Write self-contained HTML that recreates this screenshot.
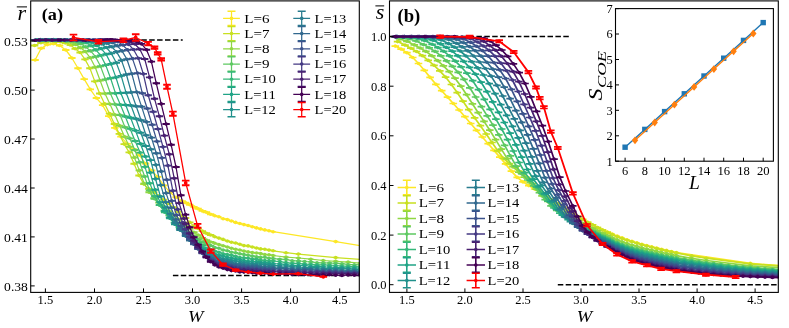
<!DOCTYPE html>
<html><head><meta charset="utf-8"><title>fig</title>
<style>html,body{margin:0;padding:0;background:#fff}svg{display:block;will-change:transform}</style></head>
<body>
<svg width="789" height="328" viewBox="0 0 789 328" font-family="Liberation Serif, serif" fill="#000">
<rect width="789" height="328" fill="#fff"/>
<defs><clipPath id="ca"><rect x="30.7" y="0.9" width="328.6" height="291.5"/></clipPath><clipPath id="cb"><rect x="389.5" y="0.9" width="388.79999999999995" height="291.5"/></clipPath></defs>
<g clip-path="url(#ca)">
<path d="M30.7,40.0H182.7M172.9,275.6H359.3" stroke="#000" stroke-width="1.5" stroke-dasharray="5.5,2.4" fill="none"/>
<polyline points="35.1,60.0 41.2,48.3 47.4,44.6 53.5,43.7 59.6,45.5 65.8,50.0 71.9,58.0 78.0,68.2 84.2,79.1 90.3,89.4 96.4,98.0 102.6,105.1 108.7,116.1 114.8,127.9 120.9,136.6 127.1,143.9 133.2,149.2 139.3,155.1 145.5,163.5 151.6,170.5 157.7,176.9 163.9,185.4 170.0,192.4 176.1,197.3 182.2,201.1 185.6,202.8 189.8,204.7 193.9,206.9 198.1,208.7 202.3,210.9 206.4,212.3 210.6,214.3 214.8,215.7 218.9,216.7 223.1,218.8 227.3,219.6 231.4,221.0 235.6,222.4 239.8,223.5 243.9,224.6 248.1,225.5 252.3,226.8 256.5,227.9 260.6,228.9 264.8,229.9 269.0,230.7 273.1,231.7 335.7,241.6 397.6,251.9" fill="none" stroke="#fde725" stroke-width="1.25" stroke-linejoin="round"/>
<path d="M31.4,60.0h7.4M37.5,48.3h7.4M43.7,44.6h7.4M49.8,43.7h7.4M55.9,45.5h7.4M62.1,50.0h7.4M68.2,58.0h7.4M74.3,68.2h7.4M80.5,79.1h7.4M86.6,89.4h7.4M92.7,98.0h7.4M98.9,105.1h7.4M105.0,116.1h7.4M111.1,127.9h7.4M117.2,136.6h7.4M123.4,143.9h7.4M129.5,149.2h7.4M135.6,155.1h7.4M141.8,163.5h7.4M147.9,170.5h7.4M154.0,176.9h7.4M160.2,185.4h7.4M166.3,192.4h7.4M172.4,197.3h7.4M178.5,201.1h7.4M181.9,202.8h7.4M186.1,204.7h7.4M190.2,206.9h7.4M194.4,208.7h7.4M198.6,210.9h7.4M202.7,212.3h7.4M206.9,214.3h7.4" stroke="#fde725" stroke-width="1.9" fill="none"/>
<path d="M212.2,215.7h5.2M216.3,216.7h5.2M220.5,218.8h5.2M224.7,219.6h5.2M228.8,221.0h5.2M233.0,222.4h5.2M237.2,223.5h5.2M241.3,224.6h5.2M245.5,225.5h5.2M249.7,226.8h5.2M253.9,227.9h5.2M258.0,228.9h5.2M262.2,229.9h5.2M266.4,230.7h5.2M270.5,231.7h5.2M333.1,241.6h5.2M395.0,251.9h5.2" stroke="#fde725" stroke-width="1.5" fill="none"/>
<path d="M33.3,60.0a1.8,1.8 0 1,0 3.6,0a1.8,1.8 0 1,0 -3.6,0zM39.4,48.3a1.8,1.8 0 1,0 3.6,0a1.8,1.8 0 1,0 -3.6,0zM45.6,44.6a1.8,1.8 0 1,0 3.6,0a1.8,1.8 0 1,0 -3.6,0zM51.7,43.7a1.8,1.8 0 1,0 3.6,0a1.8,1.8 0 1,0 -3.6,0zM57.8,45.5a1.8,1.8 0 1,0 3.6,0a1.8,1.8 0 1,0 -3.6,0zM64.0,50.0a1.8,1.8 0 1,0 3.6,0a1.8,1.8 0 1,0 -3.6,0zM70.1,58.0a1.8,1.8 0 1,0 3.6,0a1.8,1.8 0 1,0 -3.6,0zM76.2,68.2a1.8,1.8 0 1,0 3.6,0a1.8,1.8 0 1,0 -3.6,0zM82.4,79.1a1.8,1.8 0 1,0 3.6,0a1.8,1.8 0 1,0 -3.6,0zM88.5,89.4a1.8,1.8 0 1,0 3.6,0a1.8,1.8 0 1,0 -3.6,0zM94.6,98.0a1.8,1.8 0 1,0 3.6,0a1.8,1.8 0 1,0 -3.6,0zM100.8,105.1a1.8,1.8 0 1,0 3.6,0a1.8,1.8 0 1,0 -3.6,0zM106.9,116.1a1.8,1.8 0 1,0 3.6,0a1.8,1.8 0 1,0 -3.6,0zM113.0,127.9a1.8,1.8 0 1,0 3.6,0a1.8,1.8 0 1,0 -3.6,0zM119.1,136.6a1.8,1.8 0 1,0 3.6,0a1.8,1.8 0 1,0 -3.6,0zM125.3,143.9a1.8,1.8 0 1,0 3.6,0a1.8,1.8 0 1,0 -3.6,0zM131.4,149.2a1.8,1.8 0 1,0 3.6,0a1.8,1.8 0 1,0 -3.6,0zM137.5,155.1a1.8,1.8 0 1,0 3.6,0a1.8,1.8 0 1,0 -3.6,0zM143.7,163.5a1.8,1.8 0 1,0 3.6,0a1.8,1.8 0 1,0 -3.6,0zM149.8,170.5a1.8,1.8 0 1,0 3.6,0a1.8,1.8 0 1,0 -3.6,0zM155.9,176.9a1.8,1.8 0 1,0 3.6,0a1.8,1.8 0 1,0 -3.6,0zM162.1,185.4a1.8,1.8 0 1,0 3.6,0a1.8,1.8 0 1,0 -3.6,0zM168.2,192.4a1.8,1.8 0 1,0 3.6,0a1.8,1.8 0 1,0 -3.6,0zM174.3,197.3a1.8,1.8 0 1,0 3.6,0a1.8,1.8 0 1,0 -3.6,0zM180.4,201.1a1.8,1.8 0 1,0 3.6,0a1.8,1.8 0 1,0 -3.6,0zM183.8,202.8a1.8,1.8 0 1,0 3.6,0a1.8,1.8 0 1,0 -3.6,0zM188.0,204.7a1.8,1.8 0 1,0 3.6,0a1.8,1.8 0 1,0 -3.6,0zM192.1,206.9a1.8,1.8 0 1,0 3.6,0a1.8,1.8 0 1,0 -3.6,0zM196.3,208.7a1.8,1.8 0 1,0 3.6,0a1.8,1.8 0 1,0 -3.6,0zM200.5,210.9a1.8,1.8 0 1,0 3.6,0a1.8,1.8 0 1,0 -3.6,0zM204.6,212.3a1.8,1.8 0 1,0 3.6,0a1.8,1.8 0 1,0 -3.6,0zM208.8,214.3a1.8,1.8 0 1,0 3.6,0a1.8,1.8 0 1,0 -3.6,0zM213.0,215.7a1.8,1.8 0 1,0 3.6,0a1.8,1.8 0 1,0 -3.6,0zM217.1,216.7a1.8,1.8 0 1,0 3.6,0a1.8,1.8 0 1,0 -3.6,0zM221.3,218.8a1.8,1.8 0 1,0 3.6,0a1.8,1.8 0 1,0 -3.6,0zM225.5,219.6a1.8,1.8 0 1,0 3.6,0a1.8,1.8 0 1,0 -3.6,0zM229.6,221.0a1.8,1.8 0 1,0 3.6,0a1.8,1.8 0 1,0 -3.6,0zM233.8,222.4a1.8,1.8 0 1,0 3.6,0a1.8,1.8 0 1,0 -3.6,0zM238.0,223.5a1.8,1.8 0 1,0 3.6,0a1.8,1.8 0 1,0 -3.6,0zM242.1,224.6a1.8,1.8 0 1,0 3.6,0a1.8,1.8 0 1,0 -3.6,0zM246.3,225.5a1.8,1.8 0 1,0 3.6,0a1.8,1.8 0 1,0 -3.6,0zM250.5,226.8a1.8,1.8 0 1,0 3.6,0a1.8,1.8 0 1,0 -3.6,0zM254.7,227.9a1.8,1.8 0 1,0 3.6,0a1.8,1.8 0 1,0 -3.6,0zM258.8,228.9a1.8,1.8 0 1,0 3.6,0a1.8,1.8 0 1,0 -3.6,0zM263.0,229.9a1.8,1.8 0 1,0 3.6,0a1.8,1.8 0 1,0 -3.6,0zM267.2,230.7a1.8,1.8 0 1,0 3.6,0a1.8,1.8 0 1,0 -3.6,0zM271.3,231.7a1.8,1.8 0 1,0 3.6,0a1.8,1.8 0 1,0 -3.6,0zM333.9,241.6a1.8,1.8 0 1,0 3.6,0a1.8,1.8 0 1,0 -3.6,0zM395.8,251.9a1.8,1.8 0 1,0 3.6,0a1.8,1.8 0 1,0 -3.6,0z" fill="#fde725"/>
<polyline points="34.6,45.5 40.9,42.7 45.8,42.0 50.7,40.9 55.6,41.8 60.5,41.8 65.4,43.0 70.3,45.0 75.2,48.8 80.1,52.5 85.0,59.4 89.9,68.3 94.8,81.4 99.7,93.5 104.6,103.8 109.5,113.6 114.4,124.0 119.3,133.9 124.2,144.1 129.2,152.4 134.1,163.7 139.0,175.5 143.9,184.1 148.8,188.9 153.7,192.2 158.6,195.9 163.5,199.6 168.4,203.4 173.3,207.3 178.2,211.7 183.1,216.3 185.6,218.0 189.8,222.4 193.9,226.1 198.1,228.5 202.3,231.1 206.4,233.2 210.6,235.0 214.8,236.7 218.9,238.1 223.1,239.4 227.3,241.0 231.4,242.3 235.6,243.0 239.8,244.3 243.9,245.6 248.1,245.9 252.3,247.0 256.5,248.0 260.6,248.9 264.8,249.3 269.0,250.1 273.1,250.8 286.0,252.7 298.4,254.1 335.7,257.6 397.6,262.3" fill="none" stroke="#c8e020" stroke-width="1.25" stroke-linejoin="round"/>
<path d="M30.9,45.5h7.4M37.2,42.7h7.4M42.1,42.0h7.4M47.0,40.9h7.4M51.9,41.8h7.4M56.8,41.8h7.4M61.7,43.0h7.4M66.6,45.0h7.4M71.5,48.8h7.4M76.4,52.5h7.4M81.3,59.4h7.4M86.2,68.3h7.4M91.1,81.4h7.4M96.0,93.5h7.4M100.9,103.8h7.4M105.8,113.6h7.4M110.7,124.0h7.4M115.6,133.9h7.4M120.5,144.1h7.4M125.5,152.4h7.4M130.4,163.7h7.4M135.3,175.5h7.4M140.2,184.1h7.4M145.1,188.9h7.4M150.0,192.2h7.4M154.9,195.9h7.4M159.8,199.6h7.4M164.7,203.4h7.4M169.6,207.3h7.4M174.5,211.7h7.4M179.4,216.3h7.4M181.9,218.0h7.4M186.1,222.4h7.4M190.2,226.1h7.4M194.4,228.5h7.4M198.6,231.1h7.4M202.7,233.2h7.4M206.9,235.0h7.4" stroke="#c8e020" stroke-width="1.9" fill="none"/>
<path d="M212.2,236.7h5.2M216.3,238.1h5.2M220.5,239.4h5.2M224.7,241.0h5.2M228.8,242.3h5.2M233.0,243.0h5.2M237.2,244.3h5.2M241.3,245.6h5.2M245.5,245.9h5.2M249.7,247.0h5.2M253.9,248.0h5.2M258.0,248.9h5.2M262.2,249.3h5.2M266.4,250.1h5.2M270.5,250.8h5.2M283.4,252.7h5.2M295.8,254.1h5.2M333.1,257.6h5.2M395.0,262.3h5.2" stroke="#c8e020" stroke-width="1.5" fill="none"/>
<path d="M32.8,45.5a1.8,1.8 0 1,0 3.6,0a1.8,1.8 0 1,0 -3.6,0zM39.1,42.7a1.8,1.8 0 1,0 3.6,0a1.8,1.8 0 1,0 -3.6,0zM44.0,42.0a1.8,1.8 0 1,0 3.6,0a1.8,1.8 0 1,0 -3.6,0zM48.9,40.9a1.8,1.8 0 1,0 3.6,0a1.8,1.8 0 1,0 -3.6,0zM53.8,41.8a1.8,1.8 0 1,0 3.6,0a1.8,1.8 0 1,0 -3.6,0zM58.7,41.8a1.8,1.8 0 1,0 3.6,0a1.8,1.8 0 1,0 -3.6,0zM63.6,43.0a1.8,1.8 0 1,0 3.6,0a1.8,1.8 0 1,0 -3.6,0zM68.5,45.0a1.8,1.8 0 1,0 3.6,0a1.8,1.8 0 1,0 -3.6,0zM73.4,48.8a1.8,1.8 0 1,0 3.6,0a1.8,1.8 0 1,0 -3.6,0zM78.3,52.5a1.8,1.8 0 1,0 3.6,0a1.8,1.8 0 1,0 -3.6,0zM83.2,59.4a1.8,1.8 0 1,0 3.6,0a1.8,1.8 0 1,0 -3.6,0zM88.1,68.3a1.8,1.8 0 1,0 3.6,0a1.8,1.8 0 1,0 -3.6,0zM93.0,81.4a1.8,1.8 0 1,0 3.6,0a1.8,1.8 0 1,0 -3.6,0zM97.9,93.5a1.8,1.8 0 1,0 3.6,0a1.8,1.8 0 1,0 -3.6,0zM102.8,103.8a1.8,1.8 0 1,0 3.6,0a1.8,1.8 0 1,0 -3.6,0zM107.7,113.6a1.8,1.8 0 1,0 3.6,0a1.8,1.8 0 1,0 -3.6,0zM112.6,124.0a1.8,1.8 0 1,0 3.6,0a1.8,1.8 0 1,0 -3.6,0zM117.5,133.9a1.8,1.8 0 1,0 3.6,0a1.8,1.8 0 1,0 -3.6,0zM122.4,144.1a1.8,1.8 0 1,0 3.6,0a1.8,1.8 0 1,0 -3.6,0zM127.4,152.4a1.8,1.8 0 1,0 3.6,0a1.8,1.8 0 1,0 -3.6,0zM132.3,163.7a1.8,1.8 0 1,0 3.6,0a1.8,1.8 0 1,0 -3.6,0zM137.2,175.5a1.8,1.8 0 1,0 3.6,0a1.8,1.8 0 1,0 -3.6,0zM142.1,184.1a1.8,1.8 0 1,0 3.6,0a1.8,1.8 0 1,0 -3.6,0zM147.0,188.9a1.8,1.8 0 1,0 3.6,0a1.8,1.8 0 1,0 -3.6,0zM151.9,192.2a1.8,1.8 0 1,0 3.6,0a1.8,1.8 0 1,0 -3.6,0zM156.8,195.9a1.8,1.8 0 1,0 3.6,0a1.8,1.8 0 1,0 -3.6,0zM161.7,199.6a1.8,1.8 0 1,0 3.6,0a1.8,1.8 0 1,0 -3.6,0zM166.6,203.4a1.8,1.8 0 1,0 3.6,0a1.8,1.8 0 1,0 -3.6,0zM171.5,207.3a1.8,1.8 0 1,0 3.6,0a1.8,1.8 0 1,0 -3.6,0zM176.4,211.7a1.8,1.8 0 1,0 3.6,0a1.8,1.8 0 1,0 -3.6,0zM181.3,216.3a1.8,1.8 0 1,0 3.6,0a1.8,1.8 0 1,0 -3.6,0zM183.8,218.0a1.8,1.8 0 1,0 3.6,0a1.8,1.8 0 1,0 -3.6,0zM188.0,222.4a1.8,1.8 0 1,0 3.6,0a1.8,1.8 0 1,0 -3.6,0zM192.1,226.1a1.8,1.8 0 1,0 3.6,0a1.8,1.8 0 1,0 -3.6,0zM196.3,228.5a1.8,1.8 0 1,0 3.6,0a1.8,1.8 0 1,0 -3.6,0zM200.5,231.1a1.8,1.8 0 1,0 3.6,0a1.8,1.8 0 1,0 -3.6,0zM204.6,233.2a1.8,1.8 0 1,0 3.6,0a1.8,1.8 0 1,0 -3.6,0zM208.8,235.0a1.8,1.8 0 1,0 3.6,0a1.8,1.8 0 1,0 -3.6,0zM213.0,236.7a1.8,1.8 0 1,0 3.6,0a1.8,1.8 0 1,0 -3.6,0zM217.1,238.1a1.8,1.8 0 1,0 3.6,0a1.8,1.8 0 1,0 -3.6,0zM221.3,239.4a1.8,1.8 0 1,0 3.6,0a1.8,1.8 0 1,0 -3.6,0zM225.5,241.0a1.8,1.8 0 1,0 3.6,0a1.8,1.8 0 1,0 -3.6,0zM229.6,242.3a1.8,1.8 0 1,0 3.6,0a1.8,1.8 0 1,0 -3.6,0zM233.8,243.0a1.8,1.8 0 1,0 3.6,0a1.8,1.8 0 1,0 -3.6,0zM238.0,244.3a1.8,1.8 0 1,0 3.6,0a1.8,1.8 0 1,0 -3.6,0zM242.1,245.6a1.8,1.8 0 1,0 3.6,0a1.8,1.8 0 1,0 -3.6,0zM246.3,245.9a1.8,1.8 0 1,0 3.6,0a1.8,1.8 0 1,0 -3.6,0zM250.5,247.0a1.8,1.8 0 1,0 3.6,0a1.8,1.8 0 1,0 -3.6,0zM254.7,248.0a1.8,1.8 0 1,0 3.6,0a1.8,1.8 0 1,0 -3.6,0zM258.8,248.9a1.8,1.8 0 1,0 3.6,0a1.8,1.8 0 1,0 -3.6,0zM263.0,249.3a1.8,1.8 0 1,0 3.6,0a1.8,1.8 0 1,0 -3.6,0zM267.2,250.1a1.8,1.8 0 1,0 3.6,0a1.8,1.8 0 1,0 -3.6,0zM271.3,250.8a1.8,1.8 0 1,0 3.6,0a1.8,1.8 0 1,0 -3.6,0zM284.2,252.7a1.8,1.8 0 1,0 3.6,0a1.8,1.8 0 1,0 -3.6,0zM296.6,254.1a1.8,1.8 0 1,0 3.6,0a1.8,1.8 0 1,0 -3.6,0zM333.9,257.6a1.8,1.8 0 1,0 3.6,0a1.8,1.8 0 1,0 -3.6,0zM395.8,262.3a1.8,1.8 0 1,0 3.6,0a1.8,1.8 0 1,0 -3.6,0z" fill="#c8e020"/>
<polyline points="39.9,41.1 46.1,40.4 51.0,40.5 55.9,40.5 60.9,40.7 65.8,41.4 70.7,42.3 75.6,44.5 80.5,47.8 85.4,51.6 90.3,57.8 95.2,67.2 100.1,80.5 105.0,93.6 109.9,104.1 114.8,114.7 119.7,125.8 124.6,136.8 129.5,146.7 134.4,157.5 139.3,170.4 144.2,183.5 149.1,192.2 154.0,198.3 158.9,202.6 163.8,206.7 168.8,211.1 173.7,215.0 178.6,219.2 183.5,223.3 185.6,225.5 189.8,228.7 193.9,232.3 198.1,235.1 202.3,237.9 206.4,240.1 210.6,242.0 214.8,243.3 218.9,244.6 223.1,245.7 227.3,247.0 231.4,248.3 235.6,249.2 239.8,250.0 243.9,251.1 248.1,251.9 252.3,252.6 256.5,253.0 260.6,253.6 264.8,254.5 269.0,254.8 273.1,255.5 286.0,257.1 298.4,258.0 310.8,259.2 323.2,260.5 335.7,261.3 348.1,262.1 360.5,263.1 372.9,263.7 385.3,264.2 397.8,265.3" fill="none" stroke="#90d743" stroke-width="1.25" stroke-linejoin="round"/>
<path d="M36.2,41.1h7.4M42.4,40.4h7.4M47.3,40.5h7.4M52.2,40.5h7.4M57.2,40.7h7.4M62.1,41.4h7.4M67.0,42.3h7.4M71.9,44.5h7.4M76.8,47.8h7.4M81.7,51.6h7.4M86.6,57.8h7.4M91.5,67.2h7.4M96.4,80.5h7.4M101.3,93.6h7.4M106.2,104.1h7.4M111.1,114.7h7.4M116.0,125.8h7.4M120.9,136.8h7.4M125.8,146.7h7.4M130.7,157.5h7.4M135.6,170.4h7.4M140.5,183.5h7.4M145.4,192.2h7.4M150.3,198.3h7.4M155.2,202.6h7.4M160.1,206.7h7.4M165.1,211.1h7.4M170.0,215.0h7.4M174.9,219.2h7.4M179.8,223.3h7.4M181.9,225.5h7.4M186.1,228.7h7.4M190.2,232.3h7.4M194.4,235.1h7.4M198.6,237.9h7.4M202.7,240.1h7.4M206.9,242.0h7.4" stroke="#90d743" stroke-width="1.9" fill="none"/>
<path d="M212.2,243.3h5.2M216.3,244.6h5.2M220.5,245.7h5.2M224.7,247.0h5.2M228.8,248.3h5.2M233.0,249.2h5.2M237.2,250.0h5.2M241.3,251.1h5.2M245.5,251.9h5.2M249.7,252.6h5.2M253.9,253.0h5.2M258.0,253.6h5.2M262.2,254.5h5.2M266.4,254.8h5.2M270.5,255.5h5.2M283.4,257.1h5.2M295.8,258.0h5.2M308.2,259.2h5.2M320.6,260.5h5.2M333.1,261.3h5.2M345.5,262.1h5.2M357.9,263.1h5.2M370.3,263.7h5.2M382.7,264.2h5.2M395.2,265.3h5.2" stroke="#90d743" stroke-width="1.5" fill="none"/>
<path d="M38.1,41.1a1.8,1.8 0 1,0 3.6,0a1.8,1.8 0 1,0 -3.6,0zM44.3,40.4a1.8,1.8 0 1,0 3.6,0a1.8,1.8 0 1,0 -3.6,0zM49.2,40.5a1.8,1.8 0 1,0 3.6,0a1.8,1.8 0 1,0 -3.6,0zM54.1,40.5a1.8,1.8 0 1,0 3.6,0a1.8,1.8 0 1,0 -3.6,0zM59.1,40.7a1.8,1.8 0 1,0 3.6,0a1.8,1.8 0 1,0 -3.6,0zM64.0,41.4a1.8,1.8 0 1,0 3.6,0a1.8,1.8 0 1,0 -3.6,0zM68.9,42.3a1.8,1.8 0 1,0 3.6,0a1.8,1.8 0 1,0 -3.6,0zM73.8,44.5a1.8,1.8 0 1,0 3.6,0a1.8,1.8 0 1,0 -3.6,0zM78.7,47.8a1.8,1.8 0 1,0 3.6,0a1.8,1.8 0 1,0 -3.6,0zM83.6,51.6a1.8,1.8 0 1,0 3.6,0a1.8,1.8 0 1,0 -3.6,0zM88.5,57.8a1.8,1.8 0 1,0 3.6,0a1.8,1.8 0 1,0 -3.6,0zM93.4,67.2a1.8,1.8 0 1,0 3.6,0a1.8,1.8 0 1,0 -3.6,0zM98.3,80.5a1.8,1.8 0 1,0 3.6,0a1.8,1.8 0 1,0 -3.6,0zM103.2,93.6a1.8,1.8 0 1,0 3.6,0a1.8,1.8 0 1,0 -3.6,0zM108.1,104.1a1.8,1.8 0 1,0 3.6,0a1.8,1.8 0 1,0 -3.6,0zM113.0,114.7a1.8,1.8 0 1,0 3.6,0a1.8,1.8 0 1,0 -3.6,0zM117.9,125.8a1.8,1.8 0 1,0 3.6,0a1.8,1.8 0 1,0 -3.6,0zM122.8,136.8a1.8,1.8 0 1,0 3.6,0a1.8,1.8 0 1,0 -3.6,0zM127.7,146.7a1.8,1.8 0 1,0 3.6,0a1.8,1.8 0 1,0 -3.6,0zM132.6,157.5a1.8,1.8 0 1,0 3.6,0a1.8,1.8 0 1,0 -3.6,0zM137.5,170.4a1.8,1.8 0 1,0 3.6,0a1.8,1.8 0 1,0 -3.6,0zM142.4,183.5a1.8,1.8 0 1,0 3.6,0a1.8,1.8 0 1,0 -3.6,0zM147.3,192.2a1.8,1.8 0 1,0 3.6,0a1.8,1.8 0 1,0 -3.6,0zM152.2,198.3a1.8,1.8 0 1,0 3.6,0a1.8,1.8 0 1,0 -3.6,0zM157.1,202.6a1.8,1.8 0 1,0 3.6,0a1.8,1.8 0 1,0 -3.6,0zM162.0,206.7a1.8,1.8 0 1,0 3.6,0a1.8,1.8 0 1,0 -3.6,0zM167.0,211.1a1.8,1.8 0 1,0 3.6,0a1.8,1.8 0 1,0 -3.6,0zM171.9,215.0a1.8,1.8 0 1,0 3.6,0a1.8,1.8 0 1,0 -3.6,0zM176.8,219.2a1.8,1.8 0 1,0 3.6,0a1.8,1.8 0 1,0 -3.6,0zM181.7,223.3a1.8,1.8 0 1,0 3.6,0a1.8,1.8 0 1,0 -3.6,0zM183.8,225.5a1.8,1.8 0 1,0 3.6,0a1.8,1.8 0 1,0 -3.6,0zM188.0,228.7a1.8,1.8 0 1,0 3.6,0a1.8,1.8 0 1,0 -3.6,0zM192.1,232.3a1.8,1.8 0 1,0 3.6,0a1.8,1.8 0 1,0 -3.6,0zM196.3,235.1a1.8,1.8 0 1,0 3.6,0a1.8,1.8 0 1,0 -3.6,0zM200.5,237.9a1.8,1.8 0 1,0 3.6,0a1.8,1.8 0 1,0 -3.6,0zM204.6,240.1a1.8,1.8 0 1,0 3.6,0a1.8,1.8 0 1,0 -3.6,0zM208.8,242.0a1.8,1.8 0 1,0 3.6,0a1.8,1.8 0 1,0 -3.6,0zM213.0,243.3a1.8,1.8 0 1,0 3.6,0a1.8,1.8 0 1,0 -3.6,0zM217.1,244.6a1.8,1.8 0 1,0 3.6,0a1.8,1.8 0 1,0 -3.6,0zM221.3,245.7a1.8,1.8 0 1,0 3.6,0a1.8,1.8 0 1,0 -3.6,0zM225.5,247.0a1.8,1.8 0 1,0 3.6,0a1.8,1.8 0 1,0 -3.6,0zM229.6,248.3a1.8,1.8 0 1,0 3.6,0a1.8,1.8 0 1,0 -3.6,0zM233.8,249.2a1.8,1.8 0 1,0 3.6,0a1.8,1.8 0 1,0 -3.6,0zM238.0,250.0a1.8,1.8 0 1,0 3.6,0a1.8,1.8 0 1,0 -3.6,0zM242.1,251.1a1.8,1.8 0 1,0 3.6,0a1.8,1.8 0 1,0 -3.6,0zM246.3,251.9a1.8,1.8 0 1,0 3.6,0a1.8,1.8 0 1,0 -3.6,0zM250.5,252.6a1.8,1.8 0 1,0 3.6,0a1.8,1.8 0 1,0 -3.6,0zM254.7,253.0a1.8,1.8 0 1,0 3.6,0a1.8,1.8 0 1,0 -3.6,0zM258.8,253.6a1.8,1.8 0 1,0 3.6,0a1.8,1.8 0 1,0 -3.6,0zM263.0,254.5a1.8,1.8 0 1,0 3.6,0a1.8,1.8 0 1,0 -3.6,0zM267.2,254.8a1.8,1.8 0 1,0 3.6,0a1.8,1.8 0 1,0 -3.6,0zM271.3,255.5a1.8,1.8 0 1,0 3.6,0a1.8,1.8 0 1,0 -3.6,0zM284.2,257.1a1.8,1.8 0 1,0 3.6,0a1.8,1.8 0 1,0 -3.6,0zM296.6,258.0a1.8,1.8 0 1,0 3.6,0a1.8,1.8 0 1,0 -3.6,0zM309.0,259.2a1.8,1.8 0 1,0 3.6,0a1.8,1.8 0 1,0 -3.6,0zM321.4,260.5a1.8,1.8 0 1,0 3.6,0a1.8,1.8 0 1,0 -3.6,0zM333.9,261.3a1.8,1.8 0 1,0 3.6,0a1.8,1.8 0 1,0 -3.6,0zM346.3,262.1a1.8,1.8 0 1,0 3.6,0a1.8,1.8 0 1,0 -3.6,0zM358.7,263.1a1.8,1.8 0 1,0 3.6,0a1.8,1.8 0 1,0 -3.6,0zM371.1,263.7a1.8,1.8 0 1,0 3.6,0a1.8,1.8 0 1,0 -3.6,0zM383.5,264.2a1.8,1.8 0 1,0 3.6,0a1.8,1.8 0 1,0 -3.6,0zM396.0,265.3a1.8,1.8 0 1,0 3.6,0a1.8,1.8 0 1,0 -3.6,0z" fill="#90d743"/>
<polyline points="38.9,39.9 45.2,39.8 51.4,40.0 56.3,40.5 61.2,40.4 66.1,40.9 71.0,41.0 75.9,41.7 80.8,43.7 85.7,46.9 90.6,50.9 95.5,56.7 100.5,66.3 105.4,79.4 110.3,93.3 115.2,104.4 120.1,115.1 125.0,127.3 129.9,138.4 134.8,150.0 139.7,162.2 144.6,176.5 149.5,190.4 154.4,198.7 159.3,205.1 164.2,210.8 169.1,215.2 174.0,219.5 178.9,223.4 183.8,227.5 185.6,229.2 189.8,232.8 193.9,236.4 198.1,239.4 202.3,242.0 206.4,244.3 210.6,245.6 214.8,247.5 218.9,248.3 223.1,250.1 227.3,250.8 231.4,252.2 235.6,252.7 239.8,253.8 243.9,254.6 248.1,255.2 252.3,256.1 256.5,256.7 260.6,257.4 264.8,257.3 269.0,258.2 273.1,258.6 279.8,259.2 286.0,259.4 292.2,260.7 298.4,260.9 304.6,261.5 310.8,261.8 317.0,262.7 323.2,262.9 329.5,263.0 335.7,263.3 341.9,263.7 348.1,264.5 354.3,264.7 360.5,265.0 366.7,265.6 372.9,265.9 379.1,265.8 385.3,266.2 391.5,266.5 397.8,266.5 404.0,267.2" fill="none" stroke="#5ec962" stroke-width="1.25" stroke-linejoin="round"/>
<path d="M35.2,39.9h7.4M41.5,39.8h7.4M47.7,40.0h7.4M52.6,40.5h7.4M57.5,40.4h7.4M62.4,40.9h7.4M67.3,41.0h7.4M72.2,41.7h7.4M77.1,43.7h7.4M82.0,46.9h7.4M86.9,50.9h7.4M91.8,56.7h7.4M96.8,66.3h7.4M101.7,79.4h7.4M106.6,93.3h7.4M111.5,104.4h7.4M116.4,115.1h7.4M121.3,127.3h7.4M126.2,138.4h7.4M131.1,150.0h7.4M136.0,162.2h7.4M140.9,176.5h7.4M145.8,190.4h7.4M150.7,198.7h7.4M155.6,205.1h7.4M160.5,210.8h7.4M165.4,215.2h7.4M170.3,219.5h7.4M175.2,223.4h7.4M180.1,227.5h7.4M181.9,229.2h7.4M186.1,232.8h7.4M190.2,236.4h7.4M194.4,239.4h7.4M198.6,242.0h7.4M202.7,244.3h7.4M206.9,245.6h7.4" stroke="#5ec962" stroke-width="1.9" fill="none"/>
<path d="M212.2,247.5h5.2M216.3,248.3h5.2M220.5,250.1h5.2M224.7,250.8h5.2M228.8,252.2h5.2M233.0,252.7h5.2M237.2,253.8h5.2M241.3,254.6h5.2M245.5,255.2h5.2M249.7,256.1h5.2M253.9,256.7h5.2M258.0,257.4h5.2M262.2,257.3h5.2M266.4,258.2h5.2M270.5,258.6h5.2M277.2,259.2h5.2M283.4,259.4h5.2M289.6,260.7h5.2M295.8,260.9h5.2M302.0,261.5h5.2M308.2,261.8h5.2M314.4,262.7h5.2M320.6,262.9h5.2M326.9,263.0h5.2M333.1,263.3h5.2M339.3,263.7h5.2M345.5,264.5h5.2M351.7,264.7h5.2M357.9,265.0h5.2M364.1,265.6h5.2M370.3,265.9h5.2M376.5,265.8h5.2M382.7,266.2h5.2M388.9,266.5h5.2M395.2,266.5h5.2M401.4,267.2h5.2" stroke="#5ec962" stroke-width="1.5" fill="none"/>
<path d="M37.1,39.9a1.8,1.8 0 1,0 3.6,0a1.8,1.8 0 1,0 -3.6,0zM43.4,39.8a1.8,1.8 0 1,0 3.6,0a1.8,1.8 0 1,0 -3.6,0zM49.6,40.0a1.8,1.8 0 1,0 3.6,0a1.8,1.8 0 1,0 -3.6,0zM54.5,40.5a1.8,1.8 0 1,0 3.6,0a1.8,1.8 0 1,0 -3.6,0zM59.4,40.4a1.8,1.8 0 1,0 3.6,0a1.8,1.8 0 1,0 -3.6,0zM64.3,40.9a1.8,1.8 0 1,0 3.6,0a1.8,1.8 0 1,0 -3.6,0zM69.2,41.0a1.8,1.8 0 1,0 3.6,0a1.8,1.8 0 1,0 -3.6,0zM74.1,41.7a1.8,1.8 0 1,0 3.6,0a1.8,1.8 0 1,0 -3.6,0zM79.0,43.7a1.8,1.8 0 1,0 3.6,0a1.8,1.8 0 1,0 -3.6,0zM83.9,46.9a1.8,1.8 0 1,0 3.6,0a1.8,1.8 0 1,0 -3.6,0zM88.8,50.9a1.8,1.8 0 1,0 3.6,0a1.8,1.8 0 1,0 -3.6,0zM93.7,56.7a1.8,1.8 0 1,0 3.6,0a1.8,1.8 0 1,0 -3.6,0zM98.7,66.3a1.8,1.8 0 1,0 3.6,0a1.8,1.8 0 1,0 -3.6,0zM103.6,79.4a1.8,1.8 0 1,0 3.6,0a1.8,1.8 0 1,0 -3.6,0zM108.5,93.3a1.8,1.8 0 1,0 3.6,0a1.8,1.8 0 1,0 -3.6,0zM113.4,104.4a1.8,1.8 0 1,0 3.6,0a1.8,1.8 0 1,0 -3.6,0zM118.3,115.1a1.8,1.8 0 1,0 3.6,0a1.8,1.8 0 1,0 -3.6,0zM123.2,127.3a1.8,1.8 0 1,0 3.6,0a1.8,1.8 0 1,0 -3.6,0zM128.1,138.4a1.8,1.8 0 1,0 3.6,0a1.8,1.8 0 1,0 -3.6,0zM133.0,150.0a1.8,1.8 0 1,0 3.6,0a1.8,1.8 0 1,0 -3.6,0zM137.9,162.2a1.8,1.8 0 1,0 3.6,0a1.8,1.8 0 1,0 -3.6,0zM142.8,176.5a1.8,1.8 0 1,0 3.6,0a1.8,1.8 0 1,0 -3.6,0zM147.7,190.4a1.8,1.8 0 1,0 3.6,0a1.8,1.8 0 1,0 -3.6,0zM152.6,198.7a1.8,1.8 0 1,0 3.6,0a1.8,1.8 0 1,0 -3.6,0zM157.5,205.1a1.8,1.8 0 1,0 3.6,0a1.8,1.8 0 1,0 -3.6,0zM162.4,210.8a1.8,1.8 0 1,0 3.6,0a1.8,1.8 0 1,0 -3.6,0zM167.3,215.2a1.8,1.8 0 1,0 3.6,0a1.8,1.8 0 1,0 -3.6,0zM172.2,219.5a1.8,1.8 0 1,0 3.6,0a1.8,1.8 0 1,0 -3.6,0zM177.1,223.4a1.8,1.8 0 1,0 3.6,0a1.8,1.8 0 1,0 -3.6,0zM182.0,227.5a1.8,1.8 0 1,0 3.6,0a1.8,1.8 0 1,0 -3.6,0zM183.8,229.2a1.8,1.8 0 1,0 3.6,0a1.8,1.8 0 1,0 -3.6,0zM188.0,232.8a1.8,1.8 0 1,0 3.6,0a1.8,1.8 0 1,0 -3.6,0zM192.1,236.4a1.8,1.8 0 1,0 3.6,0a1.8,1.8 0 1,0 -3.6,0zM196.3,239.4a1.8,1.8 0 1,0 3.6,0a1.8,1.8 0 1,0 -3.6,0zM200.5,242.0a1.8,1.8 0 1,0 3.6,0a1.8,1.8 0 1,0 -3.6,0zM204.6,244.3a1.8,1.8 0 1,0 3.6,0a1.8,1.8 0 1,0 -3.6,0zM208.8,245.6a1.8,1.8 0 1,0 3.6,0a1.8,1.8 0 1,0 -3.6,0zM213.0,247.5a1.8,1.8 0 1,0 3.6,0a1.8,1.8 0 1,0 -3.6,0zM217.1,248.3a1.8,1.8 0 1,0 3.6,0a1.8,1.8 0 1,0 -3.6,0zM221.3,250.1a1.8,1.8 0 1,0 3.6,0a1.8,1.8 0 1,0 -3.6,0zM225.5,250.8a1.8,1.8 0 1,0 3.6,0a1.8,1.8 0 1,0 -3.6,0zM229.6,252.2a1.8,1.8 0 1,0 3.6,0a1.8,1.8 0 1,0 -3.6,0zM233.8,252.7a1.8,1.8 0 1,0 3.6,0a1.8,1.8 0 1,0 -3.6,0zM238.0,253.8a1.8,1.8 0 1,0 3.6,0a1.8,1.8 0 1,0 -3.6,0zM242.1,254.6a1.8,1.8 0 1,0 3.6,0a1.8,1.8 0 1,0 -3.6,0zM246.3,255.2a1.8,1.8 0 1,0 3.6,0a1.8,1.8 0 1,0 -3.6,0zM250.5,256.1a1.8,1.8 0 1,0 3.6,0a1.8,1.8 0 1,0 -3.6,0zM254.7,256.7a1.8,1.8 0 1,0 3.6,0a1.8,1.8 0 1,0 -3.6,0zM258.8,257.4a1.8,1.8 0 1,0 3.6,0a1.8,1.8 0 1,0 -3.6,0zM263.0,257.3a1.8,1.8 0 1,0 3.6,0a1.8,1.8 0 1,0 -3.6,0zM267.2,258.2a1.8,1.8 0 1,0 3.6,0a1.8,1.8 0 1,0 -3.6,0zM271.3,258.6a1.8,1.8 0 1,0 3.6,0a1.8,1.8 0 1,0 -3.6,0zM278.0,259.2a1.8,1.8 0 1,0 3.6,0a1.8,1.8 0 1,0 -3.6,0zM284.2,259.4a1.8,1.8 0 1,0 3.6,0a1.8,1.8 0 1,0 -3.6,0zM290.4,260.7a1.8,1.8 0 1,0 3.6,0a1.8,1.8 0 1,0 -3.6,0zM296.6,260.9a1.8,1.8 0 1,0 3.6,0a1.8,1.8 0 1,0 -3.6,0zM302.8,261.5a1.8,1.8 0 1,0 3.6,0a1.8,1.8 0 1,0 -3.6,0zM309.0,261.8a1.8,1.8 0 1,0 3.6,0a1.8,1.8 0 1,0 -3.6,0zM315.2,262.7a1.8,1.8 0 1,0 3.6,0a1.8,1.8 0 1,0 -3.6,0zM321.4,262.9a1.8,1.8 0 1,0 3.6,0a1.8,1.8 0 1,0 -3.6,0zM327.7,263.0a1.8,1.8 0 1,0 3.6,0a1.8,1.8 0 1,0 -3.6,0zM333.9,263.3a1.8,1.8 0 1,0 3.6,0a1.8,1.8 0 1,0 -3.6,0zM340.1,263.7a1.8,1.8 0 1,0 3.6,0a1.8,1.8 0 1,0 -3.6,0zM346.3,264.5a1.8,1.8 0 1,0 3.6,0a1.8,1.8 0 1,0 -3.6,0zM352.5,264.7a1.8,1.8 0 1,0 3.6,0a1.8,1.8 0 1,0 -3.6,0zM358.7,265.0a1.8,1.8 0 1,0 3.6,0a1.8,1.8 0 1,0 -3.6,0zM364.9,265.6a1.8,1.8 0 1,0 3.6,0a1.8,1.8 0 1,0 -3.6,0zM371.1,265.9a1.8,1.8 0 1,0 3.6,0a1.8,1.8 0 1,0 -3.6,0zM377.3,265.8a1.8,1.8 0 1,0 3.6,0a1.8,1.8 0 1,0 -3.6,0zM383.5,266.2a1.8,1.8 0 1,0 3.6,0a1.8,1.8 0 1,0 -3.6,0zM389.7,266.5a1.8,1.8 0 1,0 3.6,0a1.8,1.8 0 1,0 -3.6,0zM396.0,266.5a1.8,1.8 0 1,0 3.6,0a1.8,1.8 0 1,0 -3.6,0zM402.2,267.2a1.8,1.8 0 1,0 3.6,0a1.8,1.8 0 1,0 -3.6,0z" fill="#5ec962"/>
<polyline points="37.9,39.9 44.2,40.0 50.4,40.0 56.7,39.9 61.6,40.1 66.5,40.3 71.4,40.5 76.3,40.5 81.2,41.6 86.1,42.7 91.0,45.8 95.9,49.9 100.8,55.5 105.7,65.1 110.6,78.2 115.5,93.4 120.4,104.8 125.3,116.5 130.2,128.9 135.1,141.0 140.1,152.6 145.0,166.9 149.9,183.2 154.8,196.3 159.7,205.0 164.6,212.2 169.5,217.6 174.4,222.6 179.3,227.0 184.2,231.1 185.6,232.7 189.8,236.3 193.9,239.5 198.1,243.1 202.3,245.6 206.4,248.2 210.6,249.5 214.8,251.1 218.9,252.2 223.1,253.7 227.3,254.6 231.4,255.3 235.6,256.3 239.8,257.6 243.9,257.7 248.1,258.3 252.3,259.1 256.5,259.3 260.6,260.2 264.8,260.5 269.0,260.7 273.1,261.0 279.8,261.6 286.0,262.6 292.2,263.3 298.4,263.3 304.6,264.1 310.8,264.3 317.0,264.9 323.2,264.8 329.5,265.2 335.7,265.5 341.9,266.0 348.1,266.3 354.3,266.6 360.5,266.8 366.7,267.1 372.9,267.3 379.1,267.7 385.3,267.5 391.5,268.1 397.8,268.1 404.0,268.3" fill="none" stroke="#35b779" stroke-width="1.25" stroke-linejoin="round"/>
<path d="M34.2,39.9h7.4M40.5,40.0h7.4M46.7,40.0h7.4M53.0,39.9h7.4M57.9,40.1h7.4M62.8,40.3h7.4M67.7,40.5h7.4M72.6,40.5h7.4M77.5,41.6h7.4M82.4,42.7h7.4M87.3,45.8h7.4M92.2,49.9h7.4M97.1,55.5h7.4M102.0,65.1h7.4M106.9,78.2h7.4M111.8,93.4h7.4M116.7,104.8h7.4M121.6,116.5h7.4M126.5,128.9h7.4M131.4,141.0h7.4M136.4,152.6h7.4M141.3,166.9h7.4M146.2,183.2h7.4M151.1,196.3h7.4M156.0,205.0h7.4M160.9,212.2h7.4M165.8,217.6h7.4M170.7,222.6h7.4M175.6,227.0h7.4M180.5,231.1h7.4M181.9,232.7h7.4M186.1,236.3h7.4M190.2,239.5h7.4M194.4,243.1h7.4M198.6,245.6h7.4M202.7,248.2h7.4M206.9,249.5h7.4" stroke="#35b779" stroke-width="1.9" fill="none"/>
<path d="M212.2,251.1h5.2M216.3,252.2h5.2M220.5,253.7h5.2M224.7,254.6h5.2M228.8,255.3h5.2M233.0,256.3h5.2M237.2,257.6h5.2M241.3,257.7h5.2M245.5,258.3h5.2M249.7,259.1h5.2M253.9,259.3h5.2M258.0,260.2h5.2M262.2,260.5h5.2M266.4,260.7h5.2M270.5,261.0h5.2M277.2,261.6h5.2M283.4,262.6h5.2M289.6,263.3h5.2M295.8,263.3h5.2M302.0,264.1h5.2M308.2,264.3h5.2M314.4,264.9h5.2M320.6,264.8h5.2M326.9,265.2h5.2M333.1,265.5h5.2M339.3,266.0h5.2M345.5,266.3h5.2M351.7,266.6h5.2M357.9,266.8h5.2M364.1,267.1h5.2M370.3,267.3h5.2M376.5,267.7h5.2M382.7,267.5h5.2M388.9,268.1h5.2M395.2,268.1h5.2M401.4,268.3h5.2" stroke="#35b779" stroke-width="1.5" fill="none"/>
<path d="M36.1,39.9a1.8,1.8 0 1,0 3.6,0a1.8,1.8 0 1,0 -3.6,0zM42.4,40.0a1.8,1.8 0 1,0 3.6,0a1.8,1.8 0 1,0 -3.6,0zM48.6,40.0a1.8,1.8 0 1,0 3.6,0a1.8,1.8 0 1,0 -3.6,0zM54.9,39.9a1.8,1.8 0 1,0 3.6,0a1.8,1.8 0 1,0 -3.6,0zM59.8,40.1a1.8,1.8 0 1,0 3.6,0a1.8,1.8 0 1,0 -3.6,0zM64.7,40.3a1.8,1.8 0 1,0 3.6,0a1.8,1.8 0 1,0 -3.6,0zM69.6,40.5a1.8,1.8 0 1,0 3.6,0a1.8,1.8 0 1,0 -3.6,0zM74.5,40.5a1.8,1.8 0 1,0 3.6,0a1.8,1.8 0 1,0 -3.6,0zM79.4,41.6a1.8,1.8 0 1,0 3.6,0a1.8,1.8 0 1,0 -3.6,0zM84.3,42.7a1.8,1.8 0 1,0 3.6,0a1.8,1.8 0 1,0 -3.6,0zM89.2,45.8a1.8,1.8 0 1,0 3.6,0a1.8,1.8 0 1,0 -3.6,0zM94.1,49.9a1.8,1.8 0 1,0 3.6,0a1.8,1.8 0 1,0 -3.6,0zM99.0,55.5a1.8,1.8 0 1,0 3.6,0a1.8,1.8 0 1,0 -3.6,0zM103.9,65.1a1.8,1.8 0 1,0 3.6,0a1.8,1.8 0 1,0 -3.6,0zM108.8,78.2a1.8,1.8 0 1,0 3.6,0a1.8,1.8 0 1,0 -3.6,0zM113.7,93.4a1.8,1.8 0 1,0 3.6,0a1.8,1.8 0 1,0 -3.6,0zM118.6,104.8a1.8,1.8 0 1,0 3.6,0a1.8,1.8 0 1,0 -3.6,0zM123.5,116.5a1.8,1.8 0 1,0 3.6,0a1.8,1.8 0 1,0 -3.6,0zM128.4,128.9a1.8,1.8 0 1,0 3.6,0a1.8,1.8 0 1,0 -3.6,0zM133.3,141.0a1.8,1.8 0 1,0 3.6,0a1.8,1.8 0 1,0 -3.6,0zM138.3,152.6a1.8,1.8 0 1,0 3.6,0a1.8,1.8 0 1,0 -3.6,0zM143.2,166.9a1.8,1.8 0 1,0 3.6,0a1.8,1.8 0 1,0 -3.6,0zM148.1,183.2a1.8,1.8 0 1,0 3.6,0a1.8,1.8 0 1,0 -3.6,0zM153.0,196.3a1.8,1.8 0 1,0 3.6,0a1.8,1.8 0 1,0 -3.6,0zM157.9,205.0a1.8,1.8 0 1,0 3.6,0a1.8,1.8 0 1,0 -3.6,0zM162.8,212.2a1.8,1.8 0 1,0 3.6,0a1.8,1.8 0 1,0 -3.6,0zM167.7,217.6a1.8,1.8 0 1,0 3.6,0a1.8,1.8 0 1,0 -3.6,0zM172.6,222.6a1.8,1.8 0 1,0 3.6,0a1.8,1.8 0 1,0 -3.6,0zM177.5,227.0a1.8,1.8 0 1,0 3.6,0a1.8,1.8 0 1,0 -3.6,0zM182.4,231.1a1.8,1.8 0 1,0 3.6,0a1.8,1.8 0 1,0 -3.6,0zM183.8,232.7a1.8,1.8 0 1,0 3.6,0a1.8,1.8 0 1,0 -3.6,0zM188.0,236.3a1.8,1.8 0 1,0 3.6,0a1.8,1.8 0 1,0 -3.6,0zM192.1,239.5a1.8,1.8 0 1,0 3.6,0a1.8,1.8 0 1,0 -3.6,0zM196.3,243.1a1.8,1.8 0 1,0 3.6,0a1.8,1.8 0 1,0 -3.6,0zM200.5,245.6a1.8,1.8 0 1,0 3.6,0a1.8,1.8 0 1,0 -3.6,0zM204.6,248.2a1.8,1.8 0 1,0 3.6,0a1.8,1.8 0 1,0 -3.6,0zM208.8,249.5a1.8,1.8 0 1,0 3.6,0a1.8,1.8 0 1,0 -3.6,0zM213.0,251.1a1.8,1.8 0 1,0 3.6,0a1.8,1.8 0 1,0 -3.6,0zM217.1,252.2a1.8,1.8 0 1,0 3.6,0a1.8,1.8 0 1,0 -3.6,0zM221.3,253.7a1.8,1.8 0 1,0 3.6,0a1.8,1.8 0 1,0 -3.6,0zM225.5,254.6a1.8,1.8 0 1,0 3.6,0a1.8,1.8 0 1,0 -3.6,0zM229.6,255.3a1.8,1.8 0 1,0 3.6,0a1.8,1.8 0 1,0 -3.6,0zM233.8,256.3a1.8,1.8 0 1,0 3.6,0a1.8,1.8 0 1,0 -3.6,0zM238.0,257.6a1.8,1.8 0 1,0 3.6,0a1.8,1.8 0 1,0 -3.6,0zM242.1,257.7a1.8,1.8 0 1,0 3.6,0a1.8,1.8 0 1,0 -3.6,0zM246.3,258.3a1.8,1.8 0 1,0 3.6,0a1.8,1.8 0 1,0 -3.6,0zM250.5,259.1a1.8,1.8 0 1,0 3.6,0a1.8,1.8 0 1,0 -3.6,0zM254.7,259.3a1.8,1.8 0 1,0 3.6,0a1.8,1.8 0 1,0 -3.6,0zM258.8,260.2a1.8,1.8 0 1,0 3.6,0a1.8,1.8 0 1,0 -3.6,0zM263.0,260.5a1.8,1.8 0 1,0 3.6,0a1.8,1.8 0 1,0 -3.6,0zM267.2,260.7a1.8,1.8 0 1,0 3.6,0a1.8,1.8 0 1,0 -3.6,0zM271.3,261.0a1.8,1.8 0 1,0 3.6,0a1.8,1.8 0 1,0 -3.6,0zM278.0,261.6a1.8,1.8 0 1,0 3.6,0a1.8,1.8 0 1,0 -3.6,0zM284.2,262.6a1.8,1.8 0 1,0 3.6,0a1.8,1.8 0 1,0 -3.6,0zM290.4,263.3a1.8,1.8 0 1,0 3.6,0a1.8,1.8 0 1,0 -3.6,0zM296.6,263.3a1.8,1.8 0 1,0 3.6,0a1.8,1.8 0 1,0 -3.6,0zM302.8,264.1a1.8,1.8 0 1,0 3.6,0a1.8,1.8 0 1,0 -3.6,0zM309.0,264.3a1.8,1.8 0 1,0 3.6,0a1.8,1.8 0 1,0 -3.6,0zM315.2,264.9a1.8,1.8 0 1,0 3.6,0a1.8,1.8 0 1,0 -3.6,0zM321.4,264.8a1.8,1.8 0 1,0 3.6,0a1.8,1.8 0 1,0 -3.6,0zM327.7,265.2a1.8,1.8 0 1,0 3.6,0a1.8,1.8 0 1,0 -3.6,0zM333.9,265.5a1.8,1.8 0 1,0 3.6,0a1.8,1.8 0 1,0 -3.6,0zM340.1,266.0a1.8,1.8 0 1,0 3.6,0a1.8,1.8 0 1,0 -3.6,0zM346.3,266.3a1.8,1.8 0 1,0 3.6,0a1.8,1.8 0 1,0 -3.6,0zM352.5,266.6a1.8,1.8 0 1,0 3.6,0a1.8,1.8 0 1,0 -3.6,0zM358.7,266.8a1.8,1.8 0 1,0 3.6,0a1.8,1.8 0 1,0 -3.6,0zM364.9,267.1a1.8,1.8 0 1,0 3.6,0a1.8,1.8 0 1,0 -3.6,0zM371.1,267.3a1.8,1.8 0 1,0 3.6,0a1.8,1.8 0 1,0 -3.6,0zM377.3,267.7a1.8,1.8 0 1,0 3.6,0a1.8,1.8 0 1,0 -3.6,0zM383.5,267.5a1.8,1.8 0 1,0 3.6,0a1.8,1.8 0 1,0 -3.6,0zM389.7,268.1a1.8,1.8 0 1,0 3.6,0a1.8,1.8 0 1,0 -3.6,0zM396.0,268.1a1.8,1.8 0 1,0 3.6,0a1.8,1.8 0 1,0 -3.6,0zM402.2,268.3a1.8,1.8 0 1,0 3.6,0a1.8,1.8 0 1,0 -3.6,0z" fill="#35b779"/>
<polyline points="36.9,40.1 43.2,40.3 49.4,39.7 55.7,40.0 61.9,40.0 66.8,40.1 71.8,40.2 76.7,40.7 81.6,40.8 86.5,41.4 91.4,42.3 96.3,45.5 101.2,48.6 106.1,54.3 111.0,63.9 115.9,77.4 120.8,93.0 125.7,105.0 130.6,117.7 135.5,130.6 140.4,143.7 145.3,156.5 150.2,172.6 155.1,189.8 160.0,202.2 164.9,211.0 169.8,218.2 174.7,224.2 179.6,228.9 185.6,234.5 189.8,238.3 193.9,242.0 198.1,245.4 202.3,248.5 206.4,250.8 210.6,252.7 214.8,254.1 218.9,255.1 223.1,256.1 227.3,257.3 231.4,258.0 235.6,258.9 239.8,259.6 243.9,260.6 248.1,261.3 252.3,261.4 256.5,261.8 260.6,262.2 264.8,262.6 269.0,262.9 273.1,263.5 279.8,263.9 286.0,264.6 292.2,265.4 298.4,265.4 304.6,265.4 310.8,266.4 317.0,266.2 323.2,266.8 329.5,267.1 335.7,267.3 341.9,267.5 348.1,268.0 354.3,268.1 360.5,268.2 366.7,268.4 372.9,268.9 379.1,268.7 385.3,268.8 391.5,268.9 397.8,269.9 404.0,269.7" fill="none" stroke="#20a486" stroke-width="1.25" stroke-linejoin="round"/>
<path d="M33.2,40.1h7.4M39.5,40.3h7.4M45.7,39.7h7.4M52.0,40.0h7.4M58.2,40.0h7.4M63.1,40.1h7.4M68.1,40.2h7.4M73.0,40.7h7.4M77.9,40.8h7.4M82.8,41.4h7.4M87.7,42.3h7.4M92.6,45.5h7.4M97.5,48.6h7.4M102.4,54.3h7.4M107.3,63.9h7.4M112.2,77.4h7.4M117.1,93.0h7.4M122.0,105.0h7.4M126.9,117.7h7.4M131.8,130.6h7.4M136.7,143.7h7.4M141.6,156.5h7.4M146.5,172.6h7.4M151.4,189.8h7.4M156.3,202.2h7.4M161.2,211.0h7.4M166.1,218.2h7.4M171.0,224.2h7.4M175.9,228.9h7.4M181.9,234.5h7.4M186.1,238.3h7.4M190.2,242.0h7.4M194.4,245.4h7.4M198.6,248.5h7.4M202.7,250.8h7.4M206.9,252.7h7.4" stroke="#20a486" stroke-width="1.9" fill="none"/>
<path d="M212.2,254.1h5.2M216.3,255.1h5.2M220.5,256.1h5.2M224.7,257.3h5.2M228.8,258.0h5.2M233.0,258.9h5.2M237.2,259.6h5.2M241.3,260.6h5.2M245.5,261.3h5.2M249.7,261.4h5.2M253.9,261.8h5.2M258.0,262.2h5.2M262.2,262.6h5.2M266.4,262.9h5.2M270.5,263.5h5.2M277.2,263.9h5.2M283.4,264.6h5.2M289.6,265.4h5.2M295.8,265.4h5.2M302.0,265.4h5.2M308.2,266.4h5.2M314.4,266.2h5.2M320.6,266.8h5.2M326.9,267.1h5.2M333.1,267.3h5.2M339.3,267.5h5.2M345.5,268.0h5.2M351.7,268.1h5.2M357.9,268.2h5.2M364.1,268.4h5.2M370.3,268.9h5.2M376.5,268.7h5.2M382.7,268.8h5.2M388.9,268.9h5.2M395.2,269.9h5.2M401.4,269.7h5.2" stroke="#20a486" stroke-width="1.5" fill="none"/>
<path d="M35.1,40.1a1.8,1.8 0 1,0 3.6,0a1.8,1.8 0 1,0 -3.6,0zM41.4,40.3a1.8,1.8 0 1,0 3.6,0a1.8,1.8 0 1,0 -3.6,0zM47.6,39.7a1.8,1.8 0 1,0 3.6,0a1.8,1.8 0 1,0 -3.6,0zM53.9,40.0a1.8,1.8 0 1,0 3.6,0a1.8,1.8 0 1,0 -3.6,0zM60.1,40.0a1.8,1.8 0 1,0 3.6,0a1.8,1.8 0 1,0 -3.6,0zM65.0,40.1a1.8,1.8 0 1,0 3.6,0a1.8,1.8 0 1,0 -3.6,0zM70.0,40.2a1.8,1.8 0 1,0 3.6,0a1.8,1.8 0 1,0 -3.6,0zM74.9,40.7a1.8,1.8 0 1,0 3.6,0a1.8,1.8 0 1,0 -3.6,0zM79.8,40.8a1.8,1.8 0 1,0 3.6,0a1.8,1.8 0 1,0 -3.6,0zM84.7,41.4a1.8,1.8 0 1,0 3.6,0a1.8,1.8 0 1,0 -3.6,0zM89.6,42.3a1.8,1.8 0 1,0 3.6,0a1.8,1.8 0 1,0 -3.6,0zM94.5,45.5a1.8,1.8 0 1,0 3.6,0a1.8,1.8 0 1,0 -3.6,0zM99.4,48.6a1.8,1.8 0 1,0 3.6,0a1.8,1.8 0 1,0 -3.6,0zM104.3,54.3a1.8,1.8 0 1,0 3.6,0a1.8,1.8 0 1,0 -3.6,0zM109.2,63.9a1.8,1.8 0 1,0 3.6,0a1.8,1.8 0 1,0 -3.6,0zM114.1,77.4a1.8,1.8 0 1,0 3.6,0a1.8,1.8 0 1,0 -3.6,0zM119.0,93.0a1.8,1.8 0 1,0 3.6,0a1.8,1.8 0 1,0 -3.6,0zM123.9,105.0a1.8,1.8 0 1,0 3.6,0a1.8,1.8 0 1,0 -3.6,0zM128.8,117.7a1.8,1.8 0 1,0 3.6,0a1.8,1.8 0 1,0 -3.6,0zM133.7,130.6a1.8,1.8 0 1,0 3.6,0a1.8,1.8 0 1,0 -3.6,0zM138.6,143.7a1.8,1.8 0 1,0 3.6,0a1.8,1.8 0 1,0 -3.6,0zM143.5,156.5a1.8,1.8 0 1,0 3.6,0a1.8,1.8 0 1,0 -3.6,0zM148.4,172.6a1.8,1.8 0 1,0 3.6,0a1.8,1.8 0 1,0 -3.6,0zM153.3,189.8a1.8,1.8 0 1,0 3.6,0a1.8,1.8 0 1,0 -3.6,0zM158.2,202.2a1.8,1.8 0 1,0 3.6,0a1.8,1.8 0 1,0 -3.6,0zM163.1,211.0a1.8,1.8 0 1,0 3.6,0a1.8,1.8 0 1,0 -3.6,0zM168.0,218.2a1.8,1.8 0 1,0 3.6,0a1.8,1.8 0 1,0 -3.6,0zM172.9,224.2a1.8,1.8 0 1,0 3.6,0a1.8,1.8 0 1,0 -3.6,0zM177.8,228.9a1.8,1.8 0 1,0 3.6,0a1.8,1.8 0 1,0 -3.6,0zM183.8,234.5a1.8,1.8 0 1,0 3.6,0a1.8,1.8 0 1,0 -3.6,0zM188.0,238.3a1.8,1.8 0 1,0 3.6,0a1.8,1.8 0 1,0 -3.6,0zM192.1,242.0a1.8,1.8 0 1,0 3.6,0a1.8,1.8 0 1,0 -3.6,0zM196.3,245.4a1.8,1.8 0 1,0 3.6,0a1.8,1.8 0 1,0 -3.6,0zM200.5,248.5a1.8,1.8 0 1,0 3.6,0a1.8,1.8 0 1,0 -3.6,0zM204.6,250.8a1.8,1.8 0 1,0 3.6,0a1.8,1.8 0 1,0 -3.6,0zM208.8,252.7a1.8,1.8 0 1,0 3.6,0a1.8,1.8 0 1,0 -3.6,0zM213.0,254.1a1.8,1.8 0 1,0 3.6,0a1.8,1.8 0 1,0 -3.6,0zM217.1,255.1a1.8,1.8 0 1,0 3.6,0a1.8,1.8 0 1,0 -3.6,0zM221.3,256.1a1.8,1.8 0 1,0 3.6,0a1.8,1.8 0 1,0 -3.6,0zM225.5,257.3a1.8,1.8 0 1,0 3.6,0a1.8,1.8 0 1,0 -3.6,0zM229.6,258.0a1.8,1.8 0 1,0 3.6,0a1.8,1.8 0 1,0 -3.6,0zM233.8,258.9a1.8,1.8 0 1,0 3.6,0a1.8,1.8 0 1,0 -3.6,0zM238.0,259.6a1.8,1.8 0 1,0 3.6,0a1.8,1.8 0 1,0 -3.6,0zM242.1,260.6a1.8,1.8 0 1,0 3.6,0a1.8,1.8 0 1,0 -3.6,0zM246.3,261.3a1.8,1.8 0 1,0 3.6,0a1.8,1.8 0 1,0 -3.6,0zM250.5,261.4a1.8,1.8 0 1,0 3.6,0a1.8,1.8 0 1,0 -3.6,0zM254.7,261.8a1.8,1.8 0 1,0 3.6,0a1.8,1.8 0 1,0 -3.6,0zM258.8,262.2a1.8,1.8 0 1,0 3.6,0a1.8,1.8 0 1,0 -3.6,0zM263.0,262.6a1.8,1.8 0 1,0 3.6,0a1.8,1.8 0 1,0 -3.6,0zM267.2,262.9a1.8,1.8 0 1,0 3.6,0a1.8,1.8 0 1,0 -3.6,0zM271.3,263.5a1.8,1.8 0 1,0 3.6,0a1.8,1.8 0 1,0 -3.6,0zM278.0,263.9a1.8,1.8 0 1,0 3.6,0a1.8,1.8 0 1,0 -3.6,0zM284.2,264.6a1.8,1.8 0 1,0 3.6,0a1.8,1.8 0 1,0 -3.6,0zM290.4,265.4a1.8,1.8 0 1,0 3.6,0a1.8,1.8 0 1,0 -3.6,0zM296.6,265.4a1.8,1.8 0 1,0 3.6,0a1.8,1.8 0 1,0 -3.6,0zM302.8,265.4a1.8,1.8 0 1,0 3.6,0a1.8,1.8 0 1,0 -3.6,0zM309.0,266.4a1.8,1.8 0 1,0 3.6,0a1.8,1.8 0 1,0 -3.6,0zM315.2,266.2a1.8,1.8 0 1,0 3.6,0a1.8,1.8 0 1,0 -3.6,0zM321.4,266.8a1.8,1.8 0 1,0 3.6,0a1.8,1.8 0 1,0 -3.6,0zM327.7,267.1a1.8,1.8 0 1,0 3.6,0a1.8,1.8 0 1,0 -3.6,0zM333.9,267.3a1.8,1.8 0 1,0 3.6,0a1.8,1.8 0 1,0 -3.6,0zM340.1,267.5a1.8,1.8 0 1,0 3.6,0a1.8,1.8 0 1,0 -3.6,0zM346.3,268.0a1.8,1.8 0 1,0 3.6,0a1.8,1.8 0 1,0 -3.6,0zM352.5,268.1a1.8,1.8 0 1,0 3.6,0a1.8,1.8 0 1,0 -3.6,0zM358.7,268.2a1.8,1.8 0 1,0 3.6,0a1.8,1.8 0 1,0 -3.6,0zM364.9,268.4a1.8,1.8 0 1,0 3.6,0a1.8,1.8 0 1,0 -3.6,0zM371.1,268.9a1.8,1.8 0 1,0 3.6,0a1.8,1.8 0 1,0 -3.6,0zM377.3,268.7a1.8,1.8 0 1,0 3.6,0a1.8,1.8 0 1,0 -3.6,0zM383.5,268.8a1.8,1.8 0 1,0 3.6,0a1.8,1.8 0 1,0 -3.6,0zM389.7,268.9a1.8,1.8 0 1,0 3.6,0a1.8,1.8 0 1,0 -3.6,0zM396.0,269.9a1.8,1.8 0 1,0 3.6,0a1.8,1.8 0 1,0 -3.6,0zM402.2,269.7a1.8,1.8 0 1,0 3.6,0a1.8,1.8 0 1,0 -3.6,0z" fill="#20a486"/>
<polyline points="36.0,40.3 42.2,39.9 48.5,39.8 54.7,40.2 61.0,40.3 67.2,39.9 72.1,39.9 77.0,40.3 81.9,40.4 86.8,41.1 91.7,41.2 96.6,41.8 101.5,44.0 106.4,47.5 111.3,53.4 116.3,62.7 121.2,75.9 126.1,92.8 131.0,105.5 135.9,118.7 140.8,132.7 145.7,146.0 150.6,160.1 155.5,178.9 160.4,196.5 165.3,207.4 170.2,217.1 175.1,224.1 180.0,230.1 185.6,235.6 189.8,239.2 193.9,243.2 198.1,247.0 202.3,249.9 206.4,253.0 210.6,254.9 214.8,255.9 218.9,257.3 223.1,258.7 227.3,259.4 231.4,260.4 235.6,261.0 239.8,261.7 243.9,262.6 248.1,263.1 252.3,263.5 256.5,263.9 260.6,263.9 264.8,264.3 269.0,264.7 273.1,265.2 279.8,265.8 286.0,266.0 292.2,266.6 298.4,266.8 304.6,267.5 310.8,267.6 317.0,267.5 323.2,268.3 329.5,268.6 335.7,268.6 341.9,268.5 348.1,268.8 354.3,269.4 360.5,269.6 366.7,269.8 372.9,270.1 379.1,270.1 385.3,270.4 391.5,270.8 397.8,270.7 404.0,270.8" fill="none" stroke="#21918c" stroke-width="1.25" stroke-linejoin="round"/>
<path d="M32.3,40.3h7.4M38.5,39.9h7.4M44.8,39.8h7.4M51.0,40.2h7.4M57.3,40.3h7.4M63.5,39.9h7.4M68.4,39.9h7.4M73.3,40.3h7.4M78.2,40.4h7.4M83.1,41.1h7.4M88.0,41.2h7.4M92.9,41.8h7.4M97.8,44.0h7.4M102.7,47.5h7.4M107.6,53.4h7.4M112.6,62.7h7.4M117.5,75.9h7.4M122.4,92.8h7.4M127.3,105.5h7.4M132.2,118.7h7.4M137.1,132.7h7.4M142.0,146.0h7.4M146.9,160.1h7.4M151.8,178.9h7.4M156.7,196.5h7.4M161.6,207.4h7.4M166.5,217.1h7.4M171.4,224.1h7.4M176.3,230.1h7.4M181.9,235.6h7.4M186.1,239.2h7.4M190.2,243.2h7.4M194.4,247.0h7.4M198.6,249.9h7.4M202.7,253.0h7.4M206.9,254.9h7.4" stroke="#21918c" stroke-width="1.9" fill="none"/>
<path d="M212.2,255.9h5.2M216.3,257.3h5.2M220.5,258.7h5.2M224.7,259.4h5.2M228.8,260.4h5.2M233.0,261.0h5.2M237.2,261.7h5.2M241.3,262.6h5.2M245.5,263.1h5.2M249.7,263.5h5.2M253.9,263.9h5.2M258.0,263.9h5.2M262.2,264.3h5.2M266.4,264.7h5.2M270.5,265.2h5.2M277.2,265.8h5.2M283.4,266.0h5.2M289.6,266.6h5.2M295.8,266.8h5.2M302.0,267.5h5.2M308.2,267.6h5.2M314.4,267.5h5.2M320.6,268.3h5.2M326.9,268.6h5.2M333.1,268.6h5.2M339.3,268.5h5.2M345.5,268.8h5.2M351.7,269.4h5.2M357.9,269.6h5.2M364.1,269.8h5.2M370.3,270.1h5.2M376.5,270.1h5.2M382.7,270.4h5.2M388.9,270.8h5.2M395.2,270.7h5.2M401.4,270.8h5.2" stroke="#21918c" stroke-width="1.5" fill="none"/>
<path d="M34.2,40.3a1.8,1.8 0 1,0 3.6,0a1.8,1.8 0 1,0 -3.6,0zM40.4,39.9a1.8,1.8 0 1,0 3.6,0a1.8,1.8 0 1,0 -3.6,0zM46.7,39.8a1.8,1.8 0 1,0 3.6,0a1.8,1.8 0 1,0 -3.6,0zM52.9,40.2a1.8,1.8 0 1,0 3.6,0a1.8,1.8 0 1,0 -3.6,0zM59.2,40.3a1.8,1.8 0 1,0 3.6,0a1.8,1.8 0 1,0 -3.6,0zM65.4,39.9a1.8,1.8 0 1,0 3.6,0a1.8,1.8 0 1,0 -3.6,0zM70.3,39.9a1.8,1.8 0 1,0 3.6,0a1.8,1.8 0 1,0 -3.6,0zM75.2,40.3a1.8,1.8 0 1,0 3.6,0a1.8,1.8 0 1,0 -3.6,0zM80.1,40.4a1.8,1.8 0 1,0 3.6,0a1.8,1.8 0 1,0 -3.6,0zM85.0,41.1a1.8,1.8 0 1,0 3.6,0a1.8,1.8 0 1,0 -3.6,0zM89.9,41.2a1.8,1.8 0 1,0 3.6,0a1.8,1.8 0 1,0 -3.6,0zM94.8,41.8a1.8,1.8 0 1,0 3.6,0a1.8,1.8 0 1,0 -3.6,0zM99.7,44.0a1.8,1.8 0 1,0 3.6,0a1.8,1.8 0 1,0 -3.6,0zM104.6,47.5a1.8,1.8 0 1,0 3.6,0a1.8,1.8 0 1,0 -3.6,0zM109.5,53.4a1.8,1.8 0 1,0 3.6,0a1.8,1.8 0 1,0 -3.6,0zM114.5,62.7a1.8,1.8 0 1,0 3.6,0a1.8,1.8 0 1,0 -3.6,0zM119.4,75.9a1.8,1.8 0 1,0 3.6,0a1.8,1.8 0 1,0 -3.6,0zM124.3,92.8a1.8,1.8 0 1,0 3.6,0a1.8,1.8 0 1,0 -3.6,0zM129.2,105.5a1.8,1.8 0 1,0 3.6,0a1.8,1.8 0 1,0 -3.6,0zM134.1,118.7a1.8,1.8 0 1,0 3.6,0a1.8,1.8 0 1,0 -3.6,0zM139.0,132.7a1.8,1.8 0 1,0 3.6,0a1.8,1.8 0 1,0 -3.6,0zM143.9,146.0a1.8,1.8 0 1,0 3.6,0a1.8,1.8 0 1,0 -3.6,0zM148.8,160.1a1.8,1.8 0 1,0 3.6,0a1.8,1.8 0 1,0 -3.6,0zM153.7,178.9a1.8,1.8 0 1,0 3.6,0a1.8,1.8 0 1,0 -3.6,0zM158.6,196.5a1.8,1.8 0 1,0 3.6,0a1.8,1.8 0 1,0 -3.6,0zM163.5,207.4a1.8,1.8 0 1,0 3.6,0a1.8,1.8 0 1,0 -3.6,0zM168.4,217.1a1.8,1.8 0 1,0 3.6,0a1.8,1.8 0 1,0 -3.6,0zM173.3,224.1a1.8,1.8 0 1,0 3.6,0a1.8,1.8 0 1,0 -3.6,0zM178.2,230.1a1.8,1.8 0 1,0 3.6,0a1.8,1.8 0 1,0 -3.6,0zM183.8,235.6a1.8,1.8 0 1,0 3.6,0a1.8,1.8 0 1,0 -3.6,0zM188.0,239.2a1.8,1.8 0 1,0 3.6,0a1.8,1.8 0 1,0 -3.6,0zM192.1,243.2a1.8,1.8 0 1,0 3.6,0a1.8,1.8 0 1,0 -3.6,0zM196.3,247.0a1.8,1.8 0 1,0 3.6,0a1.8,1.8 0 1,0 -3.6,0zM200.5,249.9a1.8,1.8 0 1,0 3.6,0a1.8,1.8 0 1,0 -3.6,0zM204.6,253.0a1.8,1.8 0 1,0 3.6,0a1.8,1.8 0 1,0 -3.6,0zM208.8,254.9a1.8,1.8 0 1,0 3.6,0a1.8,1.8 0 1,0 -3.6,0zM213.0,255.9a1.8,1.8 0 1,0 3.6,0a1.8,1.8 0 1,0 -3.6,0zM217.1,257.3a1.8,1.8 0 1,0 3.6,0a1.8,1.8 0 1,0 -3.6,0zM221.3,258.7a1.8,1.8 0 1,0 3.6,0a1.8,1.8 0 1,0 -3.6,0zM225.5,259.4a1.8,1.8 0 1,0 3.6,0a1.8,1.8 0 1,0 -3.6,0zM229.6,260.4a1.8,1.8 0 1,0 3.6,0a1.8,1.8 0 1,0 -3.6,0zM233.8,261.0a1.8,1.8 0 1,0 3.6,0a1.8,1.8 0 1,0 -3.6,0zM238.0,261.7a1.8,1.8 0 1,0 3.6,0a1.8,1.8 0 1,0 -3.6,0zM242.1,262.6a1.8,1.8 0 1,0 3.6,0a1.8,1.8 0 1,0 -3.6,0zM246.3,263.1a1.8,1.8 0 1,0 3.6,0a1.8,1.8 0 1,0 -3.6,0zM250.5,263.5a1.8,1.8 0 1,0 3.6,0a1.8,1.8 0 1,0 -3.6,0zM254.7,263.9a1.8,1.8 0 1,0 3.6,0a1.8,1.8 0 1,0 -3.6,0zM258.8,263.9a1.8,1.8 0 1,0 3.6,0a1.8,1.8 0 1,0 -3.6,0zM263.0,264.3a1.8,1.8 0 1,0 3.6,0a1.8,1.8 0 1,0 -3.6,0zM267.2,264.7a1.8,1.8 0 1,0 3.6,0a1.8,1.8 0 1,0 -3.6,0zM271.3,265.2a1.8,1.8 0 1,0 3.6,0a1.8,1.8 0 1,0 -3.6,0zM278.0,265.8a1.8,1.8 0 1,0 3.6,0a1.8,1.8 0 1,0 -3.6,0zM284.2,266.0a1.8,1.8 0 1,0 3.6,0a1.8,1.8 0 1,0 -3.6,0zM290.4,266.6a1.8,1.8 0 1,0 3.6,0a1.8,1.8 0 1,0 -3.6,0zM296.6,266.8a1.8,1.8 0 1,0 3.6,0a1.8,1.8 0 1,0 -3.6,0zM302.8,267.5a1.8,1.8 0 1,0 3.6,0a1.8,1.8 0 1,0 -3.6,0zM309.0,267.6a1.8,1.8 0 1,0 3.6,0a1.8,1.8 0 1,0 -3.6,0zM315.2,267.5a1.8,1.8 0 1,0 3.6,0a1.8,1.8 0 1,0 -3.6,0zM321.4,268.3a1.8,1.8 0 1,0 3.6,0a1.8,1.8 0 1,0 -3.6,0zM327.7,268.6a1.8,1.8 0 1,0 3.6,0a1.8,1.8 0 1,0 -3.6,0zM333.9,268.6a1.8,1.8 0 1,0 3.6,0a1.8,1.8 0 1,0 -3.6,0zM340.1,268.5a1.8,1.8 0 1,0 3.6,0a1.8,1.8 0 1,0 -3.6,0zM346.3,268.8a1.8,1.8 0 1,0 3.6,0a1.8,1.8 0 1,0 -3.6,0zM352.5,269.4a1.8,1.8 0 1,0 3.6,0a1.8,1.8 0 1,0 -3.6,0zM358.7,269.6a1.8,1.8 0 1,0 3.6,0a1.8,1.8 0 1,0 -3.6,0zM364.9,269.8a1.8,1.8 0 1,0 3.6,0a1.8,1.8 0 1,0 -3.6,0zM371.1,270.1a1.8,1.8 0 1,0 3.6,0a1.8,1.8 0 1,0 -3.6,0zM377.3,270.1a1.8,1.8 0 1,0 3.6,0a1.8,1.8 0 1,0 -3.6,0zM383.5,270.4a1.8,1.8 0 1,0 3.6,0a1.8,1.8 0 1,0 -3.6,0zM389.7,270.8a1.8,1.8 0 1,0 3.6,0a1.8,1.8 0 1,0 -3.6,0zM396.0,270.7a1.8,1.8 0 1,0 3.6,0a1.8,1.8 0 1,0 -3.6,0zM402.2,270.8a1.8,1.8 0 1,0 3.6,0a1.8,1.8 0 1,0 -3.6,0z" fill="#21918c"/>
<polyline points="35.0,40.1 41.2,40.2 47.5,39.8 53.7,39.6 60.0,40.0 66.2,40.0 72.5,39.9 77.4,40.0 82.3,40.2 87.2,39.9 92.1,40.7 97.0,41.0 101.9,41.6 106.8,43.3 111.7,46.8 116.6,51.9 121.5,60.4 126.4,74.5 131.3,92.4 136.2,106.2 141.1,120.2 146.0,135.2 150.9,149.2 155.9,164.9 160.8,185.1 165.7,202.1 170.6,213.7 175.5,222.8 180.4,230.0 185.6,236.1 189.8,240.3 193.9,244.1 198.1,248.5 202.3,251.7 206.4,254.7 210.6,256.3 214.8,258.0 218.9,259.2 223.1,260.4 227.3,261.4 231.4,262.3 235.6,263.5 239.8,263.8 243.9,264.3 248.1,265.1 252.3,265.0 256.5,265.4 260.6,266.2 264.8,266.3 269.0,266.6 273.1,267.0 279.8,267.2 286.0,267.9 292.2,268.0 298.4,268.2 304.6,268.4 310.8,268.8 317.0,269.1 323.2,269.2 329.5,270.0 335.7,269.6 341.9,270.1 348.1,270.5 354.3,270.5 360.5,271.0 366.7,271.2 372.9,271.0 379.1,271.3 385.3,271.1 391.5,271.6 397.8,271.8 404.0,271.8" fill="none" stroke="#287c8e" stroke-width="1.25" stroke-linejoin="round"/>
<path d="M31.3,40.1h7.4M37.5,40.2h7.4M43.8,39.8h7.4M50.0,39.6h7.4M56.3,40.0h7.4M62.5,40.0h7.4M68.8,39.9h7.4M73.7,40.0h7.4M78.6,40.2h7.4M83.5,39.9h7.4M88.4,40.7h7.4M93.3,41.0h7.4M98.2,41.6h7.4M103.1,43.3h7.4M108.0,46.8h7.4M112.9,51.9h7.4M117.8,60.4h7.4M122.7,74.5h7.4M127.6,92.4h7.4M132.5,106.2h7.4M137.4,120.2h7.4M142.3,135.2h7.4M147.2,149.2h7.4M152.2,164.9h7.4M157.1,185.1h7.4M162.0,202.1h7.4M166.9,213.7h7.4M171.8,222.8h7.4M176.7,230.0h7.4M181.9,236.1h7.4M186.1,240.3h7.4M190.2,244.1h7.4M194.4,248.5h7.4M198.6,251.7h7.4M202.7,254.7h7.4M206.9,256.3h7.4" stroke="#287c8e" stroke-width="1.9" fill="none"/>
<path d="M212.2,258.0h5.2M216.3,259.2h5.2M220.5,260.4h5.2M224.7,261.4h5.2M228.8,262.3h5.2M233.0,263.5h5.2M237.2,263.8h5.2M241.3,264.3h5.2M245.5,265.1h5.2M249.7,265.0h5.2M253.9,265.4h5.2M258.0,266.2h5.2M262.2,266.3h5.2M266.4,266.6h5.2M270.5,267.0h5.2M277.2,267.2h5.2M283.4,267.9h5.2M289.6,268.0h5.2M295.8,268.2h5.2M302.0,268.4h5.2M308.2,268.8h5.2M314.4,269.1h5.2M320.6,269.2h5.2M326.9,270.0h5.2M333.1,269.6h5.2M339.3,270.1h5.2M345.5,270.5h5.2M351.7,270.5h5.2M357.9,271.0h5.2M364.1,271.2h5.2M370.3,271.0h5.2M376.5,271.3h5.2M382.7,271.1h5.2M388.9,271.6h5.2M395.2,271.8h5.2M401.4,271.8h5.2" stroke="#287c8e" stroke-width="1.5" fill="none"/>
<path d="M33.2,40.1a1.8,1.8 0 1,0 3.6,0a1.8,1.8 0 1,0 -3.6,0zM39.4,40.2a1.8,1.8 0 1,0 3.6,0a1.8,1.8 0 1,0 -3.6,0zM45.7,39.8a1.8,1.8 0 1,0 3.6,0a1.8,1.8 0 1,0 -3.6,0zM51.9,39.6a1.8,1.8 0 1,0 3.6,0a1.8,1.8 0 1,0 -3.6,0zM58.2,40.0a1.8,1.8 0 1,0 3.6,0a1.8,1.8 0 1,0 -3.6,0zM64.4,40.0a1.8,1.8 0 1,0 3.6,0a1.8,1.8 0 1,0 -3.6,0zM70.7,39.9a1.8,1.8 0 1,0 3.6,0a1.8,1.8 0 1,0 -3.6,0zM75.6,40.0a1.8,1.8 0 1,0 3.6,0a1.8,1.8 0 1,0 -3.6,0zM80.5,40.2a1.8,1.8 0 1,0 3.6,0a1.8,1.8 0 1,0 -3.6,0zM85.4,39.9a1.8,1.8 0 1,0 3.6,0a1.8,1.8 0 1,0 -3.6,0zM90.3,40.7a1.8,1.8 0 1,0 3.6,0a1.8,1.8 0 1,0 -3.6,0zM95.2,41.0a1.8,1.8 0 1,0 3.6,0a1.8,1.8 0 1,0 -3.6,0zM100.1,41.6a1.8,1.8 0 1,0 3.6,0a1.8,1.8 0 1,0 -3.6,0zM105.0,43.3a1.8,1.8 0 1,0 3.6,0a1.8,1.8 0 1,0 -3.6,0zM109.9,46.8a1.8,1.8 0 1,0 3.6,0a1.8,1.8 0 1,0 -3.6,0zM114.8,51.9a1.8,1.8 0 1,0 3.6,0a1.8,1.8 0 1,0 -3.6,0zM119.7,60.4a1.8,1.8 0 1,0 3.6,0a1.8,1.8 0 1,0 -3.6,0zM124.6,74.5a1.8,1.8 0 1,0 3.6,0a1.8,1.8 0 1,0 -3.6,0zM129.5,92.4a1.8,1.8 0 1,0 3.6,0a1.8,1.8 0 1,0 -3.6,0zM134.4,106.2a1.8,1.8 0 1,0 3.6,0a1.8,1.8 0 1,0 -3.6,0zM139.3,120.2a1.8,1.8 0 1,0 3.6,0a1.8,1.8 0 1,0 -3.6,0zM144.2,135.2a1.8,1.8 0 1,0 3.6,0a1.8,1.8 0 1,0 -3.6,0zM149.1,149.2a1.8,1.8 0 1,0 3.6,0a1.8,1.8 0 1,0 -3.6,0zM154.1,164.9a1.8,1.8 0 1,0 3.6,0a1.8,1.8 0 1,0 -3.6,0zM159.0,185.1a1.8,1.8 0 1,0 3.6,0a1.8,1.8 0 1,0 -3.6,0zM163.9,202.1a1.8,1.8 0 1,0 3.6,0a1.8,1.8 0 1,0 -3.6,0zM168.8,213.7a1.8,1.8 0 1,0 3.6,0a1.8,1.8 0 1,0 -3.6,0zM173.7,222.8a1.8,1.8 0 1,0 3.6,0a1.8,1.8 0 1,0 -3.6,0zM178.6,230.0a1.8,1.8 0 1,0 3.6,0a1.8,1.8 0 1,0 -3.6,0zM183.8,236.1a1.8,1.8 0 1,0 3.6,0a1.8,1.8 0 1,0 -3.6,0zM188.0,240.3a1.8,1.8 0 1,0 3.6,0a1.8,1.8 0 1,0 -3.6,0zM192.1,244.1a1.8,1.8 0 1,0 3.6,0a1.8,1.8 0 1,0 -3.6,0zM196.3,248.5a1.8,1.8 0 1,0 3.6,0a1.8,1.8 0 1,0 -3.6,0zM200.5,251.7a1.8,1.8 0 1,0 3.6,0a1.8,1.8 0 1,0 -3.6,0zM204.6,254.7a1.8,1.8 0 1,0 3.6,0a1.8,1.8 0 1,0 -3.6,0zM208.8,256.3a1.8,1.8 0 1,0 3.6,0a1.8,1.8 0 1,0 -3.6,0zM213.0,258.0a1.8,1.8 0 1,0 3.6,0a1.8,1.8 0 1,0 -3.6,0zM217.1,259.2a1.8,1.8 0 1,0 3.6,0a1.8,1.8 0 1,0 -3.6,0zM221.3,260.4a1.8,1.8 0 1,0 3.6,0a1.8,1.8 0 1,0 -3.6,0zM225.5,261.4a1.8,1.8 0 1,0 3.6,0a1.8,1.8 0 1,0 -3.6,0zM229.6,262.3a1.8,1.8 0 1,0 3.6,0a1.8,1.8 0 1,0 -3.6,0zM233.8,263.5a1.8,1.8 0 1,0 3.6,0a1.8,1.8 0 1,0 -3.6,0zM238.0,263.8a1.8,1.8 0 1,0 3.6,0a1.8,1.8 0 1,0 -3.6,0zM242.1,264.3a1.8,1.8 0 1,0 3.6,0a1.8,1.8 0 1,0 -3.6,0zM246.3,265.1a1.8,1.8 0 1,0 3.6,0a1.8,1.8 0 1,0 -3.6,0zM250.5,265.0a1.8,1.8 0 1,0 3.6,0a1.8,1.8 0 1,0 -3.6,0zM254.7,265.4a1.8,1.8 0 1,0 3.6,0a1.8,1.8 0 1,0 -3.6,0zM258.8,266.2a1.8,1.8 0 1,0 3.6,0a1.8,1.8 0 1,0 -3.6,0zM263.0,266.3a1.8,1.8 0 1,0 3.6,0a1.8,1.8 0 1,0 -3.6,0zM267.2,266.6a1.8,1.8 0 1,0 3.6,0a1.8,1.8 0 1,0 -3.6,0zM271.3,267.0a1.8,1.8 0 1,0 3.6,0a1.8,1.8 0 1,0 -3.6,0zM278.0,267.2a1.8,1.8 0 1,0 3.6,0a1.8,1.8 0 1,0 -3.6,0zM284.2,267.9a1.8,1.8 0 1,0 3.6,0a1.8,1.8 0 1,0 -3.6,0zM290.4,268.0a1.8,1.8 0 1,0 3.6,0a1.8,1.8 0 1,0 -3.6,0zM296.6,268.2a1.8,1.8 0 1,0 3.6,0a1.8,1.8 0 1,0 -3.6,0zM302.8,268.4a1.8,1.8 0 1,0 3.6,0a1.8,1.8 0 1,0 -3.6,0zM309.0,268.8a1.8,1.8 0 1,0 3.6,0a1.8,1.8 0 1,0 -3.6,0zM315.2,269.1a1.8,1.8 0 1,0 3.6,0a1.8,1.8 0 1,0 -3.6,0zM321.4,269.2a1.8,1.8 0 1,0 3.6,0a1.8,1.8 0 1,0 -3.6,0zM327.7,270.0a1.8,1.8 0 1,0 3.6,0a1.8,1.8 0 1,0 -3.6,0zM333.9,269.6a1.8,1.8 0 1,0 3.6,0a1.8,1.8 0 1,0 -3.6,0zM340.1,270.1a1.8,1.8 0 1,0 3.6,0a1.8,1.8 0 1,0 -3.6,0zM346.3,270.5a1.8,1.8 0 1,0 3.6,0a1.8,1.8 0 1,0 -3.6,0zM352.5,270.5a1.8,1.8 0 1,0 3.6,0a1.8,1.8 0 1,0 -3.6,0zM358.7,271.0a1.8,1.8 0 1,0 3.6,0a1.8,1.8 0 1,0 -3.6,0zM364.9,271.2a1.8,1.8 0 1,0 3.6,0a1.8,1.8 0 1,0 -3.6,0zM371.1,271.0a1.8,1.8 0 1,0 3.6,0a1.8,1.8 0 1,0 -3.6,0zM377.3,271.3a1.8,1.8 0 1,0 3.6,0a1.8,1.8 0 1,0 -3.6,0zM383.5,271.1a1.8,1.8 0 1,0 3.6,0a1.8,1.8 0 1,0 -3.6,0zM389.7,271.6a1.8,1.8 0 1,0 3.6,0a1.8,1.8 0 1,0 -3.6,0zM396.0,271.8a1.8,1.8 0 1,0 3.6,0a1.8,1.8 0 1,0 -3.6,0zM402.2,271.8a1.8,1.8 0 1,0 3.6,0a1.8,1.8 0 1,0 -3.6,0z" fill="#287c8e"/>
<polyline points="40.3,39.6 46.6,40.0 52.8,40.1 59.1,40.2 65.3,40.2 71.6,40.0 77.8,39.9 82.7,39.7 87.6,39.8 92.5,40.1 97.4,40.5 102.4,40.8 107.3,41.6 112.2,42.6 117.1,45.7 122.0,50.9 126.9,59.3 131.8,73.7 136.7,92.1 141.6,106.6 146.5,121.9 151.4,137.6 156.3,153.2 161.2,171.4 166.1,193.1 171.0,207.7 175.9,219.6 180.8,228.7 185.6,235.1 189.8,240.2 193.9,244.3 198.1,248.9 202.3,252.5 206.4,255.9 210.6,258.0 214.8,260.2 218.9,260.9 223.1,262.3 227.3,263.2 231.4,264.3 235.6,264.8 239.8,265.4 243.9,265.9 248.1,266.3 252.3,266.6 256.5,266.9 260.6,267.5 264.8,267.9 269.0,268.2 273.1,268.1 279.8,268.7 286.0,268.7 292.2,269.2 298.4,269.7 304.6,269.6 310.8,269.6 317.0,270.3 323.2,270.6 329.5,270.8 335.7,270.7 341.9,271.2 348.1,271.3 354.3,271.3 360.5,271.6 366.7,271.7 372.9,272.0 379.1,272.1 385.3,272.1 391.5,272.2 397.8,272.2 404.0,272.5" fill="none" stroke="#31688e" stroke-width="1.25" stroke-linejoin="round"/>
<path d="M36.6,39.6h7.4M42.9,40.0h7.4M49.1,40.1h7.4M55.4,40.2h7.4M61.6,40.2h7.4M67.9,40.0h7.4M74.1,39.9h7.4M79.0,39.7h7.4M83.9,39.8h7.4M88.8,40.1h7.4M93.7,40.5h7.4M98.7,40.8h7.4M103.6,41.6h7.4M108.5,42.6h7.4M113.4,45.7h7.4M118.3,50.9h7.4M123.2,59.3h7.4M128.1,73.7h7.4M133.0,92.1h7.4M137.9,106.6h7.4M142.8,121.9h7.4M147.7,137.6h7.4M152.6,153.2h7.4M157.5,171.4h7.4M162.4,193.1h7.4M167.3,207.7h7.4M172.2,219.6h7.4M177.1,228.7h7.4M181.9,235.1h7.4M186.1,240.2h7.4M190.2,244.3h7.4M194.4,248.9h7.4M198.6,252.5h7.4M202.7,255.9h7.4M206.9,258.0h7.4" stroke="#31688e" stroke-width="1.9" fill="none"/>
<path d="M212.2,260.2h5.2M216.3,260.9h5.2M220.5,262.3h5.2M224.7,263.2h5.2M228.8,264.3h5.2M233.0,264.8h5.2M237.2,265.4h5.2M241.3,265.9h5.2M245.5,266.3h5.2M249.7,266.6h5.2M253.9,266.9h5.2M258.0,267.5h5.2M262.2,267.9h5.2M266.4,268.2h5.2M270.5,268.1h5.2M277.2,268.7h5.2M283.4,268.7h5.2M289.6,269.2h5.2M295.8,269.7h5.2M302.0,269.6h5.2M308.2,269.6h5.2M314.4,270.3h5.2M320.6,270.6h5.2M326.9,270.8h5.2M333.1,270.7h5.2M339.3,271.2h5.2M345.5,271.3h5.2M351.7,271.3h5.2M357.9,271.6h5.2M364.1,271.7h5.2M370.3,272.0h5.2M376.5,272.1h5.2M382.7,272.1h5.2M388.9,272.2h5.2M395.2,272.2h5.2M401.4,272.5h5.2" stroke="#31688e" stroke-width="1.5" fill="none"/>
<path d="M38.5,39.6a1.8,1.8 0 1,0 3.6,0a1.8,1.8 0 1,0 -3.6,0zM44.8,40.0a1.8,1.8 0 1,0 3.6,0a1.8,1.8 0 1,0 -3.6,0zM51.0,40.1a1.8,1.8 0 1,0 3.6,0a1.8,1.8 0 1,0 -3.6,0zM57.3,40.2a1.8,1.8 0 1,0 3.6,0a1.8,1.8 0 1,0 -3.6,0zM63.5,40.2a1.8,1.8 0 1,0 3.6,0a1.8,1.8 0 1,0 -3.6,0zM69.8,40.0a1.8,1.8 0 1,0 3.6,0a1.8,1.8 0 1,0 -3.6,0zM76.0,39.9a1.8,1.8 0 1,0 3.6,0a1.8,1.8 0 1,0 -3.6,0zM80.9,39.7a1.8,1.8 0 1,0 3.6,0a1.8,1.8 0 1,0 -3.6,0zM85.8,39.8a1.8,1.8 0 1,0 3.6,0a1.8,1.8 0 1,0 -3.6,0zM90.7,40.1a1.8,1.8 0 1,0 3.6,0a1.8,1.8 0 1,0 -3.6,0zM95.6,40.5a1.8,1.8 0 1,0 3.6,0a1.8,1.8 0 1,0 -3.6,0zM100.6,40.8a1.8,1.8 0 1,0 3.6,0a1.8,1.8 0 1,0 -3.6,0zM105.5,41.6a1.8,1.8 0 1,0 3.6,0a1.8,1.8 0 1,0 -3.6,0zM110.4,42.6a1.8,1.8 0 1,0 3.6,0a1.8,1.8 0 1,0 -3.6,0zM115.3,45.7a1.8,1.8 0 1,0 3.6,0a1.8,1.8 0 1,0 -3.6,0zM120.2,50.9a1.8,1.8 0 1,0 3.6,0a1.8,1.8 0 1,0 -3.6,0zM125.1,59.3a1.8,1.8 0 1,0 3.6,0a1.8,1.8 0 1,0 -3.6,0zM130.0,73.7a1.8,1.8 0 1,0 3.6,0a1.8,1.8 0 1,0 -3.6,0zM134.9,92.1a1.8,1.8 0 1,0 3.6,0a1.8,1.8 0 1,0 -3.6,0zM139.8,106.6a1.8,1.8 0 1,0 3.6,0a1.8,1.8 0 1,0 -3.6,0zM144.7,121.9a1.8,1.8 0 1,0 3.6,0a1.8,1.8 0 1,0 -3.6,0zM149.6,137.6a1.8,1.8 0 1,0 3.6,0a1.8,1.8 0 1,0 -3.6,0zM154.5,153.2a1.8,1.8 0 1,0 3.6,0a1.8,1.8 0 1,0 -3.6,0zM159.4,171.4a1.8,1.8 0 1,0 3.6,0a1.8,1.8 0 1,0 -3.6,0zM164.3,193.1a1.8,1.8 0 1,0 3.6,0a1.8,1.8 0 1,0 -3.6,0zM169.2,207.7a1.8,1.8 0 1,0 3.6,0a1.8,1.8 0 1,0 -3.6,0zM174.1,219.6a1.8,1.8 0 1,0 3.6,0a1.8,1.8 0 1,0 -3.6,0zM179.0,228.7a1.8,1.8 0 1,0 3.6,0a1.8,1.8 0 1,0 -3.6,0zM183.8,235.1a1.8,1.8 0 1,0 3.6,0a1.8,1.8 0 1,0 -3.6,0zM188.0,240.2a1.8,1.8 0 1,0 3.6,0a1.8,1.8 0 1,0 -3.6,0zM192.1,244.3a1.8,1.8 0 1,0 3.6,0a1.8,1.8 0 1,0 -3.6,0zM196.3,248.9a1.8,1.8 0 1,0 3.6,0a1.8,1.8 0 1,0 -3.6,0zM200.5,252.5a1.8,1.8 0 1,0 3.6,0a1.8,1.8 0 1,0 -3.6,0zM204.6,255.9a1.8,1.8 0 1,0 3.6,0a1.8,1.8 0 1,0 -3.6,0zM208.8,258.0a1.8,1.8 0 1,0 3.6,0a1.8,1.8 0 1,0 -3.6,0zM213.0,260.2a1.8,1.8 0 1,0 3.6,0a1.8,1.8 0 1,0 -3.6,0zM217.1,260.9a1.8,1.8 0 1,0 3.6,0a1.8,1.8 0 1,0 -3.6,0zM221.3,262.3a1.8,1.8 0 1,0 3.6,0a1.8,1.8 0 1,0 -3.6,0zM225.5,263.2a1.8,1.8 0 1,0 3.6,0a1.8,1.8 0 1,0 -3.6,0zM229.6,264.3a1.8,1.8 0 1,0 3.6,0a1.8,1.8 0 1,0 -3.6,0zM233.8,264.8a1.8,1.8 0 1,0 3.6,0a1.8,1.8 0 1,0 -3.6,0zM238.0,265.4a1.8,1.8 0 1,0 3.6,0a1.8,1.8 0 1,0 -3.6,0zM242.1,265.9a1.8,1.8 0 1,0 3.6,0a1.8,1.8 0 1,0 -3.6,0zM246.3,266.3a1.8,1.8 0 1,0 3.6,0a1.8,1.8 0 1,0 -3.6,0zM250.5,266.6a1.8,1.8 0 1,0 3.6,0a1.8,1.8 0 1,0 -3.6,0zM254.7,266.9a1.8,1.8 0 1,0 3.6,0a1.8,1.8 0 1,0 -3.6,0zM258.8,267.5a1.8,1.8 0 1,0 3.6,0a1.8,1.8 0 1,0 -3.6,0zM263.0,267.9a1.8,1.8 0 1,0 3.6,0a1.8,1.8 0 1,0 -3.6,0zM267.2,268.2a1.8,1.8 0 1,0 3.6,0a1.8,1.8 0 1,0 -3.6,0zM271.3,268.1a1.8,1.8 0 1,0 3.6,0a1.8,1.8 0 1,0 -3.6,0zM278.0,268.7a1.8,1.8 0 1,0 3.6,0a1.8,1.8 0 1,0 -3.6,0zM284.2,268.7a1.8,1.8 0 1,0 3.6,0a1.8,1.8 0 1,0 -3.6,0zM290.4,269.2a1.8,1.8 0 1,0 3.6,0a1.8,1.8 0 1,0 -3.6,0zM296.6,269.7a1.8,1.8 0 1,0 3.6,0a1.8,1.8 0 1,0 -3.6,0zM302.8,269.6a1.8,1.8 0 1,0 3.6,0a1.8,1.8 0 1,0 -3.6,0zM309.0,269.6a1.8,1.8 0 1,0 3.6,0a1.8,1.8 0 1,0 -3.6,0zM315.2,270.3a1.8,1.8 0 1,0 3.6,0a1.8,1.8 0 1,0 -3.6,0zM321.4,270.6a1.8,1.8 0 1,0 3.6,0a1.8,1.8 0 1,0 -3.6,0zM327.7,270.8a1.8,1.8 0 1,0 3.6,0a1.8,1.8 0 1,0 -3.6,0zM333.9,270.7a1.8,1.8 0 1,0 3.6,0a1.8,1.8 0 1,0 -3.6,0zM340.1,271.2a1.8,1.8 0 1,0 3.6,0a1.8,1.8 0 1,0 -3.6,0zM346.3,271.3a1.8,1.8 0 1,0 3.6,0a1.8,1.8 0 1,0 -3.6,0zM352.5,271.3a1.8,1.8 0 1,0 3.6,0a1.8,1.8 0 1,0 -3.6,0zM358.7,271.6a1.8,1.8 0 1,0 3.6,0a1.8,1.8 0 1,0 -3.6,0zM364.9,271.7a1.8,1.8 0 1,0 3.6,0a1.8,1.8 0 1,0 -3.6,0zM371.1,272.0a1.8,1.8 0 1,0 3.6,0a1.8,1.8 0 1,0 -3.6,0zM377.3,272.1a1.8,1.8 0 1,0 3.6,0a1.8,1.8 0 1,0 -3.6,0zM383.5,272.1a1.8,1.8 0 1,0 3.6,0a1.8,1.8 0 1,0 -3.6,0zM389.7,272.2a1.8,1.8 0 1,0 3.6,0a1.8,1.8 0 1,0 -3.6,0zM396.0,272.2a1.8,1.8 0 1,0 3.6,0a1.8,1.8 0 1,0 -3.6,0zM402.2,272.5a1.8,1.8 0 1,0 3.6,0a1.8,1.8 0 1,0 -3.6,0z" fill="#31688e"/>
<polyline points="39.7,39.9 46.0,39.9 52.2,39.9 58.5,39.8 64.7,39.8 70.9,39.9 77.2,39.9 83.4,40.1 88.4,39.9 93.3,40.0 98.2,40.1 103.1,40.4 108.0,40.4 112.9,40.5 117.8,41.8 122.7,45.0 127.6,49.9 132.5,58.6 137.4,73.1 142.3,93.2 147.2,108.5 152.1,124.7 157.0,141.4 161.9,157.9 166.8,179.8 171.7,200.9 176.6,215.1 181.5,225.9 185.6,233.3 189.8,239.0 193.9,244.0 198.1,248.7 202.3,253.3 206.4,256.7 210.6,259.4 214.8,261.5 218.9,263.0 223.1,263.8 227.3,264.8 231.4,265.6 235.6,266.4 239.8,267.0 243.9,267.4 248.1,267.6 252.3,268.1 256.5,268.4 260.6,268.9 264.8,268.8 269.0,269.4 273.1,269.4 279.8,270.3 286.0,270.1 292.2,270.4 298.4,270.8 304.6,270.6 310.8,271.0 317.0,271.3 323.2,271.6 329.5,271.3 335.7,271.7 341.9,271.9 348.1,272.3 354.3,272.1 360.5,272.3 366.7,272.6 372.9,272.7 379.1,273.1 385.3,272.7 391.5,273.1 397.8,272.8 404.0,273.1" fill="none" stroke="#3b528b" stroke-width="1.25" stroke-linejoin="round"/>
<path d="M36.0,39.9h7.4M42.3,39.9h7.4M48.5,39.9h7.4M54.8,39.8h7.4M61.0,39.8h7.4M67.2,39.9h7.4M73.5,39.9h7.4M79.7,40.1h7.4M84.7,39.9h7.4M89.6,40.0h7.4M94.5,40.1h7.4M99.4,40.4h7.4M104.3,40.4h7.4M109.2,40.5h7.4M114.1,41.8h7.4M119.0,45.0h7.4M123.9,49.9h7.4M128.8,58.6h7.4M133.7,73.1h7.4M138.6,93.2h7.4M143.5,108.5h7.4M148.4,124.7h7.4M153.3,141.4h7.4M158.2,157.9h7.4M163.1,179.8h7.4M168.0,200.9h7.4M172.9,215.1h7.4M177.8,225.9h7.4M181.9,233.3h7.4M186.1,239.0h7.4M190.2,244.0h7.4M194.4,248.7h7.4M198.6,253.3h7.4M202.7,256.7h7.4M206.9,259.4h7.4" stroke="#3b528b" stroke-width="1.9" fill="none"/>
<path d="M212.2,261.5h5.2M216.3,263.0h5.2M220.5,263.8h5.2M224.7,264.8h5.2M228.8,265.6h5.2M233.0,266.4h5.2M237.2,267.0h5.2M241.3,267.4h5.2M245.5,267.6h5.2M249.7,268.1h5.2M253.9,268.4h5.2M258.0,268.9h5.2M262.2,268.8h5.2M266.4,269.4h5.2M270.5,269.4h5.2M277.2,270.3h5.2M283.4,270.1h5.2M289.6,270.4h5.2M295.8,270.8h5.2M302.0,270.6h5.2M308.2,271.0h5.2M314.4,271.3h5.2M320.6,271.6h5.2M326.9,271.3h5.2M333.1,271.7h5.2M339.3,271.9h5.2M345.5,272.3h5.2M351.7,272.1h5.2M357.9,272.3h5.2M364.1,272.6h5.2M370.3,272.7h5.2M376.5,273.1h5.2M382.7,272.7h5.2M388.9,273.1h5.2M395.2,272.8h5.2M401.4,273.1h5.2" stroke="#3b528b" stroke-width="1.5" fill="none"/>
<path d="M37.9,39.9a1.8,1.8 0 1,0 3.6,0a1.8,1.8 0 1,0 -3.6,0zM44.2,39.9a1.8,1.8 0 1,0 3.6,0a1.8,1.8 0 1,0 -3.6,0zM50.4,39.9a1.8,1.8 0 1,0 3.6,0a1.8,1.8 0 1,0 -3.6,0zM56.7,39.8a1.8,1.8 0 1,0 3.6,0a1.8,1.8 0 1,0 -3.6,0zM62.9,39.8a1.8,1.8 0 1,0 3.6,0a1.8,1.8 0 1,0 -3.6,0zM69.1,39.9a1.8,1.8 0 1,0 3.6,0a1.8,1.8 0 1,0 -3.6,0zM75.4,39.9a1.8,1.8 0 1,0 3.6,0a1.8,1.8 0 1,0 -3.6,0zM81.6,40.1a1.8,1.8 0 1,0 3.6,0a1.8,1.8 0 1,0 -3.6,0zM86.6,39.9a1.8,1.8 0 1,0 3.6,0a1.8,1.8 0 1,0 -3.6,0zM91.5,40.0a1.8,1.8 0 1,0 3.6,0a1.8,1.8 0 1,0 -3.6,0zM96.4,40.1a1.8,1.8 0 1,0 3.6,0a1.8,1.8 0 1,0 -3.6,0zM101.3,40.4a1.8,1.8 0 1,0 3.6,0a1.8,1.8 0 1,0 -3.6,0zM106.2,40.4a1.8,1.8 0 1,0 3.6,0a1.8,1.8 0 1,0 -3.6,0zM111.1,40.5a1.8,1.8 0 1,0 3.6,0a1.8,1.8 0 1,0 -3.6,0zM116.0,41.8a1.8,1.8 0 1,0 3.6,0a1.8,1.8 0 1,0 -3.6,0zM120.9,45.0a1.8,1.8 0 1,0 3.6,0a1.8,1.8 0 1,0 -3.6,0zM125.8,49.9a1.8,1.8 0 1,0 3.6,0a1.8,1.8 0 1,0 -3.6,0zM130.7,58.6a1.8,1.8 0 1,0 3.6,0a1.8,1.8 0 1,0 -3.6,0zM135.6,73.1a1.8,1.8 0 1,0 3.6,0a1.8,1.8 0 1,0 -3.6,0zM140.5,93.2a1.8,1.8 0 1,0 3.6,0a1.8,1.8 0 1,0 -3.6,0zM145.4,108.5a1.8,1.8 0 1,0 3.6,0a1.8,1.8 0 1,0 -3.6,0zM150.3,124.7a1.8,1.8 0 1,0 3.6,0a1.8,1.8 0 1,0 -3.6,0zM155.2,141.4a1.8,1.8 0 1,0 3.6,0a1.8,1.8 0 1,0 -3.6,0zM160.1,157.9a1.8,1.8 0 1,0 3.6,0a1.8,1.8 0 1,0 -3.6,0zM165.0,179.8a1.8,1.8 0 1,0 3.6,0a1.8,1.8 0 1,0 -3.6,0zM169.9,200.9a1.8,1.8 0 1,0 3.6,0a1.8,1.8 0 1,0 -3.6,0zM174.8,215.1a1.8,1.8 0 1,0 3.6,0a1.8,1.8 0 1,0 -3.6,0zM179.7,225.9a1.8,1.8 0 1,0 3.6,0a1.8,1.8 0 1,0 -3.6,0zM183.8,233.3a1.8,1.8 0 1,0 3.6,0a1.8,1.8 0 1,0 -3.6,0zM188.0,239.0a1.8,1.8 0 1,0 3.6,0a1.8,1.8 0 1,0 -3.6,0zM192.1,244.0a1.8,1.8 0 1,0 3.6,0a1.8,1.8 0 1,0 -3.6,0zM196.3,248.7a1.8,1.8 0 1,0 3.6,0a1.8,1.8 0 1,0 -3.6,0zM200.5,253.3a1.8,1.8 0 1,0 3.6,0a1.8,1.8 0 1,0 -3.6,0zM204.6,256.7a1.8,1.8 0 1,0 3.6,0a1.8,1.8 0 1,0 -3.6,0zM208.8,259.4a1.8,1.8 0 1,0 3.6,0a1.8,1.8 0 1,0 -3.6,0zM213.0,261.5a1.8,1.8 0 1,0 3.6,0a1.8,1.8 0 1,0 -3.6,0zM217.1,263.0a1.8,1.8 0 1,0 3.6,0a1.8,1.8 0 1,0 -3.6,0zM221.3,263.8a1.8,1.8 0 1,0 3.6,0a1.8,1.8 0 1,0 -3.6,0zM225.5,264.8a1.8,1.8 0 1,0 3.6,0a1.8,1.8 0 1,0 -3.6,0zM229.6,265.6a1.8,1.8 0 1,0 3.6,0a1.8,1.8 0 1,0 -3.6,0zM233.8,266.4a1.8,1.8 0 1,0 3.6,0a1.8,1.8 0 1,0 -3.6,0zM238.0,267.0a1.8,1.8 0 1,0 3.6,0a1.8,1.8 0 1,0 -3.6,0zM242.1,267.4a1.8,1.8 0 1,0 3.6,0a1.8,1.8 0 1,0 -3.6,0zM246.3,267.6a1.8,1.8 0 1,0 3.6,0a1.8,1.8 0 1,0 -3.6,0zM250.5,268.1a1.8,1.8 0 1,0 3.6,0a1.8,1.8 0 1,0 -3.6,0zM254.7,268.4a1.8,1.8 0 1,0 3.6,0a1.8,1.8 0 1,0 -3.6,0zM258.8,268.9a1.8,1.8 0 1,0 3.6,0a1.8,1.8 0 1,0 -3.6,0zM263.0,268.8a1.8,1.8 0 1,0 3.6,0a1.8,1.8 0 1,0 -3.6,0zM267.2,269.4a1.8,1.8 0 1,0 3.6,0a1.8,1.8 0 1,0 -3.6,0zM271.3,269.4a1.8,1.8 0 1,0 3.6,0a1.8,1.8 0 1,0 -3.6,0zM278.0,270.3a1.8,1.8 0 1,0 3.6,0a1.8,1.8 0 1,0 -3.6,0zM284.2,270.1a1.8,1.8 0 1,0 3.6,0a1.8,1.8 0 1,0 -3.6,0zM290.4,270.4a1.8,1.8 0 1,0 3.6,0a1.8,1.8 0 1,0 -3.6,0zM296.6,270.8a1.8,1.8 0 1,0 3.6,0a1.8,1.8 0 1,0 -3.6,0zM302.8,270.6a1.8,1.8 0 1,0 3.6,0a1.8,1.8 0 1,0 -3.6,0zM309.0,271.0a1.8,1.8 0 1,0 3.6,0a1.8,1.8 0 1,0 -3.6,0zM315.2,271.3a1.8,1.8 0 1,0 3.6,0a1.8,1.8 0 1,0 -3.6,0zM321.4,271.6a1.8,1.8 0 1,0 3.6,0a1.8,1.8 0 1,0 -3.6,0zM327.7,271.3a1.8,1.8 0 1,0 3.6,0a1.8,1.8 0 1,0 -3.6,0zM333.9,271.7a1.8,1.8 0 1,0 3.6,0a1.8,1.8 0 1,0 -3.6,0zM340.1,271.9a1.8,1.8 0 1,0 3.6,0a1.8,1.8 0 1,0 -3.6,0zM346.3,272.3a1.8,1.8 0 1,0 3.6,0a1.8,1.8 0 1,0 -3.6,0zM352.5,272.1a1.8,1.8 0 1,0 3.6,0a1.8,1.8 0 1,0 -3.6,0zM358.7,272.3a1.8,1.8 0 1,0 3.6,0a1.8,1.8 0 1,0 -3.6,0zM364.9,272.6a1.8,1.8 0 1,0 3.6,0a1.8,1.8 0 1,0 -3.6,0zM371.1,272.7a1.8,1.8 0 1,0 3.6,0a1.8,1.8 0 1,0 -3.6,0zM377.3,273.1a1.8,1.8 0 1,0 3.6,0a1.8,1.8 0 1,0 -3.6,0zM383.5,272.7a1.8,1.8 0 1,0 3.6,0a1.8,1.8 0 1,0 -3.6,0zM389.7,273.1a1.8,1.8 0 1,0 3.6,0a1.8,1.8 0 1,0 -3.6,0zM396.0,272.8a1.8,1.8 0 1,0 3.6,0a1.8,1.8 0 1,0 -3.6,0zM402.2,273.1a1.8,1.8 0 1,0 3.6,0a1.8,1.8 0 1,0 -3.6,0z" fill="#3b528b"/>
<polyline points="39.4,40.1 45.6,39.9 51.9,39.9 58.1,40.2 64.4,40.0 70.6,39.8 76.9,40.0 83.1,40.2 89.4,40.0 94.3,40.1 99.2,40.1 104.1,40.0 109.0,40.1 113.9,40.4 118.8,41.1 123.7,41.6 128.6,44.4 133.5,49.5 138.4,58.3 143.3,73.9 148.2,95.3 153.1,111.7 158.0,129.0 163.0,146.9 167.9,165.6 172.8,190.7 177.7,209.4 182.6,222.6 185.6,229.3 189.8,236.9 193.9,242.8 198.1,248.2 202.3,253.1 206.4,257.2 210.6,260.1 214.8,262.4 218.9,263.9 223.1,265.1 227.3,266.0 231.4,266.9 235.6,267.9 239.8,268.4 243.9,268.8 248.1,268.7 252.3,269.5 256.5,269.6 260.6,270.4 264.8,270.2 269.0,270.8 273.1,271.0 279.8,271.2 286.0,271.3 292.2,271.5 298.4,271.7 304.6,271.9 310.8,272.2 317.0,271.8 323.2,272.4 329.5,272.5 335.7,272.4 341.9,272.7 348.1,272.9 354.3,273.1 360.5,272.9 366.7,273.5 372.9,273.6 379.1,273.4 385.3,273.9 391.5,273.7 397.8,273.4 404.0,273.8" fill="none" stroke="#443983" stroke-width="1.25" stroke-linejoin="round"/>
<path d="M35.7,40.1h7.4M41.9,39.9h7.4M48.2,39.9h7.4M54.4,40.2h7.4M60.7,40.0h7.4M66.9,39.8h7.4M73.2,40.0h7.4M79.4,40.2h7.4M85.7,40.0h7.4M90.6,40.1h7.4M95.5,40.1h7.4M100.4,40.0h7.4M105.3,40.1h7.4M110.2,40.4h7.4M115.1,41.1h7.4M120.0,41.6h7.4M124.9,44.4h7.4M129.8,49.5h7.4M134.7,58.3h7.4M139.6,73.9h7.4M144.5,95.3h7.4M149.4,111.7h7.4M154.3,129.0h7.4M159.3,146.9h7.4M164.2,165.6h7.4M169.1,190.7h7.4M174.0,209.4h7.4M178.9,222.6h7.4M181.9,229.3h7.4M186.1,236.9h7.4M190.2,242.8h7.4M194.4,248.2h7.4M198.6,253.1h7.4M202.7,257.2h7.4M206.9,260.1h7.4" stroke="#443983" stroke-width="1.9" fill="none"/>
<path d="M212.2,262.4h5.2M216.3,263.9h5.2M220.5,265.1h5.2M224.7,266.0h5.2M228.8,266.9h5.2M233.0,267.9h5.2M237.2,268.4h5.2M241.3,268.8h5.2M245.5,268.7h5.2M249.7,269.5h5.2M253.9,269.6h5.2M258.0,270.4h5.2M262.2,270.2h5.2M266.4,270.8h5.2M270.5,271.0h5.2M277.2,271.2h5.2M283.4,271.3h5.2M289.6,271.5h5.2M295.8,271.7h5.2M302.0,271.9h5.2M308.2,272.2h5.2M314.4,271.8h5.2M320.6,272.4h5.2M326.9,272.5h5.2M333.1,272.4h5.2M339.3,272.7h5.2M345.5,272.9h5.2M351.7,273.1h5.2M357.9,272.9h5.2M364.1,273.5h5.2M370.3,273.6h5.2M376.5,273.4h5.2M382.7,273.9h5.2M388.9,273.7h5.2M395.2,273.4h5.2M401.4,273.8h5.2" stroke="#443983" stroke-width="1.5" fill="none"/>
<path d="M37.6,40.1a1.8,1.8 0 1,0 3.6,0a1.8,1.8 0 1,0 -3.6,0zM43.8,39.9a1.8,1.8 0 1,0 3.6,0a1.8,1.8 0 1,0 -3.6,0zM50.1,39.9a1.8,1.8 0 1,0 3.6,0a1.8,1.8 0 1,0 -3.6,0zM56.3,40.2a1.8,1.8 0 1,0 3.6,0a1.8,1.8 0 1,0 -3.6,0zM62.6,40.0a1.8,1.8 0 1,0 3.6,0a1.8,1.8 0 1,0 -3.6,0zM68.8,39.8a1.8,1.8 0 1,0 3.6,0a1.8,1.8 0 1,0 -3.6,0zM75.1,40.0a1.8,1.8 0 1,0 3.6,0a1.8,1.8 0 1,0 -3.6,0zM81.3,40.2a1.8,1.8 0 1,0 3.6,0a1.8,1.8 0 1,0 -3.6,0zM87.6,40.0a1.8,1.8 0 1,0 3.6,0a1.8,1.8 0 1,0 -3.6,0zM92.5,40.1a1.8,1.8 0 1,0 3.6,0a1.8,1.8 0 1,0 -3.6,0zM97.4,40.1a1.8,1.8 0 1,0 3.6,0a1.8,1.8 0 1,0 -3.6,0zM102.3,40.0a1.8,1.8 0 1,0 3.6,0a1.8,1.8 0 1,0 -3.6,0zM107.2,40.1a1.8,1.8 0 1,0 3.6,0a1.8,1.8 0 1,0 -3.6,0zM112.1,40.4a1.8,1.8 0 1,0 3.6,0a1.8,1.8 0 1,0 -3.6,0zM117.0,41.1a1.8,1.8 0 1,0 3.6,0a1.8,1.8 0 1,0 -3.6,0zM121.9,41.6a1.8,1.8 0 1,0 3.6,0a1.8,1.8 0 1,0 -3.6,0zM126.8,44.4a1.8,1.8 0 1,0 3.6,0a1.8,1.8 0 1,0 -3.6,0zM131.7,49.5a1.8,1.8 0 1,0 3.6,0a1.8,1.8 0 1,0 -3.6,0zM136.6,58.3a1.8,1.8 0 1,0 3.6,0a1.8,1.8 0 1,0 -3.6,0zM141.5,73.9a1.8,1.8 0 1,0 3.6,0a1.8,1.8 0 1,0 -3.6,0zM146.4,95.3a1.8,1.8 0 1,0 3.6,0a1.8,1.8 0 1,0 -3.6,0zM151.3,111.7a1.8,1.8 0 1,0 3.6,0a1.8,1.8 0 1,0 -3.6,0zM156.2,129.0a1.8,1.8 0 1,0 3.6,0a1.8,1.8 0 1,0 -3.6,0zM161.2,146.9a1.8,1.8 0 1,0 3.6,0a1.8,1.8 0 1,0 -3.6,0zM166.1,165.6a1.8,1.8 0 1,0 3.6,0a1.8,1.8 0 1,0 -3.6,0zM171.0,190.7a1.8,1.8 0 1,0 3.6,0a1.8,1.8 0 1,0 -3.6,0zM175.9,209.4a1.8,1.8 0 1,0 3.6,0a1.8,1.8 0 1,0 -3.6,0zM180.8,222.6a1.8,1.8 0 1,0 3.6,0a1.8,1.8 0 1,0 -3.6,0zM183.8,229.3a1.8,1.8 0 1,0 3.6,0a1.8,1.8 0 1,0 -3.6,0zM188.0,236.9a1.8,1.8 0 1,0 3.6,0a1.8,1.8 0 1,0 -3.6,0zM192.1,242.8a1.8,1.8 0 1,0 3.6,0a1.8,1.8 0 1,0 -3.6,0zM196.3,248.2a1.8,1.8 0 1,0 3.6,0a1.8,1.8 0 1,0 -3.6,0zM200.5,253.1a1.8,1.8 0 1,0 3.6,0a1.8,1.8 0 1,0 -3.6,0zM204.6,257.2a1.8,1.8 0 1,0 3.6,0a1.8,1.8 0 1,0 -3.6,0zM208.8,260.1a1.8,1.8 0 1,0 3.6,0a1.8,1.8 0 1,0 -3.6,0zM213.0,262.4a1.8,1.8 0 1,0 3.6,0a1.8,1.8 0 1,0 -3.6,0zM217.1,263.9a1.8,1.8 0 1,0 3.6,0a1.8,1.8 0 1,0 -3.6,0zM221.3,265.1a1.8,1.8 0 1,0 3.6,0a1.8,1.8 0 1,0 -3.6,0zM225.5,266.0a1.8,1.8 0 1,0 3.6,0a1.8,1.8 0 1,0 -3.6,0zM229.6,266.9a1.8,1.8 0 1,0 3.6,0a1.8,1.8 0 1,0 -3.6,0zM233.8,267.9a1.8,1.8 0 1,0 3.6,0a1.8,1.8 0 1,0 -3.6,0zM238.0,268.4a1.8,1.8 0 1,0 3.6,0a1.8,1.8 0 1,0 -3.6,0zM242.1,268.8a1.8,1.8 0 1,0 3.6,0a1.8,1.8 0 1,0 -3.6,0zM246.3,268.7a1.8,1.8 0 1,0 3.6,0a1.8,1.8 0 1,0 -3.6,0zM250.5,269.5a1.8,1.8 0 1,0 3.6,0a1.8,1.8 0 1,0 -3.6,0zM254.7,269.6a1.8,1.8 0 1,0 3.6,0a1.8,1.8 0 1,0 -3.6,0zM258.8,270.4a1.8,1.8 0 1,0 3.6,0a1.8,1.8 0 1,0 -3.6,0zM263.0,270.2a1.8,1.8 0 1,0 3.6,0a1.8,1.8 0 1,0 -3.6,0zM267.2,270.8a1.8,1.8 0 1,0 3.6,0a1.8,1.8 0 1,0 -3.6,0zM271.3,271.0a1.8,1.8 0 1,0 3.6,0a1.8,1.8 0 1,0 -3.6,0zM278.0,271.2a1.8,1.8 0 1,0 3.6,0a1.8,1.8 0 1,0 -3.6,0zM284.2,271.3a1.8,1.8 0 1,0 3.6,0a1.8,1.8 0 1,0 -3.6,0zM290.4,271.5a1.8,1.8 0 1,0 3.6,0a1.8,1.8 0 1,0 -3.6,0zM296.6,271.7a1.8,1.8 0 1,0 3.6,0a1.8,1.8 0 1,0 -3.6,0zM302.8,271.9a1.8,1.8 0 1,0 3.6,0a1.8,1.8 0 1,0 -3.6,0zM309.0,272.2a1.8,1.8 0 1,0 3.6,0a1.8,1.8 0 1,0 -3.6,0zM315.2,271.8a1.8,1.8 0 1,0 3.6,0a1.8,1.8 0 1,0 -3.6,0zM321.4,272.4a1.8,1.8 0 1,0 3.6,0a1.8,1.8 0 1,0 -3.6,0zM327.7,272.5a1.8,1.8 0 1,0 3.6,0a1.8,1.8 0 1,0 -3.6,0zM333.9,272.4a1.8,1.8 0 1,0 3.6,0a1.8,1.8 0 1,0 -3.6,0zM340.1,272.7a1.8,1.8 0 1,0 3.6,0a1.8,1.8 0 1,0 -3.6,0zM346.3,272.9a1.8,1.8 0 1,0 3.6,0a1.8,1.8 0 1,0 -3.6,0zM352.5,273.1a1.8,1.8 0 1,0 3.6,0a1.8,1.8 0 1,0 -3.6,0zM358.7,272.9a1.8,1.8 0 1,0 3.6,0a1.8,1.8 0 1,0 -3.6,0zM364.9,273.5a1.8,1.8 0 1,0 3.6,0a1.8,1.8 0 1,0 -3.6,0zM371.1,273.6a1.8,1.8 0 1,0 3.6,0a1.8,1.8 0 1,0 -3.6,0zM377.3,273.4a1.8,1.8 0 1,0 3.6,0a1.8,1.8 0 1,0 -3.6,0zM383.5,273.9a1.8,1.8 0 1,0 3.6,0a1.8,1.8 0 1,0 -3.6,0zM389.7,273.7a1.8,1.8 0 1,0 3.6,0a1.8,1.8 0 1,0 -3.6,0zM396.0,273.4a1.8,1.8 0 1,0 3.6,0a1.8,1.8 0 1,0 -3.6,0zM402.2,273.8a1.8,1.8 0 1,0 3.6,0a1.8,1.8 0 1,0 -3.6,0z" fill="#443983"/>
<polyline points="39.5,39.9 45.7,39.8 51.9,40.2 58.2,39.9 64.4,40.1 70.7,40.2 76.9,40.0 83.2,40.0 89.4,40.0 95.7,40.1 100.6,39.8 105.5,39.7 110.4,39.8 115.3,40.1 120.2,40.5 125.1,40.8 130.0,41.7 134.9,44.0 139.8,49.2 144.7,59.0 149.6,77.4 154.5,98.7 159.4,116.3 164.3,135.6 169.3,154.3 174.2,178.2 179.1,203.1 184.0,218.5 185.6,223.8 189.8,233.5 193.9,240.9 198.1,247.0 202.3,252.4 206.4,256.8 210.6,261.2 214.8,263.5 218.9,265.3 223.1,266.5 227.3,267.8 231.4,268.1 235.6,269.3 239.8,270.0 243.9,269.8 248.1,270.5 252.3,270.8 256.5,271.2 260.6,271.5 264.8,271.9 269.0,271.8 273.1,271.7 279.8,272.1 286.0,272.5 292.2,272.4 298.4,273.0 304.6,272.7 310.8,273.1 317.0,273.4 323.2,273.3 329.5,273.4 335.7,273.7 341.9,273.7 348.1,273.7 354.3,273.7 360.5,274.2 366.7,274.6 372.9,273.7 379.1,274.2 385.3,274.3 391.5,274.2 397.8,274.4 404.0,274.1" fill="none" stroke="#481f70" stroke-width="1.25" stroke-linejoin="round"/>
<path d="M35.8,39.9h7.4M42.0,39.8h7.4M48.2,40.2h7.4M54.5,39.9h7.4M60.7,40.1h7.4M67.0,40.2h7.4M73.2,40.0h7.4M79.5,40.0h7.4M85.7,40.0h7.4M92.0,40.1h7.4M96.9,39.8h7.4M101.8,39.7h7.4M106.7,39.8h7.4M111.6,40.1h7.4M116.5,40.5h7.4M121.4,40.8h7.4M126.3,41.7h7.4M131.2,44.0h7.4M136.1,49.2h7.4M141.0,59.0h7.4M145.9,77.4h7.4M150.8,98.7h7.4M155.7,116.3h7.4M160.6,135.6h7.4M165.6,154.3h7.4M170.5,178.2h7.4M175.4,203.1h7.4M180.3,218.5h7.4M181.9,223.8h7.4M186.1,233.5h7.4M190.2,240.9h7.4M194.4,247.0h7.4M198.6,252.4h7.4M202.7,256.8h7.4M206.9,261.2h7.4" stroke="#481f70" stroke-width="1.9" fill="none"/>
<path d="M212.2,263.5h5.2M216.3,265.3h5.2M220.5,266.5h5.2M224.7,267.8h5.2M228.8,268.1h5.2M233.0,269.3h5.2M237.2,270.0h5.2M241.3,269.8h5.2M245.5,270.5h5.2M249.7,270.8h5.2M253.9,271.2h5.2M258.0,271.5h5.2M262.2,271.9h5.2M266.4,271.8h5.2M270.5,271.7h5.2M277.2,272.1h5.2M283.4,272.5h5.2M289.6,272.4h5.2M295.8,273.0h5.2M302.0,272.7h5.2M308.2,273.1h5.2M314.4,273.4h5.2M320.6,273.3h5.2M326.9,273.4h5.2M333.1,273.7h5.2M339.3,273.7h5.2M345.5,273.7h5.2M351.7,273.7h5.2M357.9,274.2h5.2M364.1,274.6h5.2M370.3,273.7h5.2M376.5,274.2h5.2M382.7,274.3h5.2M388.9,274.2h5.2M395.2,274.4h5.2M401.4,274.1h5.2" stroke="#481f70" stroke-width="1.5" fill="none"/>
<path d="M37.7,39.9a1.8,1.8 0 1,0 3.6,0a1.8,1.8 0 1,0 -3.6,0zM43.9,39.8a1.8,1.8 0 1,0 3.6,0a1.8,1.8 0 1,0 -3.6,0zM50.1,40.2a1.8,1.8 0 1,0 3.6,0a1.8,1.8 0 1,0 -3.6,0zM56.4,39.9a1.8,1.8 0 1,0 3.6,0a1.8,1.8 0 1,0 -3.6,0zM62.6,40.1a1.8,1.8 0 1,0 3.6,0a1.8,1.8 0 1,0 -3.6,0zM68.9,40.2a1.8,1.8 0 1,0 3.6,0a1.8,1.8 0 1,0 -3.6,0zM75.1,40.0a1.8,1.8 0 1,0 3.6,0a1.8,1.8 0 1,0 -3.6,0zM81.4,40.0a1.8,1.8 0 1,0 3.6,0a1.8,1.8 0 1,0 -3.6,0zM87.6,40.0a1.8,1.8 0 1,0 3.6,0a1.8,1.8 0 1,0 -3.6,0zM93.9,40.1a1.8,1.8 0 1,0 3.6,0a1.8,1.8 0 1,0 -3.6,0zM98.8,39.8a1.8,1.8 0 1,0 3.6,0a1.8,1.8 0 1,0 -3.6,0zM103.7,39.7a1.8,1.8 0 1,0 3.6,0a1.8,1.8 0 1,0 -3.6,0zM108.6,39.8a1.8,1.8 0 1,0 3.6,0a1.8,1.8 0 1,0 -3.6,0zM113.5,40.1a1.8,1.8 0 1,0 3.6,0a1.8,1.8 0 1,0 -3.6,0zM118.4,40.5a1.8,1.8 0 1,0 3.6,0a1.8,1.8 0 1,0 -3.6,0zM123.3,40.8a1.8,1.8 0 1,0 3.6,0a1.8,1.8 0 1,0 -3.6,0zM128.2,41.7a1.8,1.8 0 1,0 3.6,0a1.8,1.8 0 1,0 -3.6,0zM133.1,44.0a1.8,1.8 0 1,0 3.6,0a1.8,1.8 0 1,0 -3.6,0zM138.0,49.2a1.8,1.8 0 1,0 3.6,0a1.8,1.8 0 1,0 -3.6,0zM142.9,59.0a1.8,1.8 0 1,0 3.6,0a1.8,1.8 0 1,0 -3.6,0zM147.8,77.4a1.8,1.8 0 1,0 3.6,0a1.8,1.8 0 1,0 -3.6,0zM152.7,98.7a1.8,1.8 0 1,0 3.6,0a1.8,1.8 0 1,0 -3.6,0zM157.6,116.3a1.8,1.8 0 1,0 3.6,0a1.8,1.8 0 1,0 -3.6,0zM162.5,135.6a1.8,1.8 0 1,0 3.6,0a1.8,1.8 0 1,0 -3.6,0zM167.5,154.3a1.8,1.8 0 1,0 3.6,0a1.8,1.8 0 1,0 -3.6,0zM172.4,178.2a1.8,1.8 0 1,0 3.6,0a1.8,1.8 0 1,0 -3.6,0zM177.3,203.1a1.8,1.8 0 1,0 3.6,0a1.8,1.8 0 1,0 -3.6,0zM182.2,218.5a1.8,1.8 0 1,0 3.6,0a1.8,1.8 0 1,0 -3.6,0zM183.8,223.8a1.8,1.8 0 1,0 3.6,0a1.8,1.8 0 1,0 -3.6,0zM188.0,233.5a1.8,1.8 0 1,0 3.6,0a1.8,1.8 0 1,0 -3.6,0zM192.1,240.9a1.8,1.8 0 1,0 3.6,0a1.8,1.8 0 1,0 -3.6,0zM196.3,247.0a1.8,1.8 0 1,0 3.6,0a1.8,1.8 0 1,0 -3.6,0zM200.5,252.4a1.8,1.8 0 1,0 3.6,0a1.8,1.8 0 1,0 -3.6,0zM204.6,256.8a1.8,1.8 0 1,0 3.6,0a1.8,1.8 0 1,0 -3.6,0zM208.8,261.2a1.8,1.8 0 1,0 3.6,0a1.8,1.8 0 1,0 -3.6,0zM213.0,263.5a1.8,1.8 0 1,0 3.6,0a1.8,1.8 0 1,0 -3.6,0zM217.1,265.3a1.8,1.8 0 1,0 3.6,0a1.8,1.8 0 1,0 -3.6,0zM221.3,266.5a1.8,1.8 0 1,0 3.6,0a1.8,1.8 0 1,0 -3.6,0zM225.5,267.8a1.8,1.8 0 1,0 3.6,0a1.8,1.8 0 1,0 -3.6,0zM229.6,268.1a1.8,1.8 0 1,0 3.6,0a1.8,1.8 0 1,0 -3.6,0zM233.8,269.3a1.8,1.8 0 1,0 3.6,0a1.8,1.8 0 1,0 -3.6,0zM238.0,270.0a1.8,1.8 0 1,0 3.6,0a1.8,1.8 0 1,0 -3.6,0zM242.1,269.8a1.8,1.8 0 1,0 3.6,0a1.8,1.8 0 1,0 -3.6,0zM246.3,270.5a1.8,1.8 0 1,0 3.6,0a1.8,1.8 0 1,0 -3.6,0zM250.5,270.8a1.8,1.8 0 1,0 3.6,0a1.8,1.8 0 1,0 -3.6,0zM254.7,271.2a1.8,1.8 0 1,0 3.6,0a1.8,1.8 0 1,0 -3.6,0zM258.8,271.5a1.8,1.8 0 1,0 3.6,0a1.8,1.8 0 1,0 -3.6,0zM263.0,271.9a1.8,1.8 0 1,0 3.6,0a1.8,1.8 0 1,0 -3.6,0zM267.2,271.8a1.8,1.8 0 1,0 3.6,0a1.8,1.8 0 1,0 -3.6,0zM271.3,271.7a1.8,1.8 0 1,0 3.6,0a1.8,1.8 0 1,0 -3.6,0zM278.0,272.1a1.8,1.8 0 1,0 3.6,0a1.8,1.8 0 1,0 -3.6,0zM284.2,272.5a1.8,1.8 0 1,0 3.6,0a1.8,1.8 0 1,0 -3.6,0zM290.4,272.4a1.8,1.8 0 1,0 3.6,0a1.8,1.8 0 1,0 -3.6,0zM296.6,273.0a1.8,1.8 0 1,0 3.6,0a1.8,1.8 0 1,0 -3.6,0zM302.8,272.7a1.8,1.8 0 1,0 3.6,0a1.8,1.8 0 1,0 -3.6,0zM309.0,273.1a1.8,1.8 0 1,0 3.6,0a1.8,1.8 0 1,0 -3.6,0zM315.2,273.4a1.8,1.8 0 1,0 3.6,0a1.8,1.8 0 1,0 -3.6,0zM321.4,273.3a1.8,1.8 0 1,0 3.6,0a1.8,1.8 0 1,0 -3.6,0zM327.7,273.4a1.8,1.8 0 1,0 3.6,0a1.8,1.8 0 1,0 -3.6,0zM333.9,273.7a1.8,1.8 0 1,0 3.6,0a1.8,1.8 0 1,0 -3.6,0zM340.1,273.7a1.8,1.8 0 1,0 3.6,0a1.8,1.8 0 1,0 -3.6,0zM346.3,273.7a1.8,1.8 0 1,0 3.6,0a1.8,1.8 0 1,0 -3.6,0zM352.5,273.7a1.8,1.8 0 1,0 3.6,0a1.8,1.8 0 1,0 -3.6,0zM358.7,274.2a1.8,1.8 0 1,0 3.6,0a1.8,1.8 0 1,0 -3.6,0zM364.9,274.6a1.8,1.8 0 1,0 3.6,0a1.8,1.8 0 1,0 -3.6,0zM371.1,273.7a1.8,1.8 0 1,0 3.6,0a1.8,1.8 0 1,0 -3.6,0zM377.3,274.2a1.8,1.8 0 1,0 3.6,0a1.8,1.8 0 1,0 -3.6,0zM383.5,274.3a1.8,1.8 0 1,0 3.6,0a1.8,1.8 0 1,0 -3.6,0zM389.7,274.2a1.8,1.8 0 1,0 3.6,0a1.8,1.8 0 1,0 -3.6,0zM396.0,274.4a1.8,1.8 0 1,0 3.6,0a1.8,1.8 0 1,0 -3.6,0zM402.2,274.1a1.8,1.8 0 1,0 3.6,0a1.8,1.8 0 1,0 -3.6,0z" fill="#481f70"/>
<polyline points="35.6,40.2 60.6,40.0 85.6,40.2 110.6,39.7 102.4,40.0 107.3,39.7 112.2,39.7 117.1,40.2 122.0,40.0 126.9,40.1 131.8,40.6 136.7,41.4 141.6,43.9 146.5,49.8 151.4,61.6 156.3,83.3 161.2,103.9 166.1,124.0 171.1,144.7 176.0,167.0 180.9,195.3 185.6,214.6 189.8,227.3 193.9,237.3 198.1,244.8 202.3,251.4 206.4,257.3 210.6,261.8 214.8,264.9 218.9,267.0 223.1,268.3 227.3,269.6 231.4,270.6 235.6,271.0 239.8,272.0 243.9,272.1 248.1,272.3 252.3,272.7 256.5,273.2 260.6,273.4 264.8,273.1 269.0,273.7 273.1,273.7 279.8,273.8 286.0,274.0 292.2,274.5 298.4,274.7 304.6,274.5 310.8,274.7 317.0,274.7 323.2,274.8 329.5,274.8 335.7,275.2 341.9,275.4 348.1,274.9 354.3,275.2 360.5,275.4 366.7,275.5 372.9,275.1 379.1,275.4 385.3,275.4 391.5,275.1 397.8,275.1 404.0,275.1" fill="none" stroke="#440154" stroke-width="1.25" stroke-linejoin="round"/>
<path d="M31.9,40.2h7.4M56.9,40.0h7.4M81.9,40.2h7.4M106.9,39.7h7.4M98.7,40.0h7.4M103.6,39.7h7.4M108.5,39.7h7.4M113.4,40.2h7.4M118.3,40.0h7.4M123.2,40.1h7.4M128.1,40.6h7.4M133.0,41.4h7.4M137.9,43.9h7.4M142.8,49.8h7.4M147.7,61.6h7.4M152.6,83.3h7.4M157.5,103.9h7.4M162.4,124.0h7.4M167.4,144.7h7.4M172.3,167.0h7.4M177.2,195.3h7.4M181.9,214.6h7.4M186.1,227.3h7.4M190.2,237.3h7.4M194.4,244.8h7.4M198.6,251.4h7.4M202.7,257.3h7.4M206.9,261.8h7.4" stroke="#440154" stroke-width="1.9" fill="none"/>
<path d="M212.2,264.9h5.2M216.3,267.0h5.2M220.5,268.3h5.2M224.7,269.6h5.2M228.8,270.6h5.2M233.0,271.0h5.2M237.2,272.0h5.2M241.3,272.1h5.2M245.5,272.3h5.2M249.7,272.7h5.2M253.9,273.2h5.2M258.0,273.4h5.2M262.2,273.1h5.2M266.4,273.7h5.2M270.5,273.7h5.2M277.2,273.8h5.2M283.4,274.0h5.2M289.6,274.5h5.2M295.8,274.7h5.2M302.0,274.5h5.2M308.2,274.7h5.2M314.4,274.7h5.2M320.6,274.8h5.2M326.9,274.8h5.2M333.1,275.2h5.2M339.3,275.4h5.2M345.5,274.9h5.2M351.7,275.2h5.2M357.9,275.4h5.2M364.1,275.5h5.2M370.3,275.1h5.2M376.5,275.4h5.2M382.7,275.4h5.2M388.9,275.1h5.2M395.2,275.1h5.2M401.4,275.1h5.2" stroke="#440154" stroke-width="1.5" fill="none"/>
<path d="M33.8,40.2a1.8,1.8 0 1,0 3.6,0a1.8,1.8 0 1,0 -3.6,0zM58.8,40.0a1.8,1.8 0 1,0 3.6,0a1.8,1.8 0 1,0 -3.6,0zM83.8,40.2a1.8,1.8 0 1,0 3.6,0a1.8,1.8 0 1,0 -3.6,0zM108.8,39.7a1.8,1.8 0 1,0 3.6,0a1.8,1.8 0 1,0 -3.6,0zM100.6,40.0a1.8,1.8 0 1,0 3.6,0a1.8,1.8 0 1,0 -3.6,0zM105.5,39.7a1.8,1.8 0 1,0 3.6,0a1.8,1.8 0 1,0 -3.6,0zM110.4,39.7a1.8,1.8 0 1,0 3.6,0a1.8,1.8 0 1,0 -3.6,0zM115.3,40.2a1.8,1.8 0 1,0 3.6,0a1.8,1.8 0 1,0 -3.6,0zM120.2,40.0a1.8,1.8 0 1,0 3.6,0a1.8,1.8 0 1,0 -3.6,0zM125.1,40.1a1.8,1.8 0 1,0 3.6,0a1.8,1.8 0 1,0 -3.6,0zM130.0,40.6a1.8,1.8 0 1,0 3.6,0a1.8,1.8 0 1,0 -3.6,0zM134.9,41.4a1.8,1.8 0 1,0 3.6,0a1.8,1.8 0 1,0 -3.6,0zM139.8,43.9a1.8,1.8 0 1,0 3.6,0a1.8,1.8 0 1,0 -3.6,0zM144.7,49.8a1.8,1.8 0 1,0 3.6,0a1.8,1.8 0 1,0 -3.6,0zM149.6,61.6a1.8,1.8 0 1,0 3.6,0a1.8,1.8 0 1,0 -3.6,0zM154.5,83.3a1.8,1.8 0 1,0 3.6,0a1.8,1.8 0 1,0 -3.6,0zM159.4,103.9a1.8,1.8 0 1,0 3.6,0a1.8,1.8 0 1,0 -3.6,0zM164.3,124.0a1.8,1.8 0 1,0 3.6,0a1.8,1.8 0 1,0 -3.6,0zM169.3,144.7a1.8,1.8 0 1,0 3.6,0a1.8,1.8 0 1,0 -3.6,0zM174.2,167.0a1.8,1.8 0 1,0 3.6,0a1.8,1.8 0 1,0 -3.6,0zM179.1,195.3a1.8,1.8 0 1,0 3.6,0a1.8,1.8 0 1,0 -3.6,0zM183.8,214.6a1.8,1.8 0 1,0 3.6,0a1.8,1.8 0 1,0 -3.6,0zM188.0,227.3a1.8,1.8 0 1,0 3.6,0a1.8,1.8 0 1,0 -3.6,0zM192.1,237.3a1.8,1.8 0 1,0 3.6,0a1.8,1.8 0 1,0 -3.6,0zM196.3,244.8a1.8,1.8 0 1,0 3.6,0a1.8,1.8 0 1,0 -3.6,0zM200.5,251.4a1.8,1.8 0 1,0 3.6,0a1.8,1.8 0 1,0 -3.6,0zM204.6,257.3a1.8,1.8 0 1,0 3.6,0a1.8,1.8 0 1,0 -3.6,0zM208.8,261.8a1.8,1.8 0 1,0 3.6,0a1.8,1.8 0 1,0 -3.6,0zM213.0,264.9a1.8,1.8 0 1,0 3.6,0a1.8,1.8 0 1,0 -3.6,0zM217.1,267.0a1.8,1.8 0 1,0 3.6,0a1.8,1.8 0 1,0 -3.6,0zM221.3,268.3a1.8,1.8 0 1,0 3.6,0a1.8,1.8 0 1,0 -3.6,0zM225.5,269.6a1.8,1.8 0 1,0 3.6,0a1.8,1.8 0 1,0 -3.6,0zM229.6,270.6a1.8,1.8 0 1,0 3.6,0a1.8,1.8 0 1,0 -3.6,0zM233.8,271.0a1.8,1.8 0 1,0 3.6,0a1.8,1.8 0 1,0 -3.6,0zM238.0,272.0a1.8,1.8 0 1,0 3.6,0a1.8,1.8 0 1,0 -3.6,0zM242.1,272.1a1.8,1.8 0 1,0 3.6,0a1.8,1.8 0 1,0 -3.6,0zM246.3,272.3a1.8,1.8 0 1,0 3.6,0a1.8,1.8 0 1,0 -3.6,0zM250.5,272.7a1.8,1.8 0 1,0 3.6,0a1.8,1.8 0 1,0 -3.6,0zM254.7,273.2a1.8,1.8 0 1,0 3.6,0a1.8,1.8 0 1,0 -3.6,0zM258.8,273.4a1.8,1.8 0 1,0 3.6,0a1.8,1.8 0 1,0 -3.6,0zM263.0,273.1a1.8,1.8 0 1,0 3.6,0a1.8,1.8 0 1,0 -3.6,0zM267.2,273.7a1.8,1.8 0 1,0 3.6,0a1.8,1.8 0 1,0 -3.6,0zM271.3,273.7a1.8,1.8 0 1,0 3.6,0a1.8,1.8 0 1,0 -3.6,0zM278.0,273.8a1.8,1.8 0 1,0 3.6,0a1.8,1.8 0 1,0 -3.6,0zM284.2,274.0a1.8,1.8 0 1,0 3.6,0a1.8,1.8 0 1,0 -3.6,0zM290.4,274.5a1.8,1.8 0 1,0 3.6,0a1.8,1.8 0 1,0 -3.6,0zM296.6,274.7a1.8,1.8 0 1,0 3.6,0a1.8,1.8 0 1,0 -3.6,0zM302.8,274.5a1.8,1.8 0 1,0 3.6,0a1.8,1.8 0 1,0 -3.6,0zM309.0,274.7a1.8,1.8 0 1,0 3.6,0a1.8,1.8 0 1,0 -3.6,0zM315.2,274.7a1.8,1.8 0 1,0 3.6,0a1.8,1.8 0 1,0 -3.6,0zM321.4,274.8a1.8,1.8 0 1,0 3.6,0a1.8,1.8 0 1,0 -3.6,0zM327.7,274.8a1.8,1.8 0 1,0 3.6,0a1.8,1.8 0 1,0 -3.6,0zM333.9,275.2a1.8,1.8 0 1,0 3.6,0a1.8,1.8 0 1,0 -3.6,0zM340.1,275.4a1.8,1.8 0 1,0 3.6,0a1.8,1.8 0 1,0 -3.6,0zM346.3,274.9a1.8,1.8 0 1,0 3.6,0a1.8,1.8 0 1,0 -3.6,0zM352.5,275.2a1.8,1.8 0 1,0 3.6,0a1.8,1.8 0 1,0 -3.6,0zM358.7,275.4a1.8,1.8 0 1,0 3.6,0a1.8,1.8 0 1,0 -3.6,0zM364.9,275.5a1.8,1.8 0 1,0 3.6,0a1.8,1.8 0 1,0 -3.6,0zM371.1,275.1a1.8,1.8 0 1,0 3.6,0a1.8,1.8 0 1,0 -3.6,0zM377.3,275.4a1.8,1.8 0 1,0 3.6,0a1.8,1.8 0 1,0 -3.6,0zM383.5,275.4a1.8,1.8 0 1,0 3.6,0a1.8,1.8 0 1,0 -3.6,0zM389.7,275.1a1.8,1.8 0 1,0 3.6,0a1.8,1.8 0 1,0 -3.6,0zM396.0,275.1a1.8,1.8 0 1,0 3.6,0a1.8,1.8 0 1,0 -3.6,0zM402.2,275.1a1.8,1.8 0 1,0 3.6,0a1.8,1.8 0 1,0 -3.6,0z" fill="#440154"/>
<polyline points="73.5,37.5 98.4,41.8 123.4,40.3 135.7,37.5 148.1,43.5 154.5,47.6 157.7,53.3 161.2,59.4 167.0,86.8 172.9,113.7 185.7,182.9 197.6,225.8 210.8,251.1 223.0,264.7 235.7,270.1 248.3,272.0 260.2,273.2 273.2,274.1 298.1,273.7 323.3,276.8" fill="none" stroke="#ff0000" stroke-width="1.3" stroke-linejoin="round"/>
<path d="M73.5,34.6V40.4M98.4,40.0V43.5M123.4,38.5V42.1M135.7,34.2V40.8M148.1,41.9V45.2M154.5,46.5V48.8M157.7,52.2V54.5M161.2,58.2V60.5M167.0,84.8V88.8M172.9,111.6V115.8M185.7,180.6V185.2M197.6,223.9V227.8M210.8,249.5V252.8M223.0,263.5V265.8M235.7,269.4V270.7" stroke="#ff0000" stroke-width="1.3" fill="none"/>
<path d="M69.7,34.6h7.6M69.7,40.4h7.6M94.6,40.0h7.6M94.6,43.5h7.6M119.6,38.5h7.6M119.6,42.1h7.6M131.9,34.2h7.6M131.9,40.8h7.6M144.3,41.9h7.6M144.3,45.2h7.6M150.7,46.5h7.6M150.7,48.8h7.6M153.9,52.2h7.6M153.9,54.5h7.6M157.4,58.2h7.6M157.4,60.5h7.6M163.2,84.8h7.6M163.2,88.8h7.6M169.1,111.6h7.6M169.1,115.8h7.6M181.9,180.6h7.6M181.9,185.2h7.6M193.8,223.9h7.6M193.8,227.8h7.6M207.0,249.5h7.6M207.0,252.8h7.6M219.2,263.5h7.6M219.2,265.8h7.6M231.9,269.4h7.6M231.9,270.7h7.6M244.5,272.0h7.6M256.4,273.2h7.6M269.4,274.1h7.6M294.3,273.7h7.6M319.5,276.8h7.6" stroke="#ff0000" stroke-width="1.9" fill="none"/>
<path d="M71.6,37.5a1.9,1.9 0 1,0 3.8,0a1.9,1.9 0 1,0 -3.8,0zM96.5,41.8a1.9,1.9 0 1,0 3.8,0a1.9,1.9 0 1,0 -3.8,0zM121.5,40.3a1.9,1.9 0 1,0 3.8,0a1.9,1.9 0 1,0 -3.8,0zM133.8,37.5a1.9,1.9 0 1,0 3.8,0a1.9,1.9 0 1,0 -3.8,0zM146.2,43.5a1.9,1.9 0 1,0 3.8,0a1.9,1.9 0 1,0 -3.8,0zM152.6,47.6a1.9,1.9 0 1,0 3.8,0a1.9,1.9 0 1,0 -3.8,0zM155.8,53.3a1.9,1.9 0 1,0 3.8,0a1.9,1.9 0 1,0 -3.8,0zM159.3,59.4a1.9,1.9 0 1,0 3.8,0a1.9,1.9 0 1,0 -3.8,0zM165.1,86.8a1.9,1.9 0 1,0 3.8,0a1.9,1.9 0 1,0 -3.8,0zM171.0,113.7a1.9,1.9 0 1,0 3.8,0a1.9,1.9 0 1,0 -3.8,0zM183.8,182.9a1.9,1.9 0 1,0 3.8,0a1.9,1.9 0 1,0 -3.8,0zM195.7,225.8a1.9,1.9 0 1,0 3.8,0a1.9,1.9 0 1,0 -3.8,0zM208.9,251.1a1.9,1.9 0 1,0 3.8,0a1.9,1.9 0 1,0 -3.8,0zM221.1,264.7a1.9,1.9 0 1,0 3.8,0a1.9,1.9 0 1,0 -3.8,0zM233.8,270.1a1.9,1.9 0 1,0 3.8,0a1.9,1.9 0 1,0 -3.8,0zM246.4,272.0a1.9,1.9 0 1,0 3.8,0a1.9,1.9 0 1,0 -3.8,0zM258.3,273.2a1.9,1.9 0 1,0 3.8,0a1.9,1.9 0 1,0 -3.8,0zM271.3,274.1a1.9,1.9 0 1,0 3.8,0a1.9,1.9 0 1,0 -3.8,0zM296.2,273.7a1.9,1.9 0 1,0 3.8,0a1.9,1.9 0 1,0 -3.8,0zM321.4,276.8a1.9,1.9 0 1,0 3.8,0a1.9,1.9 0 1,0 -3.8,0z" fill="#ff0000"/>
</g>
<g clip-path="url(#cb)">
<path d="M389.5,36.6H569.4M557.8,284.7H778.3" stroke="#000" stroke-width="1.5" stroke-dasharray="5.5,2.4" fill="none"/>
<polyline points="395.3,46.1 401.1,49.1 406.9,52.7 412.7,57.5 418.5,63.5 424.3,70.3 430.1,77.4 435.9,84.3 441.7,90.7 447.5,97.1 453.3,103.5 459.1,110.0 464.9,116.7 470.7,123.5 476.5,130.3 482.3,137.0 488.2,143.7 494.0,150.4 499.8,157.1 505.6,163.9 511.4,171.1 517.2,177.4 523.0,181.9 528.8,185.6 534.6,189.0 540.4,192.4 546.2,196.1 552.0,199.7 557.8,203.4 563.6,207.0 569.4,210.7 572.8,212.9 577.7,216.2 582.6,219.3 587.6,222.3 592.5,225.0 597.4,227.5 602.4,229.8 607.3,232.1 612.2,234.1 617.2,236.1 622.1,237.9 627.0,239.7 631.9,241.3 636.9,242.8 641.8,244.2 646.7,245.5 651.7,246.8 656.6,248.0 661.5,249.2 666.5,250.4 671.4,251.5 676.3,252.6 750.3,263.4 823.6,269.2" fill="none" stroke="#fde725" stroke-width="1.7" stroke-linejoin="round"/>
<path d="M391.5,46.1h7.6M397.3,49.1h7.6M403.1,52.7h7.6M408.9,57.5h7.6M414.7,63.5h7.6M420.5,70.3h7.6M426.3,77.4h7.6M432.1,84.3h7.6M437.9,90.7h7.6M443.7,97.1h7.6M449.5,103.5h7.6M455.3,110.0h7.6M461.1,116.7h7.6M466.9,123.5h7.6M472.7,130.3h7.6M478.5,137.0h7.6M484.4,143.7h7.6M490.2,150.4h7.6M496.0,157.1h7.6M501.8,163.9h7.6M507.6,171.1h7.6M513.4,177.4h7.6M519.2,181.9h7.6M525.0,185.6h7.6M530.8,189.0h7.6M536.6,192.4h7.6M542.4,196.1h7.6M548.2,199.7h7.6M554.0,203.4h7.6M559.8,207.0h7.6M565.6,210.7h7.6M569.0,212.9h7.6M573.9,216.2h7.6M578.8,219.3h7.6M583.8,222.3h7.6M588.7,225.0h7.6M593.6,227.5h7.6M598.6,229.8h7.6M603.5,232.1h7.6" stroke="#fde725" stroke-width="1.7" fill="none"/>
<path d="M609.6,234.1h5.2M614.6,236.1h5.2M619.5,237.9h5.2M624.4,239.7h5.2M629.3,241.3h5.2M634.3,242.8h5.2M639.2,244.2h5.2M644.1,245.5h5.2M649.1,246.8h5.2M654.0,248.0h5.2M658.9,249.2h5.2M663.9,250.4h5.2M668.8,251.5h5.2M673.7,252.6h5.2M747.7,263.4h5.2M821.0,269.2h5.2" stroke="#fde725" stroke-width="1.5" fill="none"/>
<path d="M393.5,46.1a1.8,1.8 0 1,0 3.6,0a1.8,1.8 0 1,0 -3.6,0zM399.3,49.1a1.8,1.8 0 1,0 3.6,0a1.8,1.8 0 1,0 -3.6,0zM405.1,52.7a1.8,1.8 0 1,0 3.6,0a1.8,1.8 0 1,0 -3.6,0zM410.9,57.5a1.8,1.8 0 1,0 3.6,0a1.8,1.8 0 1,0 -3.6,0zM416.7,63.5a1.8,1.8 0 1,0 3.6,0a1.8,1.8 0 1,0 -3.6,0zM422.5,70.3a1.8,1.8 0 1,0 3.6,0a1.8,1.8 0 1,0 -3.6,0zM428.3,77.4a1.8,1.8 0 1,0 3.6,0a1.8,1.8 0 1,0 -3.6,0zM434.1,84.3a1.8,1.8 0 1,0 3.6,0a1.8,1.8 0 1,0 -3.6,0zM439.9,90.7a1.8,1.8 0 1,0 3.6,0a1.8,1.8 0 1,0 -3.6,0zM445.7,97.1a1.8,1.8 0 1,0 3.6,0a1.8,1.8 0 1,0 -3.6,0zM451.5,103.5a1.8,1.8 0 1,0 3.6,0a1.8,1.8 0 1,0 -3.6,0zM457.3,110.0a1.8,1.8 0 1,0 3.6,0a1.8,1.8 0 1,0 -3.6,0zM463.1,116.7a1.8,1.8 0 1,0 3.6,0a1.8,1.8 0 1,0 -3.6,0zM468.9,123.5a1.8,1.8 0 1,0 3.6,0a1.8,1.8 0 1,0 -3.6,0zM474.7,130.3a1.8,1.8 0 1,0 3.6,0a1.8,1.8 0 1,0 -3.6,0zM480.5,137.0a1.8,1.8 0 1,0 3.6,0a1.8,1.8 0 1,0 -3.6,0zM486.4,143.7a1.8,1.8 0 1,0 3.6,0a1.8,1.8 0 1,0 -3.6,0zM492.2,150.4a1.8,1.8 0 1,0 3.6,0a1.8,1.8 0 1,0 -3.6,0zM498.0,157.1a1.8,1.8 0 1,0 3.6,0a1.8,1.8 0 1,0 -3.6,0zM503.8,163.9a1.8,1.8 0 1,0 3.6,0a1.8,1.8 0 1,0 -3.6,0zM509.6,171.1a1.8,1.8 0 1,0 3.6,0a1.8,1.8 0 1,0 -3.6,0zM515.4,177.4a1.8,1.8 0 1,0 3.6,0a1.8,1.8 0 1,0 -3.6,0zM521.2,181.9a1.8,1.8 0 1,0 3.6,0a1.8,1.8 0 1,0 -3.6,0zM527.0,185.6a1.8,1.8 0 1,0 3.6,0a1.8,1.8 0 1,0 -3.6,0zM532.8,189.0a1.8,1.8 0 1,0 3.6,0a1.8,1.8 0 1,0 -3.6,0zM538.6,192.4a1.8,1.8 0 1,0 3.6,0a1.8,1.8 0 1,0 -3.6,0zM544.4,196.1a1.8,1.8 0 1,0 3.6,0a1.8,1.8 0 1,0 -3.6,0zM550.2,199.7a1.8,1.8 0 1,0 3.6,0a1.8,1.8 0 1,0 -3.6,0zM556.0,203.4a1.8,1.8 0 1,0 3.6,0a1.8,1.8 0 1,0 -3.6,0zM561.8,207.0a1.8,1.8 0 1,0 3.6,0a1.8,1.8 0 1,0 -3.6,0zM567.6,210.7a1.8,1.8 0 1,0 3.6,0a1.8,1.8 0 1,0 -3.6,0zM571.0,212.9a1.8,1.8 0 1,0 3.6,0a1.8,1.8 0 1,0 -3.6,0zM575.9,216.2a1.8,1.8 0 1,0 3.6,0a1.8,1.8 0 1,0 -3.6,0zM580.8,219.3a1.8,1.8 0 1,0 3.6,0a1.8,1.8 0 1,0 -3.6,0zM585.8,222.3a1.8,1.8 0 1,0 3.6,0a1.8,1.8 0 1,0 -3.6,0zM590.7,225.0a1.8,1.8 0 1,0 3.6,0a1.8,1.8 0 1,0 -3.6,0zM595.6,227.5a1.8,1.8 0 1,0 3.6,0a1.8,1.8 0 1,0 -3.6,0zM600.6,229.8a1.8,1.8 0 1,0 3.6,0a1.8,1.8 0 1,0 -3.6,0zM605.5,232.1a1.8,1.8 0 1,0 3.6,0a1.8,1.8 0 1,0 -3.6,0zM610.4,234.1a1.8,1.8 0 1,0 3.6,0a1.8,1.8 0 1,0 -3.6,0zM615.4,236.1a1.8,1.8 0 1,0 3.6,0a1.8,1.8 0 1,0 -3.6,0zM620.3,237.9a1.8,1.8 0 1,0 3.6,0a1.8,1.8 0 1,0 -3.6,0zM625.2,239.7a1.8,1.8 0 1,0 3.6,0a1.8,1.8 0 1,0 -3.6,0zM630.1,241.3a1.8,1.8 0 1,0 3.6,0a1.8,1.8 0 1,0 -3.6,0zM635.1,242.8a1.8,1.8 0 1,0 3.6,0a1.8,1.8 0 1,0 -3.6,0zM640.0,244.2a1.8,1.8 0 1,0 3.6,0a1.8,1.8 0 1,0 -3.6,0zM644.9,245.5a1.8,1.8 0 1,0 3.6,0a1.8,1.8 0 1,0 -3.6,0zM649.9,246.8a1.8,1.8 0 1,0 3.6,0a1.8,1.8 0 1,0 -3.6,0zM654.8,248.0a1.8,1.8 0 1,0 3.6,0a1.8,1.8 0 1,0 -3.6,0zM659.7,249.2a1.8,1.8 0 1,0 3.6,0a1.8,1.8 0 1,0 -3.6,0zM664.7,250.4a1.8,1.8 0 1,0 3.6,0a1.8,1.8 0 1,0 -3.6,0zM669.6,251.5a1.8,1.8 0 1,0 3.6,0a1.8,1.8 0 1,0 -3.6,0zM674.5,252.6a1.8,1.8 0 1,0 3.6,0a1.8,1.8 0 1,0 -3.6,0zM748.5,263.4a1.8,1.8 0 1,0 3.6,0a1.8,1.8 0 1,0 -3.6,0zM821.8,269.2a1.8,1.8 0 1,0 3.6,0a1.8,1.8 0 1,0 -3.6,0z" fill="#fde725"/>
<polyline points="397.6,41.6 405.0,45.1 410.8,48.2 416.6,51.5 422.4,55.7 428.2,60.4 434.0,65.3 439.8,70.8 445.6,77.1 451.4,84.5 457.2,92.6 463.0,101.2 468.8,109.7 474.6,117.8 480.4,125.7 486.2,134.0 492.0,142.5 497.8,150.8 503.6,158.5 509.4,163.7 515.2,167.7 521.0,171.9 526.8,177.3 532.6,183.7 538.5,189.9 544.3,195.0 550.1,199.4 555.9,203.4 561.7,207.2 567.5,210.8 572.8,214.0 577.7,216.8 582.6,219.6 587.6,222.3 592.5,224.9 597.4,227.5 602.4,230.0 607.3,232.4 612.2,234.6 617.2,236.7 622.1,238.6 627.0,240.3 631.9,241.8 636.9,243.3 641.8,244.7 646.7,246.0 651.7,247.3 656.6,248.5 661.5,249.7 666.5,250.8 671.4,251.9 676.3,252.9 691.6,255.8 706.3,258.2 750.3,263.8 823.6,269.3" fill="none" stroke="#c8e020" stroke-width="1.7" stroke-linejoin="round"/>
<path d="M393.8,41.6h7.6M401.2,45.1h7.6M407.0,48.2h7.6M412.8,51.5h7.6M418.6,55.7h7.6M424.4,60.4h7.6M430.2,65.3h7.6M436.0,70.8h7.6M441.8,77.1h7.6M447.6,84.5h7.6M453.4,92.6h7.6M459.2,101.2h7.6M465.0,109.7h7.6M470.8,117.8h7.6M476.6,125.7h7.6M482.4,134.0h7.6M488.2,142.5h7.6M494.0,150.8h7.6M499.8,158.5h7.6M505.6,163.7h7.6M511.4,167.7h7.6M517.2,171.9h7.6M523.0,177.3h7.6M528.8,183.7h7.6M534.7,189.9h7.6M540.5,195.0h7.6M546.3,199.4h7.6M552.1,203.4h7.6M557.9,207.2h7.6M563.7,210.8h7.6M569.0,214.0h7.6M573.9,216.8h7.6M578.8,219.6h7.6M583.8,222.3h7.6M588.7,224.9h7.6M593.6,227.5h7.6M598.6,230.0h7.6M603.5,232.4h7.6" stroke="#c8e020" stroke-width="1.7" fill="none"/>
<path d="M609.6,234.6h5.2M614.6,236.7h5.2M619.5,238.6h5.2M624.4,240.3h5.2M629.3,241.8h5.2M634.3,243.3h5.2M639.2,244.7h5.2M644.1,246.0h5.2M649.1,247.3h5.2M654.0,248.5h5.2M658.9,249.7h5.2M663.9,250.8h5.2M668.8,251.9h5.2M673.7,252.9h5.2M689.0,255.8h5.2M703.7,258.2h5.2M747.7,263.8h5.2M821.0,269.3h5.2" stroke="#c8e020" stroke-width="1.5" fill="none"/>
<path d="M395.8,41.6a1.8,1.8 0 1,0 3.6,0a1.8,1.8 0 1,0 -3.6,0zM403.2,45.1a1.8,1.8 0 1,0 3.6,0a1.8,1.8 0 1,0 -3.6,0zM409.0,48.2a1.8,1.8 0 1,0 3.6,0a1.8,1.8 0 1,0 -3.6,0zM414.8,51.5a1.8,1.8 0 1,0 3.6,0a1.8,1.8 0 1,0 -3.6,0zM420.6,55.7a1.8,1.8 0 1,0 3.6,0a1.8,1.8 0 1,0 -3.6,0zM426.4,60.4a1.8,1.8 0 1,0 3.6,0a1.8,1.8 0 1,0 -3.6,0zM432.2,65.3a1.8,1.8 0 1,0 3.6,0a1.8,1.8 0 1,0 -3.6,0zM438.0,70.8a1.8,1.8 0 1,0 3.6,0a1.8,1.8 0 1,0 -3.6,0zM443.8,77.1a1.8,1.8 0 1,0 3.6,0a1.8,1.8 0 1,0 -3.6,0zM449.6,84.5a1.8,1.8 0 1,0 3.6,0a1.8,1.8 0 1,0 -3.6,0zM455.4,92.6a1.8,1.8 0 1,0 3.6,0a1.8,1.8 0 1,0 -3.6,0zM461.2,101.2a1.8,1.8 0 1,0 3.6,0a1.8,1.8 0 1,0 -3.6,0zM467.0,109.7a1.8,1.8 0 1,0 3.6,0a1.8,1.8 0 1,0 -3.6,0zM472.8,117.8a1.8,1.8 0 1,0 3.6,0a1.8,1.8 0 1,0 -3.6,0zM478.6,125.7a1.8,1.8 0 1,0 3.6,0a1.8,1.8 0 1,0 -3.6,0zM484.4,134.0a1.8,1.8 0 1,0 3.6,0a1.8,1.8 0 1,0 -3.6,0zM490.2,142.5a1.8,1.8 0 1,0 3.6,0a1.8,1.8 0 1,0 -3.6,0zM496.0,150.8a1.8,1.8 0 1,0 3.6,0a1.8,1.8 0 1,0 -3.6,0zM501.8,158.5a1.8,1.8 0 1,0 3.6,0a1.8,1.8 0 1,0 -3.6,0zM507.6,163.7a1.8,1.8 0 1,0 3.6,0a1.8,1.8 0 1,0 -3.6,0zM513.4,167.7a1.8,1.8 0 1,0 3.6,0a1.8,1.8 0 1,0 -3.6,0zM519.2,171.9a1.8,1.8 0 1,0 3.6,0a1.8,1.8 0 1,0 -3.6,0zM525.0,177.3a1.8,1.8 0 1,0 3.6,0a1.8,1.8 0 1,0 -3.6,0zM530.8,183.7a1.8,1.8 0 1,0 3.6,0a1.8,1.8 0 1,0 -3.6,0zM536.7,189.9a1.8,1.8 0 1,0 3.6,0a1.8,1.8 0 1,0 -3.6,0zM542.5,195.0a1.8,1.8 0 1,0 3.6,0a1.8,1.8 0 1,0 -3.6,0zM548.3,199.4a1.8,1.8 0 1,0 3.6,0a1.8,1.8 0 1,0 -3.6,0zM554.1,203.4a1.8,1.8 0 1,0 3.6,0a1.8,1.8 0 1,0 -3.6,0zM559.9,207.2a1.8,1.8 0 1,0 3.6,0a1.8,1.8 0 1,0 -3.6,0zM565.7,210.8a1.8,1.8 0 1,0 3.6,0a1.8,1.8 0 1,0 -3.6,0zM571.0,214.0a1.8,1.8 0 1,0 3.6,0a1.8,1.8 0 1,0 -3.6,0zM575.9,216.8a1.8,1.8 0 1,0 3.6,0a1.8,1.8 0 1,0 -3.6,0zM580.8,219.6a1.8,1.8 0 1,0 3.6,0a1.8,1.8 0 1,0 -3.6,0zM585.8,222.3a1.8,1.8 0 1,0 3.6,0a1.8,1.8 0 1,0 -3.6,0zM590.7,224.9a1.8,1.8 0 1,0 3.6,0a1.8,1.8 0 1,0 -3.6,0zM595.6,227.5a1.8,1.8 0 1,0 3.6,0a1.8,1.8 0 1,0 -3.6,0zM600.6,230.0a1.8,1.8 0 1,0 3.6,0a1.8,1.8 0 1,0 -3.6,0zM605.5,232.4a1.8,1.8 0 1,0 3.6,0a1.8,1.8 0 1,0 -3.6,0zM610.4,234.6a1.8,1.8 0 1,0 3.6,0a1.8,1.8 0 1,0 -3.6,0zM615.4,236.7a1.8,1.8 0 1,0 3.6,0a1.8,1.8 0 1,0 -3.6,0zM620.3,238.6a1.8,1.8 0 1,0 3.6,0a1.8,1.8 0 1,0 -3.6,0zM625.2,240.3a1.8,1.8 0 1,0 3.6,0a1.8,1.8 0 1,0 -3.6,0zM630.1,241.8a1.8,1.8 0 1,0 3.6,0a1.8,1.8 0 1,0 -3.6,0zM635.1,243.3a1.8,1.8 0 1,0 3.6,0a1.8,1.8 0 1,0 -3.6,0zM640.0,244.7a1.8,1.8 0 1,0 3.6,0a1.8,1.8 0 1,0 -3.6,0zM644.9,246.0a1.8,1.8 0 1,0 3.6,0a1.8,1.8 0 1,0 -3.6,0zM649.9,247.3a1.8,1.8 0 1,0 3.6,0a1.8,1.8 0 1,0 -3.6,0zM654.8,248.5a1.8,1.8 0 1,0 3.6,0a1.8,1.8 0 1,0 -3.6,0zM659.7,249.7a1.8,1.8 0 1,0 3.6,0a1.8,1.8 0 1,0 -3.6,0zM664.7,250.8a1.8,1.8 0 1,0 3.6,0a1.8,1.8 0 1,0 -3.6,0zM669.6,251.9a1.8,1.8 0 1,0 3.6,0a1.8,1.8 0 1,0 -3.6,0zM674.5,252.9a1.8,1.8 0 1,0 3.6,0a1.8,1.8 0 1,0 -3.6,0zM689.8,255.8a1.8,1.8 0 1,0 3.6,0a1.8,1.8 0 1,0 -3.6,0zM704.5,258.2a1.8,1.8 0 1,0 3.6,0a1.8,1.8 0 1,0 -3.6,0zM748.5,263.8a1.8,1.8 0 1,0 3.6,0a1.8,1.8 0 1,0 -3.6,0zM821.8,269.3a1.8,1.8 0 1,0 3.6,0a1.8,1.8 0 1,0 -3.6,0z" fill="#c8e020"/>
<polyline points="399.6,38.9 406.9,41.3 414.3,44.9 420.1,48.0 425.9,51.4 431.8,55.8 437.6,60.6 443.4,65.8 449.2,71.6 455.0,78.2 460.8,86.1 466.6,94.7 472.4,103.8 478.2,112.7 484.0,121.4 489.8,130.2 495.6,139.6 501.4,149.1 507.2,158.6 513.0,166.6 518.8,172.2 524.6,177.2 530.4,182.7 536.2,189.2 542.0,195.9 547.8,201.4 553.6,205.8 559.4,209.7 565.2,213.4 571.0,216.8 572.8,217.8 577.7,220.6 582.6,223.2 587.6,225.8 592.5,228.3 597.4,230.8 602.4,233.2 607.3,235.6 612.2,237.8 617.2,239.9 622.1,241.8 627.0,243.5 631.9,245.0 636.9,246.4 641.8,247.7 646.7,249.0 651.7,250.2 656.6,251.4 661.5,252.5 666.5,253.6 671.4,254.6 676.3,255.6 691.6,258.3 706.3,260.5 750.3,265.8 823.6,270.7" fill="none" stroke="#90d743" stroke-width="1.7" stroke-linejoin="round"/>
<path d="M395.8,38.9h7.6M403.1,41.3h7.6M410.5,44.9h7.6M416.3,48.0h7.6M422.1,51.4h7.6M428.0,55.8h7.6M433.8,60.6h7.6M439.6,65.8h7.6M445.4,71.6h7.6M451.2,78.2h7.6M457.0,86.1h7.6M462.8,94.7h7.6M468.6,103.8h7.6M474.4,112.7h7.6M480.2,121.4h7.6M486.0,130.2h7.6M491.8,139.6h7.6M497.6,149.1h7.6M503.4,158.6h7.6M509.2,166.6h7.6M515.0,172.2h7.6M520.8,177.2h7.6M526.6,182.7h7.6M532.4,189.2h7.6M538.2,195.9h7.6M544.0,201.4h7.6M549.8,205.8h7.6M555.6,209.7h7.6M561.4,213.4h7.6M567.2,216.8h7.6M569.0,217.8h7.6M573.9,220.6h7.6M578.8,223.2h7.6M583.8,225.8h7.6M588.7,228.3h7.6M593.6,230.8h7.6M598.6,233.2h7.6M603.5,235.6h7.6" stroke="#90d743" stroke-width="1.7" fill="none"/>
<path d="M609.6,237.8h5.2M614.6,239.9h5.2M619.5,241.8h5.2M624.4,243.5h5.2M629.3,245.0h5.2M634.3,246.4h5.2M639.2,247.7h5.2M644.1,249.0h5.2M649.1,250.2h5.2M654.0,251.4h5.2M658.9,252.5h5.2M663.9,253.6h5.2M668.8,254.6h5.2M673.7,255.6h5.2M689.0,258.3h5.2M703.7,260.5h5.2M747.7,265.8h5.2M821.0,270.7h5.2" stroke="#90d743" stroke-width="1.5" fill="none"/>
<path d="M397.8,38.9a1.8,1.8 0 1,0 3.6,0a1.8,1.8 0 1,0 -3.6,0zM405.1,41.3a1.8,1.8 0 1,0 3.6,0a1.8,1.8 0 1,0 -3.6,0zM412.5,44.9a1.8,1.8 0 1,0 3.6,0a1.8,1.8 0 1,0 -3.6,0zM418.3,48.0a1.8,1.8 0 1,0 3.6,0a1.8,1.8 0 1,0 -3.6,0zM424.1,51.4a1.8,1.8 0 1,0 3.6,0a1.8,1.8 0 1,0 -3.6,0zM430.0,55.8a1.8,1.8 0 1,0 3.6,0a1.8,1.8 0 1,0 -3.6,0zM435.8,60.6a1.8,1.8 0 1,0 3.6,0a1.8,1.8 0 1,0 -3.6,0zM441.6,65.8a1.8,1.8 0 1,0 3.6,0a1.8,1.8 0 1,0 -3.6,0zM447.4,71.6a1.8,1.8 0 1,0 3.6,0a1.8,1.8 0 1,0 -3.6,0zM453.2,78.2a1.8,1.8 0 1,0 3.6,0a1.8,1.8 0 1,0 -3.6,0zM459.0,86.1a1.8,1.8 0 1,0 3.6,0a1.8,1.8 0 1,0 -3.6,0zM464.8,94.7a1.8,1.8 0 1,0 3.6,0a1.8,1.8 0 1,0 -3.6,0zM470.6,103.8a1.8,1.8 0 1,0 3.6,0a1.8,1.8 0 1,0 -3.6,0zM476.4,112.7a1.8,1.8 0 1,0 3.6,0a1.8,1.8 0 1,0 -3.6,0zM482.2,121.4a1.8,1.8 0 1,0 3.6,0a1.8,1.8 0 1,0 -3.6,0zM488.0,130.2a1.8,1.8 0 1,0 3.6,0a1.8,1.8 0 1,0 -3.6,0zM493.8,139.6a1.8,1.8 0 1,0 3.6,0a1.8,1.8 0 1,0 -3.6,0zM499.6,149.1a1.8,1.8 0 1,0 3.6,0a1.8,1.8 0 1,0 -3.6,0zM505.4,158.6a1.8,1.8 0 1,0 3.6,0a1.8,1.8 0 1,0 -3.6,0zM511.2,166.6a1.8,1.8 0 1,0 3.6,0a1.8,1.8 0 1,0 -3.6,0zM517.0,172.2a1.8,1.8 0 1,0 3.6,0a1.8,1.8 0 1,0 -3.6,0zM522.8,177.2a1.8,1.8 0 1,0 3.6,0a1.8,1.8 0 1,0 -3.6,0zM528.6,182.7a1.8,1.8 0 1,0 3.6,0a1.8,1.8 0 1,0 -3.6,0zM534.4,189.2a1.8,1.8 0 1,0 3.6,0a1.8,1.8 0 1,0 -3.6,0zM540.2,195.9a1.8,1.8 0 1,0 3.6,0a1.8,1.8 0 1,0 -3.6,0zM546.0,201.4a1.8,1.8 0 1,0 3.6,0a1.8,1.8 0 1,0 -3.6,0zM551.8,205.8a1.8,1.8 0 1,0 3.6,0a1.8,1.8 0 1,0 -3.6,0zM557.6,209.7a1.8,1.8 0 1,0 3.6,0a1.8,1.8 0 1,0 -3.6,0zM563.4,213.4a1.8,1.8 0 1,0 3.6,0a1.8,1.8 0 1,0 -3.6,0zM569.2,216.8a1.8,1.8 0 1,0 3.6,0a1.8,1.8 0 1,0 -3.6,0zM571.0,217.8a1.8,1.8 0 1,0 3.6,0a1.8,1.8 0 1,0 -3.6,0zM575.9,220.6a1.8,1.8 0 1,0 3.6,0a1.8,1.8 0 1,0 -3.6,0zM580.8,223.2a1.8,1.8 0 1,0 3.6,0a1.8,1.8 0 1,0 -3.6,0zM585.8,225.8a1.8,1.8 0 1,0 3.6,0a1.8,1.8 0 1,0 -3.6,0zM590.7,228.3a1.8,1.8 0 1,0 3.6,0a1.8,1.8 0 1,0 -3.6,0zM595.6,230.8a1.8,1.8 0 1,0 3.6,0a1.8,1.8 0 1,0 -3.6,0zM600.6,233.2a1.8,1.8 0 1,0 3.6,0a1.8,1.8 0 1,0 -3.6,0zM605.5,235.6a1.8,1.8 0 1,0 3.6,0a1.8,1.8 0 1,0 -3.6,0zM610.4,237.8a1.8,1.8 0 1,0 3.6,0a1.8,1.8 0 1,0 -3.6,0zM615.4,239.9a1.8,1.8 0 1,0 3.6,0a1.8,1.8 0 1,0 -3.6,0zM620.3,241.8a1.8,1.8 0 1,0 3.6,0a1.8,1.8 0 1,0 -3.6,0zM625.2,243.5a1.8,1.8 0 1,0 3.6,0a1.8,1.8 0 1,0 -3.6,0zM630.1,245.0a1.8,1.8 0 1,0 3.6,0a1.8,1.8 0 1,0 -3.6,0zM635.1,246.4a1.8,1.8 0 1,0 3.6,0a1.8,1.8 0 1,0 -3.6,0zM640.0,247.7a1.8,1.8 0 1,0 3.6,0a1.8,1.8 0 1,0 -3.6,0zM644.9,249.0a1.8,1.8 0 1,0 3.6,0a1.8,1.8 0 1,0 -3.6,0zM649.9,250.2a1.8,1.8 0 1,0 3.6,0a1.8,1.8 0 1,0 -3.6,0zM654.8,251.4a1.8,1.8 0 1,0 3.6,0a1.8,1.8 0 1,0 -3.6,0zM659.7,252.5a1.8,1.8 0 1,0 3.6,0a1.8,1.8 0 1,0 -3.6,0zM664.7,253.6a1.8,1.8 0 1,0 3.6,0a1.8,1.8 0 1,0 -3.6,0zM669.6,254.6a1.8,1.8 0 1,0 3.6,0a1.8,1.8 0 1,0 -3.6,0zM674.5,255.6a1.8,1.8 0 1,0 3.6,0a1.8,1.8 0 1,0 -3.6,0zM689.8,258.3a1.8,1.8 0 1,0 3.6,0a1.8,1.8 0 1,0 -3.6,0zM704.5,260.5a1.8,1.8 0 1,0 3.6,0a1.8,1.8 0 1,0 -3.6,0zM748.5,265.8a1.8,1.8 0 1,0 3.6,0a1.8,1.8 0 1,0 -3.6,0zM821.8,270.7a1.8,1.8 0 1,0 3.6,0a1.8,1.8 0 1,0 -3.6,0z" fill="#90d743"/>
<polyline points="401.2,37.8 408.6,38.7 416.0,41.0 423.4,44.6 429.2,47.8 435.0,51.4 440.8,55.8 446.6,60.9 452.4,66.3 458.2,72.3 464.0,79.4 469.8,87.8 475.6,97.0 481.4,106.6 487.2,115.9 493.0,125.1 498.8,134.8 504.6,145.3 510.4,155.8 516.2,166.2 522.0,173.9 527.8,180.0 533.6,185.9 539.4,192.6 545.2,199.7 551.0,205.9 556.8,210.5 562.6,214.4 568.5,218.0 572.8,220.5 577.7,223.2 582.6,225.8 587.6,228.3 592.5,230.8 597.4,233.2 602.4,235.6 607.3,237.9 612.2,240.1 617.2,242.2 622.1,244.2 627.0,245.9 631.9,247.5 636.9,248.8 641.8,250.1 646.7,251.4 651.7,252.6 656.6,253.7 661.5,254.8 666.5,255.8 671.4,256.8 676.3,257.7 684.2,259.1 691.6,260.3 698.9,261.4 706.3,262.5 713.6,263.4 720.9,264.3 728.3,265.2 735.6,266.0 743.0,266.7 750.3,267.4 757.7,268.1 765.0,268.7 772.4,269.2 779.7,269.7 787.1,270.1 794.4,270.5 801.8,270.9 809.1,271.3 816.4,271.6 823.8,271.9 831.1,272.2" fill="none" stroke="#5ec962" stroke-width="1.7" stroke-linejoin="round"/>
<path d="M397.4,37.8h7.6M404.8,38.7h7.6M412.2,41.0h7.6M419.6,44.6h7.6M425.4,47.8h7.6M431.2,51.4h7.6M437.0,55.8h7.6M442.8,60.9h7.6M448.6,66.3h7.6M454.4,72.3h7.6M460.2,79.4h7.6M466.0,87.8h7.6M471.8,97.0h7.6M477.6,106.6h7.6M483.4,115.9h7.6M489.2,125.1h7.6M495.0,134.8h7.6M500.8,145.3h7.6M506.6,155.8h7.6M512.4,166.2h7.6M518.2,173.9h7.6M524.0,180.0h7.6M529.8,185.9h7.6M535.6,192.6h7.6M541.4,199.7h7.6M547.2,205.9h7.6M553.0,210.5h7.6M558.8,214.4h7.6M564.7,218.0h7.6M569.0,220.5h7.6M573.9,223.2h7.6M578.8,225.8h7.6M583.8,228.3h7.6M588.7,230.8h7.6M593.6,233.2h7.6M598.6,235.6h7.6M603.5,237.9h7.6" stroke="#5ec962" stroke-width="1.7" fill="none"/>
<path d="M609.6,240.1h5.2M614.6,242.2h5.2M619.5,244.2h5.2M624.4,245.9h5.2M629.3,247.5h5.2M634.3,248.8h5.2M639.2,250.1h5.2M644.1,251.4h5.2M649.1,252.6h5.2M654.0,253.7h5.2M658.9,254.8h5.2M663.9,255.8h5.2M668.8,256.8h5.2M673.7,257.7h5.2M681.6,259.1h5.2M689.0,260.3h5.2M696.3,261.4h5.2M703.7,262.5h5.2M711.0,263.4h5.2M718.3,264.3h5.2M725.7,265.2h5.2M733.0,266.0h5.2M740.4,266.7h5.2M747.7,267.4h5.2M755.1,268.1h5.2M762.4,268.7h5.2M769.8,269.2h5.2M777.1,269.7h5.2M784.5,270.1h5.2M791.8,270.5h5.2M799.2,270.9h5.2M806.5,271.3h5.2M813.8,271.6h5.2M821.2,271.9h5.2M828.5,272.2h5.2" stroke="#5ec962" stroke-width="1.5" fill="none"/>
<path d="M399.4,37.8a1.8,1.8 0 1,0 3.6,0a1.8,1.8 0 1,0 -3.6,0zM406.8,38.7a1.8,1.8 0 1,0 3.6,0a1.8,1.8 0 1,0 -3.6,0zM414.2,41.0a1.8,1.8 0 1,0 3.6,0a1.8,1.8 0 1,0 -3.6,0zM421.6,44.6a1.8,1.8 0 1,0 3.6,0a1.8,1.8 0 1,0 -3.6,0zM427.4,47.8a1.8,1.8 0 1,0 3.6,0a1.8,1.8 0 1,0 -3.6,0zM433.2,51.4a1.8,1.8 0 1,0 3.6,0a1.8,1.8 0 1,0 -3.6,0zM439.0,55.8a1.8,1.8 0 1,0 3.6,0a1.8,1.8 0 1,0 -3.6,0zM444.8,60.9a1.8,1.8 0 1,0 3.6,0a1.8,1.8 0 1,0 -3.6,0zM450.6,66.3a1.8,1.8 0 1,0 3.6,0a1.8,1.8 0 1,0 -3.6,0zM456.4,72.3a1.8,1.8 0 1,0 3.6,0a1.8,1.8 0 1,0 -3.6,0zM462.2,79.4a1.8,1.8 0 1,0 3.6,0a1.8,1.8 0 1,0 -3.6,0zM468.0,87.8a1.8,1.8 0 1,0 3.6,0a1.8,1.8 0 1,0 -3.6,0zM473.8,97.0a1.8,1.8 0 1,0 3.6,0a1.8,1.8 0 1,0 -3.6,0zM479.6,106.6a1.8,1.8 0 1,0 3.6,0a1.8,1.8 0 1,0 -3.6,0zM485.4,115.9a1.8,1.8 0 1,0 3.6,0a1.8,1.8 0 1,0 -3.6,0zM491.2,125.1a1.8,1.8 0 1,0 3.6,0a1.8,1.8 0 1,0 -3.6,0zM497.0,134.8a1.8,1.8 0 1,0 3.6,0a1.8,1.8 0 1,0 -3.6,0zM502.8,145.3a1.8,1.8 0 1,0 3.6,0a1.8,1.8 0 1,0 -3.6,0zM508.6,155.8a1.8,1.8 0 1,0 3.6,0a1.8,1.8 0 1,0 -3.6,0zM514.4,166.2a1.8,1.8 0 1,0 3.6,0a1.8,1.8 0 1,0 -3.6,0zM520.2,173.9a1.8,1.8 0 1,0 3.6,0a1.8,1.8 0 1,0 -3.6,0zM526.0,180.0a1.8,1.8 0 1,0 3.6,0a1.8,1.8 0 1,0 -3.6,0zM531.8,185.9a1.8,1.8 0 1,0 3.6,0a1.8,1.8 0 1,0 -3.6,0zM537.6,192.6a1.8,1.8 0 1,0 3.6,0a1.8,1.8 0 1,0 -3.6,0zM543.4,199.7a1.8,1.8 0 1,0 3.6,0a1.8,1.8 0 1,0 -3.6,0zM549.2,205.9a1.8,1.8 0 1,0 3.6,0a1.8,1.8 0 1,0 -3.6,0zM555.0,210.5a1.8,1.8 0 1,0 3.6,0a1.8,1.8 0 1,0 -3.6,0zM560.8,214.4a1.8,1.8 0 1,0 3.6,0a1.8,1.8 0 1,0 -3.6,0zM566.7,218.0a1.8,1.8 0 1,0 3.6,0a1.8,1.8 0 1,0 -3.6,0zM571.0,220.5a1.8,1.8 0 1,0 3.6,0a1.8,1.8 0 1,0 -3.6,0zM575.9,223.2a1.8,1.8 0 1,0 3.6,0a1.8,1.8 0 1,0 -3.6,0zM580.8,225.8a1.8,1.8 0 1,0 3.6,0a1.8,1.8 0 1,0 -3.6,0zM585.8,228.3a1.8,1.8 0 1,0 3.6,0a1.8,1.8 0 1,0 -3.6,0zM590.7,230.8a1.8,1.8 0 1,0 3.6,0a1.8,1.8 0 1,0 -3.6,0zM595.6,233.2a1.8,1.8 0 1,0 3.6,0a1.8,1.8 0 1,0 -3.6,0zM600.6,235.6a1.8,1.8 0 1,0 3.6,0a1.8,1.8 0 1,0 -3.6,0zM605.5,237.9a1.8,1.8 0 1,0 3.6,0a1.8,1.8 0 1,0 -3.6,0zM610.4,240.1a1.8,1.8 0 1,0 3.6,0a1.8,1.8 0 1,0 -3.6,0zM615.4,242.2a1.8,1.8 0 1,0 3.6,0a1.8,1.8 0 1,0 -3.6,0zM620.3,244.2a1.8,1.8 0 1,0 3.6,0a1.8,1.8 0 1,0 -3.6,0zM625.2,245.9a1.8,1.8 0 1,0 3.6,0a1.8,1.8 0 1,0 -3.6,0zM630.1,247.5a1.8,1.8 0 1,0 3.6,0a1.8,1.8 0 1,0 -3.6,0zM635.1,248.8a1.8,1.8 0 1,0 3.6,0a1.8,1.8 0 1,0 -3.6,0zM640.0,250.1a1.8,1.8 0 1,0 3.6,0a1.8,1.8 0 1,0 -3.6,0zM644.9,251.4a1.8,1.8 0 1,0 3.6,0a1.8,1.8 0 1,0 -3.6,0zM649.9,252.6a1.8,1.8 0 1,0 3.6,0a1.8,1.8 0 1,0 -3.6,0zM654.8,253.7a1.8,1.8 0 1,0 3.6,0a1.8,1.8 0 1,0 -3.6,0zM659.7,254.8a1.8,1.8 0 1,0 3.6,0a1.8,1.8 0 1,0 -3.6,0zM664.7,255.8a1.8,1.8 0 1,0 3.6,0a1.8,1.8 0 1,0 -3.6,0zM669.6,256.8a1.8,1.8 0 1,0 3.6,0a1.8,1.8 0 1,0 -3.6,0zM674.5,257.7a1.8,1.8 0 1,0 3.6,0a1.8,1.8 0 1,0 -3.6,0zM682.4,259.1a1.8,1.8 0 1,0 3.6,0a1.8,1.8 0 1,0 -3.6,0zM689.8,260.3a1.8,1.8 0 1,0 3.6,0a1.8,1.8 0 1,0 -3.6,0zM697.1,261.4a1.8,1.8 0 1,0 3.6,0a1.8,1.8 0 1,0 -3.6,0zM704.5,262.5a1.8,1.8 0 1,0 3.6,0a1.8,1.8 0 1,0 -3.6,0zM711.8,263.4a1.8,1.8 0 1,0 3.6,0a1.8,1.8 0 1,0 -3.6,0zM719.1,264.3a1.8,1.8 0 1,0 3.6,0a1.8,1.8 0 1,0 -3.6,0zM726.5,265.2a1.8,1.8 0 1,0 3.6,0a1.8,1.8 0 1,0 -3.6,0zM733.8,266.0a1.8,1.8 0 1,0 3.6,0a1.8,1.8 0 1,0 -3.6,0zM741.2,266.7a1.8,1.8 0 1,0 3.6,0a1.8,1.8 0 1,0 -3.6,0zM748.5,267.4a1.8,1.8 0 1,0 3.6,0a1.8,1.8 0 1,0 -3.6,0zM755.9,268.1a1.8,1.8 0 1,0 3.6,0a1.8,1.8 0 1,0 -3.6,0zM763.2,268.7a1.8,1.8 0 1,0 3.6,0a1.8,1.8 0 1,0 -3.6,0zM770.6,269.2a1.8,1.8 0 1,0 3.6,0a1.8,1.8 0 1,0 -3.6,0zM777.9,269.7a1.8,1.8 0 1,0 3.6,0a1.8,1.8 0 1,0 -3.6,0zM785.3,270.1a1.8,1.8 0 1,0 3.6,0a1.8,1.8 0 1,0 -3.6,0zM792.6,270.5a1.8,1.8 0 1,0 3.6,0a1.8,1.8 0 1,0 -3.6,0zM800.0,270.9a1.8,1.8 0 1,0 3.6,0a1.8,1.8 0 1,0 -3.6,0zM807.3,271.3a1.8,1.8 0 1,0 3.6,0a1.8,1.8 0 1,0 -3.6,0zM814.6,271.6a1.8,1.8 0 1,0 3.6,0a1.8,1.8 0 1,0 -3.6,0zM822.0,271.9a1.8,1.8 0 1,0 3.6,0a1.8,1.8 0 1,0 -3.6,0zM829.3,272.2a1.8,1.8 0 1,0 3.6,0a1.8,1.8 0 1,0 -3.6,0z" fill="#5ec962"/>
<polyline points="395.1,37.0 402.5,37.2 409.9,37.7 417.3,38.5 424.7,40.6 432.1,44.3 437.9,47.6 443.7,51.3 449.5,55.9 455.3,61.1 461.1,66.8 466.9,73.2 472.7,80.7 478.5,89.6 484.3,99.3 490.1,109.3 495.9,119.1 501.7,129.0 507.5,139.6 513.3,151.0 519.1,162.5 524.9,172.7 530.7,180.3 536.5,186.8 542.3,193.6 548.1,201.1 554.0,208.0 559.8,213.1 565.6,217.2 572.8,221.5 577.7,224.3 582.6,226.9 587.6,229.5 592.5,231.9 597.4,234.3 602.4,236.7 607.3,239.0 612.2,241.3 617.2,243.4 622.1,245.4 627.0,247.3 631.9,248.9 636.9,250.3 641.8,251.6 646.7,252.8 651.7,254.0 656.6,255.1 661.5,256.1 666.5,257.2 671.4,258.1 676.3,259.0 684.2,260.4 691.6,261.6 698.9,262.7 706.3,263.7 713.6,264.6 720.9,265.5 728.3,266.4 735.6,267.1 743.0,267.8 750.3,268.5 757.7,269.1 765.0,269.7 772.4,270.1 779.7,270.6 787.1,271.0 794.4,271.4 801.8,271.7 809.1,272.1 816.4,272.4 823.8,272.7 831.1,273.0" fill="none" stroke="#35b779" stroke-width="1.7" stroke-linejoin="round"/>
<path d="M391.3,37.0h7.6M398.7,37.2h7.6M406.1,37.7h7.6M413.5,38.5h7.6M420.9,40.6h7.6M428.3,44.3h7.6M434.1,47.6h7.6M439.9,51.3h7.6M445.7,55.9h7.6M451.5,61.1h7.6M457.3,66.8h7.6M463.1,73.2h7.6M468.9,80.7h7.6M474.7,89.6h7.6M480.5,99.3h7.6M486.3,109.3h7.6M492.1,119.1h7.6M497.9,129.0h7.6M503.7,139.6h7.6M509.5,151.0h7.6M515.3,162.5h7.6M521.1,172.7h7.6M526.9,180.3h7.6M532.7,186.8h7.6M538.5,193.6h7.6M544.3,201.1h7.6M550.2,208.0h7.6M556.0,213.1h7.6M561.8,217.2h7.6M569.0,221.5h7.6M573.9,224.3h7.6M578.8,226.9h7.6M583.8,229.5h7.6M588.7,231.9h7.6M593.6,234.3h7.6M598.6,236.7h7.6M603.5,239.0h7.6" stroke="#35b779" stroke-width="1.7" fill="none"/>
<path d="M609.6,241.3h5.2M614.6,243.4h5.2M619.5,245.4h5.2M624.4,247.3h5.2M629.3,248.9h5.2M634.3,250.3h5.2M639.2,251.6h5.2M644.1,252.8h5.2M649.1,254.0h5.2M654.0,255.1h5.2M658.9,256.1h5.2M663.9,257.2h5.2M668.8,258.1h5.2M673.7,259.0h5.2M681.6,260.4h5.2M689.0,261.6h5.2M696.3,262.7h5.2M703.7,263.7h5.2M711.0,264.6h5.2M718.3,265.5h5.2M725.7,266.4h5.2M733.0,267.1h5.2M740.4,267.8h5.2M747.7,268.5h5.2M755.1,269.1h5.2M762.4,269.7h5.2M769.8,270.1h5.2M777.1,270.6h5.2M784.5,271.0h5.2M791.8,271.4h5.2M799.2,271.7h5.2M806.5,272.1h5.2M813.8,272.4h5.2M821.2,272.7h5.2M828.5,273.0h5.2" stroke="#35b779" stroke-width="1.5" fill="none"/>
<path d="M393.3,37.0a1.8,1.8 0 1,0 3.6,0a1.8,1.8 0 1,0 -3.6,0zM400.7,37.2a1.8,1.8 0 1,0 3.6,0a1.8,1.8 0 1,0 -3.6,0zM408.1,37.7a1.8,1.8 0 1,0 3.6,0a1.8,1.8 0 1,0 -3.6,0zM415.5,38.5a1.8,1.8 0 1,0 3.6,0a1.8,1.8 0 1,0 -3.6,0zM422.9,40.6a1.8,1.8 0 1,0 3.6,0a1.8,1.8 0 1,0 -3.6,0zM430.3,44.3a1.8,1.8 0 1,0 3.6,0a1.8,1.8 0 1,0 -3.6,0zM436.1,47.6a1.8,1.8 0 1,0 3.6,0a1.8,1.8 0 1,0 -3.6,0zM441.9,51.3a1.8,1.8 0 1,0 3.6,0a1.8,1.8 0 1,0 -3.6,0zM447.7,55.9a1.8,1.8 0 1,0 3.6,0a1.8,1.8 0 1,0 -3.6,0zM453.5,61.1a1.8,1.8 0 1,0 3.6,0a1.8,1.8 0 1,0 -3.6,0zM459.3,66.8a1.8,1.8 0 1,0 3.6,0a1.8,1.8 0 1,0 -3.6,0zM465.1,73.2a1.8,1.8 0 1,0 3.6,0a1.8,1.8 0 1,0 -3.6,0zM470.9,80.7a1.8,1.8 0 1,0 3.6,0a1.8,1.8 0 1,0 -3.6,0zM476.7,89.6a1.8,1.8 0 1,0 3.6,0a1.8,1.8 0 1,0 -3.6,0zM482.5,99.3a1.8,1.8 0 1,0 3.6,0a1.8,1.8 0 1,0 -3.6,0zM488.3,109.3a1.8,1.8 0 1,0 3.6,0a1.8,1.8 0 1,0 -3.6,0zM494.1,119.1a1.8,1.8 0 1,0 3.6,0a1.8,1.8 0 1,0 -3.6,0zM499.9,129.0a1.8,1.8 0 1,0 3.6,0a1.8,1.8 0 1,0 -3.6,0zM505.7,139.6a1.8,1.8 0 1,0 3.6,0a1.8,1.8 0 1,0 -3.6,0zM511.5,151.0a1.8,1.8 0 1,0 3.6,0a1.8,1.8 0 1,0 -3.6,0zM517.3,162.5a1.8,1.8 0 1,0 3.6,0a1.8,1.8 0 1,0 -3.6,0zM523.1,172.7a1.8,1.8 0 1,0 3.6,0a1.8,1.8 0 1,0 -3.6,0zM528.9,180.3a1.8,1.8 0 1,0 3.6,0a1.8,1.8 0 1,0 -3.6,0zM534.7,186.8a1.8,1.8 0 1,0 3.6,0a1.8,1.8 0 1,0 -3.6,0zM540.5,193.6a1.8,1.8 0 1,0 3.6,0a1.8,1.8 0 1,0 -3.6,0zM546.3,201.1a1.8,1.8 0 1,0 3.6,0a1.8,1.8 0 1,0 -3.6,0zM552.2,208.0a1.8,1.8 0 1,0 3.6,0a1.8,1.8 0 1,0 -3.6,0zM558.0,213.1a1.8,1.8 0 1,0 3.6,0a1.8,1.8 0 1,0 -3.6,0zM563.8,217.2a1.8,1.8 0 1,0 3.6,0a1.8,1.8 0 1,0 -3.6,0zM571.0,221.5a1.8,1.8 0 1,0 3.6,0a1.8,1.8 0 1,0 -3.6,0zM575.9,224.3a1.8,1.8 0 1,0 3.6,0a1.8,1.8 0 1,0 -3.6,0zM580.8,226.9a1.8,1.8 0 1,0 3.6,0a1.8,1.8 0 1,0 -3.6,0zM585.8,229.5a1.8,1.8 0 1,0 3.6,0a1.8,1.8 0 1,0 -3.6,0zM590.7,231.9a1.8,1.8 0 1,0 3.6,0a1.8,1.8 0 1,0 -3.6,0zM595.6,234.3a1.8,1.8 0 1,0 3.6,0a1.8,1.8 0 1,0 -3.6,0zM600.6,236.7a1.8,1.8 0 1,0 3.6,0a1.8,1.8 0 1,0 -3.6,0zM605.5,239.0a1.8,1.8 0 1,0 3.6,0a1.8,1.8 0 1,0 -3.6,0zM610.4,241.3a1.8,1.8 0 1,0 3.6,0a1.8,1.8 0 1,0 -3.6,0zM615.4,243.4a1.8,1.8 0 1,0 3.6,0a1.8,1.8 0 1,0 -3.6,0zM620.3,245.4a1.8,1.8 0 1,0 3.6,0a1.8,1.8 0 1,0 -3.6,0zM625.2,247.3a1.8,1.8 0 1,0 3.6,0a1.8,1.8 0 1,0 -3.6,0zM630.1,248.9a1.8,1.8 0 1,0 3.6,0a1.8,1.8 0 1,0 -3.6,0zM635.1,250.3a1.8,1.8 0 1,0 3.6,0a1.8,1.8 0 1,0 -3.6,0zM640.0,251.6a1.8,1.8 0 1,0 3.6,0a1.8,1.8 0 1,0 -3.6,0zM644.9,252.8a1.8,1.8 0 1,0 3.6,0a1.8,1.8 0 1,0 -3.6,0zM649.9,254.0a1.8,1.8 0 1,0 3.6,0a1.8,1.8 0 1,0 -3.6,0zM654.8,255.1a1.8,1.8 0 1,0 3.6,0a1.8,1.8 0 1,0 -3.6,0zM659.7,256.1a1.8,1.8 0 1,0 3.6,0a1.8,1.8 0 1,0 -3.6,0zM664.7,257.2a1.8,1.8 0 1,0 3.6,0a1.8,1.8 0 1,0 -3.6,0zM669.6,258.1a1.8,1.8 0 1,0 3.6,0a1.8,1.8 0 1,0 -3.6,0zM674.5,259.0a1.8,1.8 0 1,0 3.6,0a1.8,1.8 0 1,0 -3.6,0zM682.4,260.4a1.8,1.8 0 1,0 3.6,0a1.8,1.8 0 1,0 -3.6,0zM689.8,261.6a1.8,1.8 0 1,0 3.6,0a1.8,1.8 0 1,0 -3.6,0zM697.1,262.7a1.8,1.8 0 1,0 3.6,0a1.8,1.8 0 1,0 -3.6,0zM704.5,263.7a1.8,1.8 0 1,0 3.6,0a1.8,1.8 0 1,0 -3.6,0zM711.8,264.6a1.8,1.8 0 1,0 3.6,0a1.8,1.8 0 1,0 -3.6,0zM719.1,265.5a1.8,1.8 0 1,0 3.6,0a1.8,1.8 0 1,0 -3.6,0zM726.5,266.4a1.8,1.8 0 1,0 3.6,0a1.8,1.8 0 1,0 -3.6,0zM733.8,267.1a1.8,1.8 0 1,0 3.6,0a1.8,1.8 0 1,0 -3.6,0zM741.2,267.8a1.8,1.8 0 1,0 3.6,0a1.8,1.8 0 1,0 -3.6,0zM748.5,268.5a1.8,1.8 0 1,0 3.6,0a1.8,1.8 0 1,0 -3.6,0zM755.9,269.1a1.8,1.8 0 1,0 3.6,0a1.8,1.8 0 1,0 -3.6,0zM763.2,269.7a1.8,1.8 0 1,0 3.6,0a1.8,1.8 0 1,0 -3.6,0zM770.6,270.1a1.8,1.8 0 1,0 3.6,0a1.8,1.8 0 1,0 -3.6,0zM777.9,270.6a1.8,1.8 0 1,0 3.6,0a1.8,1.8 0 1,0 -3.6,0zM785.3,271.0a1.8,1.8 0 1,0 3.6,0a1.8,1.8 0 1,0 -3.6,0zM792.6,271.4a1.8,1.8 0 1,0 3.6,0a1.8,1.8 0 1,0 -3.6,0zM800.0,271.7a1.8,1.8 0 1,0 3.6,0a1.8,1.8 0 1,0 -3.6,0zM807.3,272.1a1.8,1.8 0 1,0 3.6,0a1.8,1.8 0 1,0 -3.6,0zM814.6,272.4a1.8,1.8 0 1,0 3.6,0a1.8,1.8 0 1,0 -3.6,0zM822.0,272.7a1.8,1.8 0 1,0 3.6,0a1.8,1.8 0 1,0 -3.6,0zM829.3,273.0a1.8,1.8 0 1,0 3.6,0a1.8,1.8 0 1,0 -3.6,0z" fill="#35b779"/>
<polyline points="396.1,36.7 403.5,36.9 410.9,37.1 418.3,37.6 425.7,38.3 433.1,40.3 440.5,43.9 446.3,47.4 452.1,51.1 457.9,55.9 463.7,61.4 469.5,67.3 475.3,74.1 481.1,82.2 486.9,91.6 492.7,101.9 498.5,112.3 504.3,122.5 510.1,133.2 515.9,144.9 521.7,157.1 527.5,169.5 533.3,179.1 539.1,186.7 544.9,193.8 550.7,201.7 556.5,209.3 562.3,215.2 568.1,219.6 572.8,222.5 577.7,225.3 582.6,228.0 587.6,230.6 592.5,233.0 597.4,235.4 602.4,237.8 607.3,240.1 612.2,242.4 617.2,244.6 622.1,246.7 627.0,248.5 631.9,250.2 636.9,251.7 641.8,253.0 646.7,254.2 651.7,255.4 656.6,256.5 661.5,257.5 666.5,258.5 671.4,259.5 676.3,260.4 684.2,261.7 691.6,262.9 698.9,264.0 706.3,265.0 713.6,265.9 720.9,266.7 728.3,267.5 735.6,268.3 743.0,269.0 750.3,269.6 757.7,270.1 765.0,270.7 772.4,271.1 779.7,271.5 787.1,271.9 794.4,272.3 801.8,272.6 809.1,272.9 816.4,273.2 823.8,273.5 831.1,273.8" fill="none" stroke="#20a486" stroke-width="1.7" stroke-linejoin="round"/>
<path d="M392.3,36.7h7.6M399.7,36.9h7.6M407.1,37.1h7.6M414.5,37.6h7.6M421.9,38.3h7.6M429.3,40.3h7.6M436.7,43.9h7.6M442.5,47.4h7.6M448.3,51.1h7.6M454.1,55.9h7.6M459.9,61.4h7.6M465.7,67.3h7.6M471.5,74.1h7.6M477.3,82.2h7.6M483.1,91.6h7.6M488.9,101.9h7.6M494.7,112.3h7.6M500.5,122.5h7.6M506.3,133.2h7.6M512.1,144.9h7.6M517.9,157.1h7.6M523.7,169.5h7.6M529.5,179.1h7.6M535.3,186.7h7.6M541.1,193.8h7.6M546.9,201.7h7.6M552.7,209.3h7.6M558.5,215.2h7.6M564.3,219.6h7.6M569.0,222.5h7.6M573.9,225.3h7.6M578.8,228.0h7.6M583.8,230.6h7.6M588.7,233.0h7.6M593.6,235.4h7.6M598.6,237.8h7.6M603.5,240.1h7.6" stroke="#20a486" stroke-width="1.7" fill="none"/>
<path d="M609.6,242.4h5.2M614.6,244.6h5.2M619.5,246.7h5.2M624.4,248.5h5.2M629.3,250.2h5.2M634.3,251.7h5.2M639.2,253.0h5.2M644.1,254.2h5.2M649.1,255.4h5.2M654.0,256.5h5.2M658.9,257.5h5.2M663.9,258.5h5.2M668.8,259.5h5.2M673.7,260.4h5.2M681.6,261.7h5.2M689.0,262.9h5.2M696.3,264.0h5.2M703.7,265.0h5.2M711.0,265.9h5.2M718.3,266.7h5.2M725.7,267.5h5.2M733.0,268.3h5.2M740.4,269.0h5.2M747.7,269.6h5.2M755.1,270.1h5.2M762.4,270.7h5.2M769.8,271.1h5.2M777.1,271.5h5.2M784.5,271.9h5.2M791.8,272.3h5.2M799.2,272.6h5.2M806.5,272.9h5.2M813.8,273.2h5.2M821.2,273.5h5.2M828.5,273.8h5.2" stroke="#20a486" stroke-width="1.5" fill="none"/>
<path d="M394.3,36.7a1.8,1.8 0 1,0 3.6,0a1.8,1.8 0 1,0 -3.6,0zM401.7,36.9a1.8,1.8 0 1,0 3.6,0a1.8,1.8 0 1,0 -3.6,0zM409.1,37.1a1.8,1.8 0 1,0 3.6,0a1.8,1.8 0 1,0 -3.6,0zM416.5,37.6a1.8,1.8 0 1,0 3.6,0a1.8,1.8 0 1,0 -3.6,0zM423.9,38.3a1.8,1.8 0 1,0 3.6,0a1.8,1.8 0 1,0 -3.6,0zM431.3,40.3a1.8,1.8 0 1,0 3.6,0a1.8,1.8 0 1,0 -3.6,0zM438.7,43.9a1.8,1.8 0 1,0 3.6,0a1.8,1.8 0 1,0 -3.6,0zM444.5,47.4a1.8,1.8 0 1,0 3.6,0a1.8,1.8 0 1,0 -3.6,0zM450.3,51.1a1.8,1.8 0 1,0 3.6,0a1.8,1.8 0 1,0 -3.6,0zM456.1,55.9a1.8,1.8 0 1,0 3.6,0a1.8,1.8 0 1,0 -3.6,0zM461.9,61.4a1.8,1.8 0 1,0 3.6,0a1.8,1.8 0 1,0 -3.6,0zM467.7,67.3a1.8,1.8 0 1,0 3.6,0a1.8,1.8 0 1,0 -3.6,0zM473.5,74.1a1.8,1.8 0 1,0 3.6,0a1.8,1.8 0 1,0 -3.6,0zM479.3,82.2a1.8,1.8 0 1,0 3.6,0a1.8,1.8 0 1,0 -3.6,0zM485.1,91.6a1.8,1.8 0 1,0 3.6,0a1.8,1.8 0 1,0 -3.6,0zM490.9,101.9a1.8,1.8 0 1,0 3.6,0a1.8,1.8 0 1,0 -3.6,0zM496.7,112.3a1.8,1.8 0 1,0 3.6,0a1.8,1.8 0 1,0 -3.6,0zM502.5,122.5a1.8,1.8 0 1,0 3.6,0a1.8,1.8 0 1,0 -3.6,0zM508.3,133.2a1.8,1.8 0 1,0 3.6,0a1.8,1.8 0 1,0 -3.6,0zM514.1,144.9a1.8,1.8 0 1,0 3.6,0a1.8,1.8 0 1,0 -3.6,0zM519.9,157.1a1.8,1.8 0 1,0 3.6,0a1.8,1.8 0 1,0 -3.6,0zM525.7,169.5a1.8,1.8 0 1,0 3.6,0a1.8,1.8 0 1,0 -3.6,0zM531.5,179.1a1.8,1.8 0 1,0 3.6,0a1.8,1.8 0 1,0 -3.6,0zM537.3,186.7a1.8,1.8 0 1,0 3.6,0a1.8,1.8 0 1,0 -3.6,0zM543.1,193.8a1.8,1.8 0 1,0 3.6,0a1.8,1.8 0 1,0 -3.6,0zM548.9,201.7a1.8,1.8 0 1,0 3.6,0a1.8,1.8 0 1,0 -3.6,0zM554.7,209.3a1.8,1.8 0 1,0 3.6,0a1.8,1.8 0 1,0 -3.6,0zM560.5,215.2a1.8,1.8 0 1,0 3.6,0a1.8,1.8 0 1,0 -3.6,0zM566.3,219.6a1.8,1.8 0 1,0 3.6,0a1.8,1.8 0 1,0 -3.6,0zM571.0,222.5a1.8,1.8 0 1,0 3.6,0a1.8,1.8 0 1,0 -3.6,0zM575.9,225.3a1.8,1.8 0 1,0 3.6,0a1.8,1.8 0 1,0 -3.6,0zM580.8,228.0a1.8,1.8 0 1,0 3.6,0a1.8,1.8 0 1,0 -3.6,0zM585.8,230.6a1.8,1.8 0 1,0 3.6,0a1.8,1.8 0 1,0 -3.6,0zM590.7,233.0a1.8,1.8 0 1,0 3.6,0a1.8,1.8 0 1,0 -3.6,0zM595.6,235.4a1.8,1.8 0 1,0 3.6,0a1.8,1.8 0 1,0 -3.6,0zM600.6,237.8a1.8,1.8 0 1,0 3.6,0a1.8,1.8 0 1,0 -3.6,0zM605.5,240.1a1.8,1.8 0 1,0 3.6,0a1.8,1.8 0 1,0 -3.6,0zM610.4,242.4a1.8,1.8 0 1,0 3.6,0a1.8,1.8 0 1,0 -3.6,0zM615.4,244.6a1.8,1.8 0 1,0 3.6,0a1.8,1.8 0 1,0 -3.6,0zM620.3,246.7a1.8,1.8 0 1,0 3.6,0a1.8,1.8 0 1,0 -3.6,0zM625.2,248.5a1.8,1.8 0 1,0 3.6,0a1.8,1.8 0 1,0 -3.6,0zM630.1,250.2a1.8,1.8 0 1,0 3.6,0a1.8,1.8 0 1,0 -3.6,0zM635.1,251.7a1.8,1.8 0 1,0 3.6,0a1.8,1.8 0 1,0 -3.6,0zM640.0,253.0a1.8,1.8 0 1,0 3.6,0a1.8,1.8 0 1,0 -3.6,0zM644.9,254.2a1.8,1.8 0 1,0 3.6,0a1.8,1.8 0 1,0 -3.6,0zM649.9,255.4a1.8,1.8 0 1,0 3.6,0a1.8,1.8 0 1,0 -3.6,0zM654.8,256.5a1.8,1.8 0 1,0 3.6,0a1.8,1.8 0 1,0 -3.6,0zM659.7,257.5a1.8,1.8 0 1,0 3.6,0a1.8,1.8 0 1,0 -3.6,0zM664.7,258.5a1.8,1.8 0 1,0 3.6,0a1.8,1.8 0 1,0 -3.6,0zM669.6,259.5a1.8,1.8 0 1,0 3.6,0a1.8,1.8 0 1,0 -3.6,0zM674.5,260.4a1.8,1.8 0 1,0 3.6,0a1.8,1.8 0 1,0 -3.6,0zM682.4,261.7a1.8,1.8 0 1,0 3.6,0a1.8,1.8 0 1,0 -3.6,0zM689.8,262.9a1.8,1.8 0 1,0 3.6,0a1.8,1.8 0 1,0 -3.6,0zM697.1,264.0a1.8,1.8 0 1,0 3.6,0a1.8,1.8 0 1,0 -3.6,0zM704.5,265.0a1.8,1.8 0 1,0 3.6,0a1.8,1.8 0 1,0 -3.6,0zM711.8,265.9a1.8,1.8 0 1,0 3.6,0a1.8,1.8 0 1,0 -3.6,0zM719.1,266.7a1.8,1.8 0 1,0 3.6,0a1.8,1.8 0 1,0 -3.6,0zM726.5,267.5a1.8,1.8 0 1,0 3.6,0a1.8,1.8 0 1,0 -3.6,0zM733.8,268.3a1.8,1.8 0 1,0 3.6,0a1.8,1.8 0 1,0 -3.6,0zM741.2,269.0a1.8,1.8 0 1,0 3.6,0a1.8,1.8 0 1,0 -3.6,0zM748.5,269.6a1.8,1.8 0 1,0 3.6,0a1.8,1.8 0 1,0 -3.6,0zM755.9,270.1a1.8,1.8 0 1,0 3.6,0a1.8,1.8 0 1,0 -3.6,0zM763.2,270.7a1.8,1.8 0 1,0 3.6,0a1.8,1.8 0 1,0 -3.6,0zM770.6,271.1a1.8,1.8 0 1,0 3.6,0a1.8,1.8 0 1,0 -3.6,0zM777.9,271.5a1.8,1.8 0 1,0 3.6,0a1.8,1.8 0 1,0 -3.6,0zM785.3,271.9a1.8,1.8 0 1,0 3.6,0a1.8,1.8 0 1,0 -3.6,0zM792.6,272.3a1.8,1.8 0 1,0 3.6,0a1.8,1.8 0 1,0 -3.6,0zM800.0,272.6a1.8,1.8 0 1,0 3.6,0a1.8,1.8 0 1,0 -3.6,0zM807.3,272.9a1.8,1.8 0 1,0 3.6,0a1.8,1.8 0 1,0 -3.6,0zM814.6,273.2a1.8,1.8 0 1,0 3.6,0a1.8,1.8 0 1,0 -3.6,0zM822.0,273.5a1.8,1.8 0 1,0 3.6,0a1.8,1.8 0 1,0 -3.6,0zM829.3,273.8a1.8,1.8 0 1,0 3.6,0a1.8,1.8 0 1,0 -3.6,0z" fill="#20a486"/>
<polyline points="396.8,36.6 404.2,36.7 411.6,36.8 419.0,37.1 426.4,37.5 433.8,38.2 441.2,40.0 448.5,43.6 454.3,47.1 460.2,51.0 466.0,56.0 471.8,61.7 477.6,67.9 483.4,75.0 489.2,83.7 495.0,93.7 500.8,104.6 506.6,115.4 512.4,126.3 518.2,137.9 524.0,150.7 529.8,163.8 535.6,176.1 541.4,185.3 547.2,193.2 553.0,201.3 558.8,209.8 564.6,216.8 570.4,221.6 572.8,223.2 577.7,226.3 582.6,229.1 587.6,231.7 592.5,234.2 597.4,236.5 602.4,238.9 607.3,241.2 612.2,243.5 617.2,245.8 622.1,247.9 627.0,249.8 631.9,251.6 636.9,253.1 641.8,254.4 646.7,255.6 651.7,256.8 656.6,257.9 661.5,258.9 666.5,259.9 671.4,260.9 676.3,261.8 684.2,263.1 691.6,264.2 698.9,265.3 706.3,266.2 713.6,267.1 720.9,267.9 728.3,268.7 735.6,269.4 743.0,270.1 750.3,270.7 757.7,271.2 765.0,271.7 772.4,272.1 779.7,272.5 787.1,272.8 794.4,273.1 801.8,273.4 809.1,273.7 816.4,274.0 823.8,274.3 831.1,274.6" fill="none" stroke="#21918c" stroke-width="1.7" stroke-linejoin="round"/>
<path d="M393.0,36.6h7.6M400.4,36.7h7.6M407.8,36.8h7.6M415.2,37.1h7.6M422.6,37.5h7.6M430.0,38.2h7.6M437.4,40.0h7.6M444.7,43.6h7.6M450.5,47.1h7.6M456.4,51.0h7.6M462.2,56.0h7.6M468.0,61.7h7.6M473.8,67.9h7.6M479.6,75.0h7.6M485.4,83.7h7.6M491.2,93.7h7.6M497.0,104.6h7.6M502.8,115.4h7.6M508.6,126.3h7.6M514.4,137.9h7.6M520.2,150.7h7.6M526.0,163.8h7.6M531.8,176.1h7.6M537.6,185.3h7.6M543.4,193.2h7.6M549.2,201.3h7.6M555.0,209.8h7.6M560.8,216.8h7.6M566.6,221.6h7.6M569.0,223.2h7.6M573.9,226.3h7.6M578.8,229.1h7.6M583.8,231.7h7.6M588.7,234.2h7.6M593.6,236.5h7.6M598.6,238.9h7.6M603.5,241.2h7.6" stroke="#21918c" stroke-width="1.7" fill="none"/>
<path d="M609.6,243.5h5.2M614.6,245.8h5.2M619.5,247.9h5.2M624.4,249.8h5.2M629.3,251.6h5.2M634.3,253.1h5.2M639.2,254.4h5.2M644.1,255.6h5.2M649.1,256.8h5.2M654.0,257.9h5.2M658.9,258.9h5.2M663.9,259.9h5.2M668.8,260.9h5.2M673.7,261.8h5.2M681.6,263.1h5.2M689.0,264.2h5.2M696.3,265.3h5.2M703.7,266.2h5.2M711.0,267.1h5.2M718.3,267.9h5.2M725.7,268.7h5.2M733.0,269.4h5.2M740.4,270.1h5.2M747.7,270.7h5.2M755.1,271.2h5.2M762.4,271.7h5.2M769.8,272.1h5.2M777.1,272.5h5.2M784.5,272.8h5.2M791.8,273.1h5.2M799.2,273.4h5.2M806.5,273.7h5.2M813.8,274.0h5.2M821.2,274.3h5.2M828.5,274.6h5.2" stroke="#21918c" stroke-width="1.5" fill="none"/>
<path d="M395.0,36.6a1.8,1.8 0 1,0 3.6,0a1.8,1.8 0 1,0 -3.6,0zM402.4,36.7a1.8,1.8 0 1,0 3.6,0a1.8,1.8 0 1,0 -3.6,0zM409.8,36.8a1.8,1.8 0 1,0 3.6,0a1.8,1.8 0 1,0 -3.6,0zM417.2,37.1a1.8,1.8 0 1,0 3.6,0a1.8,1.8 0 1,0 -3.6,0zM424.6,37.5a1.8,1.8 0 1,0 3.6,0a1.8,1.8 0 1,0 -3.6,0zM432.0,38.2a1.8,1.8 0 1,0 3.6,0a1.8,1.8 0 1,0 -3.6,0zM439.4,40.0a1.8,1.8 0 1,0 3.6,0a1.8,1.8 0 1,0 -3.6,0zM446.7,43.6a1.8,1.8 0 1,0 3.6,0a1.8,1.8 0 1,0 -3.6,0zM452.5,47.1a1.8,1.8 0 1,0 3.6,0a1.8,1.8 0 1,0 -3.6,0zM458.4,51.0a1.8,1.8 0 1,0 3.6,0a1.8,1.8 0 1,0 -3.6,0zM464.2,56.0a1.8,1.8 0 1,0 3.6,0a1.8,1.8 0 1,0 -3.6,0zM470.0,61.7a1.8,1.8 0 1,0 3.6,0a1.8,1.8 0 1,0 -3.6,0zM475.8,67.9a1.8,1.8 0 1,0 3.6,0a1.8,1.8 0 1,0 -3.6,0zM481.6,75.0a1.8,1.8 0 1,0 3.6,0a1.8,1.8 0 1,0 -3.6,0zM487.4,83.7a1.8,1.8 0 1,0 3.6,0a1.8,1.8 0 1,0 -3.6,0zM493.2,93.7a1.8,1.8 0 1,0 3.6,0a1.8,1.8 0 1,0 -3.6,0zM499.0,104.6a1.8,1.8 0 1,0 3.6,0a1.8,1.8 0 1,0 -3.6,0zM504.8,115.4a1.8,1.8 0 1,0 3.6,0a1.8,1.8 0 1,0 -3.6,0zM510.6,126.3a1.8,1.8 0 1,0 3.6,0a1.8,1.8 0 1,0 -3.6,0zM516.4,137.9a1.8,1.8 0 1,0 3.6,0a1.8,1.8 0 1,0 -3.6,0zM522.2,150.7a1.8,1.8 0 1,0 3.6,0a1.8,1.8 0 1,0 -3.6,0zM528.0,163.8a1.8,1.8 0 1,0 3.6,0a1.8,1.8 0 1,0 -3.6,0zM533.8,176.1a1.8,1.8 0 1,0 3.6,0a1.8,1.8 0 1,0 -3.6,0zM539.6,185.3a1.8,1.8 0 1,0 3.6,0a1.8,1.8 0 1,0 -3.6,0zM545.4,193.2a1.8,1.8 0 1,0 3.6,0a1.8,1.8 0 1,0 -3.6,0zM551.2,201.3a1.8,1.8 0 1,0 3.6,0a1.8,1.8 0 1,0 -3.6,0zM557.0,209.8a1.8,1.8 0 1,0 3.6,0a1.8,1.8 0 1,0 -3.6,0zM562.8,216.8a1.8,1.8 0 1,0 3.6,0a1.8,1.8 0 1,0 -3.6,0zM568.6,221.6a1.8,1.8 0 1,0 3.6,0a1.8,1.8 0 1,0 -3.6,0zM571.0,223.2a1.8,1.8 0 1,0 3.6,0a1.8,1.8 0 1,0 -3.6,0zM575.9,226.3a1.8,1.8 0 1,0 3.6,0a1.8,1.8 0 1,0 -3.6,0zM580.8,229.1a1.8,1.8 0 1,0 3.6,0a1.8,1.8 0 1,0 -3.6,0zM585.8,231.7a1.8,1.8 0 1,0 3.6,0a1.8,1.8 0 1,0 -3.6,0zM590.7,234.2a1.8,1.8 0 1,0 3.6,0a1.8,1.8 0 1,0 -3.6,0zM595.6,236.5a1.8,1.8 0 1,0 3.6,0a1.8,1.8 0 1,0 -3.6,0zM600.6,238.9a1.8,1.8 0 1,0 3.6,0a1.8,1.8 0 1,0 -3.6,0zM605.5,241.2a1.8,1.8 0 1,0 3.6,0a1.8,1.8 0 1,0 -3.6,0zM610.4,243.5a1.8,1.8 0 1,0 3.6,0a1.8,1.8 0 1,0 -3.6,0zM615.4,245.8a1.8,1.8 0 1,0 3.6,0a1.8,1.8 0 1,0 -3.6,0zM620.3,247.9a1.8,1.8 0 1,0 3.6,0a1.8,1.8 0 1,0 -3.6,0zM625.2,249.8a1.8,1.8 0 1,0 3.6,0a1.8,1.8 0 1,0 -3.6,0zM630.1,251.6a1.8,1.8 0 1,0 3.6,0a1.8,1.8 0 1,0 -3.6,0zM635.1,253.1a1.8,1.8 0 1,0 3.6,0a1.8,1.8 0 1,0 -3.6,0zM640.0,254.4a1.8,1.8 0 1,0 3.6,0a1.8,1.8 0 1,0 -3.6,0zM644.9,255.6a1.8,1.8 0 1,0 3.6,0a1.8,1.8 0 1,0 -3.6,0zM649.9,256.8a1.8,1.8 0 1,0 3.6,0a1.8,1.8 0 1,0 -3.6,0zM654.8,257.9a1.8,1.8 0 1,0 3.6,0a1.8,1.8 0 1,0 -3.6,0zM659.7,258.9a1.8,1.8 0 1,0 3.6,0a1.8,1.8 0 1,0 -3.6,0zM664.7,259.9a1.8,1.8 0 1,0 3.6,0a1.8,1.8 0 1,0 -3.6,0zM669.6,260.9a1.8,1.8 0 1,0 3.6,0a1.8,1.8 0 1,0 -3.6,0zM674.5,261.8a1.8,1.8 0 1,0 3.6,0a1.8,1.8 0 1,0 -3.6,0zM682.4,263.1a1.8,1.8 0 1,0 3.6,0a1.8,1.8 0 1,0 -3.6,0zM689.8,264.2a1.8,1.8 0 1,0 3.6,0a1.8,1.8 0 1,0 -3.6,0zM697.1,265.3a1.8,1.8 0 1,0 3.6,0a1.8,1.8 0 1,0 -3.6,0zM704.5,266.2a1.8,1.8 0 1,0 3.6,0a1.8,1.8 0 1,0 -3.6,0zM711.8,267.1a1.8,1.8 0 1,0 3.6,0a1.8,1.8 0 1,0 -3.6,0zM719.1,267.9a1.8,1.8 0 1,0 3.6,0a1.8,1.8 0 1,0 -3.6,0zM726.5,268.7a1.8,1.8 0 1,0 3.6,0a1.8,1.8 0 1,0 -3.6,0zM733.8,269.4a1.8,1.8 0 1,0 3.6,0a1.8,1.8 0 1,0 -3.6,0zM741.2,270.1a1.8,1.8 0 1,0 3.6,0a1.8,1.8 0 1,0 -3.6,0zM748.5,270.7a1.8,1.8 0 1,0 3.6,0a1.8,1.8 0 1,0 -3.6,0zM755.9,271.2a1.8,1.8 0 1,0 3.6,0a1.8,1.8 0 1,0 -3.6,0zM763.2,271.7a1.8,1.8 0 1,0 3.6,0a1.8,1.8 0 1,0 -3.6,0zM770.6,272.1a1.8,1.8 0 1,0 3.6,0a1.8,1.8 0 1,0 -3.6,0zM777.9,272.5a1.8,1.8 0 1,0 3.6,0a1.8,1.8 0 1,0 -3.6,0zM785.3,272.8a1.8,1.8 0 1,0 3.6,0a1.8,1.8 0 1,0 -3.6,0zM792.6,273.1a1.8,1.8 0 1,0 3.6,0a1.8,1.8 0 1,0 -3.6,0zM800.0,273.4a1.8,1.8 0 1,0 3.6,0a1.8,1.8 0 1,0 -3.6,0zM807.3,273.7a1.8,1.8 0 1,0 3.6,0a1.8,1.8 0 1,0 -3.6,0zM814.6,274.0a1.8,1.8 0 1,0 3.6,0a1.8,1.8 0 1,0 -3.6,0zM822.0,274.3a1.8,1.8 0 1,0 3.6,0a1.8,1.8 0 1,0 -3.6,0zM829.3,274.6a1.8,1.8 0 1,0 3.6,0a1.8,1.8 0 1,0 -3.6,0z" fill="#21918c"/>
<polyline points="397.1,36.6 404.5,36.6 411.9,36.6 419.3,36.8 426.7,37.0 434.1,37.4 441.5,38.0 448.9,39.6 456.3,43.2 462.1,46.9 467.9,50.9 473.7,56.0 479.5,62.0 485.3,68.5 491.1,76.1 496.9,85.4 502.7,96.0 508.5,107.5 514.3,118.8 520.1,130.4 525.9,143.1 531.7,156.8 537.5,170.9 543.3,182.3 549.1,191.5 554.9,200.0 560.7,209.2 566.5,217.4 572.8,223.4 577.7,227.0 582.6,230.0 587.6,232.7 592.5,235.2 597.4,237.7 602.4,240.0 607.3,242.3 612.2,244.7 617.2,246.9 622.1,249.1 627.0,251.1 631.9,252.9 636.9,254.5 641.8,255.8 646.7,257.0 651.7,258.2 656.6,259.3 661.5,260.3 666.5,261.3 671.4,262.3 676.3,263.1 684.2,264.4 691.6,265.5 698.9,266.6 706.3,267.5 713.6,268.3 720.9,269.1 728.3,269.9 735.6,270.6 743.0,271.2 750.3,271.7 757.7,272.2 765.0,272.6 772.4,273.0 779.7,273.4 787.1,273.7 794.4,274.0 801.8,274.3 809.1,274.5 816.4,274.8 823.8,275.1 831.1,275.3" fill="none" stroke="#287c8e" stroke-width="1.7" stroke-linejoin="round"/>
<path d="M393.3,36.6h7.6M400.7,36.6h7.6M408.1,36.6h7.6M415.5,36.8h7.6M422.9,37.0h7.6M430.3,37.4h7.6M437.7,38.0h7.6M445.1,39.6h7.6M452.5,43.2h7.6M458.3,46.9h7.6M464.1,50.9h7.6M469.9,56.0h7.6M475.7,62.0h7.6M481.5,68.5h7.6M487.3,76.1h7.6M493.1,85.4h7.6M498.9,96.0h7.6M504.7,107.5h7.6M510.5,118.8h7.6M516.3,130.4h7.6M522.1,143.1h7.6M527.9,156.8h7.6M533.7,170.9h7.6M539.5,182.3h7.6M545.3,191.5h7.6M551.1,200.0h7.6M556.9,209.2h7.6M562.7,217.4h7.6M569.0,223.4h7.6M573.9,227.0h7.6M578.8,230.0h7.6M583.8,232.7h7.6M588.7,235.2h7.6M593.6,237.7h7.6M598.6,240.0h7.6M603.5,242.3h7.6" stroke="#287c8e" stroke-width="1.7" fill="none"/>
<path d="M609.6,244.7h5.2M614.6,246.9h5.2M619.5,249.1h5.2M624.4,251.1h5.2M629.3,252.9h5.2M634.3,254.5h5.2M639.2,255.8h5.2M644.1,257.0h5.2M649.1,258.2h5.2M654.0,259.3h5.2M658.9,260.3h5.2M663.9,261.3h5.2M668.8,262.3h5.2M673.7,263.1h5.2M681.6,264.4h5.2M689.0,265.5h5.2M696.3,266.6h5.2M703.7,267.5h5.2M711.0,268.3h5.2M718.3,269.1h5.2M725.7,269.9h5.2M733.0,270.6h5.2M740.4,271.2h5.2M747.7,271.7h5.2M755.1,272.2h5.2M762.4,272.6h5.2M769.8,273.0h5.2M777.1,273.4h5.2M784.5,273.7h5.2M791.8,274.0h5.2M799.2,274.3h5.2M806.5,274.5h5.2M813.8,274.8h5.2M821.2,275.1h5.2M828.5,275.3h5.2" stroke="#287c8e" stroke-width="1.5" fill="none"/>
<path d="M395.3,36.6a1.8,1.8 0 1,0 3.6,0a1.8,1.8 0 1,0 -3.6,0zM402.7,36.6a1.8,1.8 0 1,0 3.6,0a1.8,1.8 0 1,0 -3.6,0zM410.1,36.6a1.8,1.8 0 1,0 3.6,0a1.8,1.8 0 1,0 -3.6,0zM417.5,36.8a1.8,1.8 0 1,0 3.6,0a1.8,1.8 0 1,0 -3.6,0zM424.9,37.0a1.8,1.8 0 1,0 3.6,0a1.8,1.8 0 1,0 -3.6,0zM432.3,37.4a1.8,1.8 0 1,0 3.6,0a1.8,1.8 0 1,0 -3.6,0zM439.7,38.0a1.8,1.8 0 1,0 3.6,0a1.8,1.8 0 1,0 -3.6,0zM447.1,39.6a1.8,1.8 0 1,0 3.6,0a1.8,1.8 0 1,0 -3.6,0zM454.5,43.2a1.8,1.8 0 1,0 3.6,0a1.8,1.8 0 1,0 -3.6,0zM460.3,46.9a1.8,1.8 0 1,0 3.6,0a1.8,1.8 0 1,0 -3.6,0zM466.1,50.9a1.8,1.8 0 1,0 3.6,0a1.8,1.8 0 1,0 -3.6,0zM471.9,56.0a1.8,1.8 0 1,0 3.6,0a1.8,1.8 0 1,0 -3.6,0zM477.7,62.0a1.8,1.8 0 1,0 3.6,0a1.8,1.8 0 1,0 -3.6,0zM483.5,68.5a1.8,1.8 0 1,0 3.6,0a1.8,1.8 0 1,0 -3.6,0zM489.3,76.1a1.8,1.8 0 1,0 3.6,0a1.8,1.8 0 1,0 -3.6,0zM495.1,85.4a1.8,1.8 0 1,0 3.6,0a1.8,1.8 0 1,0 -3.6,0zM500.9,96.0a1.8,1.8 0 1,0 3.6,0a1.8,1.8 0 1,0 -3.6,0zM506.7,107.5a1.8,1.8 0 1,0 3.6,0a1.8,1.8 0 1,0 -3.6,0zM512.5,118.8a1.8,1.8 0 1,0 3.6,0a1.8,1.8 0 1,0 -3.6,0zM518.3,130.4a1.8,1.8 0 1,0 3.6,0a1.8,1.8 0 1,0 -3.6,0zM524.1,143.1a1.8,1.8 0 1,0 3.6,0a1.8,1.8 0 1,0 -3.6,0zM529.9,156.8a1.8,1.8 0 1,0 3.6,0a1.8,1.8 0 1,0 -3.6,0zM535.7,170.9a1.8,1.8 0 1,0 3.6,0a1.8,1.8 0 1,0 -3.6,0zM541.5,182.3a1.8,1.8 0 1,0 3.6,0a1.8,1.8 0 1,0 -3.6,0zM547.3,191.5a1.8,1.8 0 1,0 3.6,0a1.8,1.8 0 1,0 -3.6,0zM553.1,200.0a1.8,1.8 0 1,0 3.6,0a1.8,1.8 0 1,0 -3.6,0zM558.9,209.2a1.8,1.8 0 1,0 3.6,0a1.8,1.8 0 1,0 -3.6,0zM564.7,217.4a1.8,1.8 0 1,0 3.6,0a1.8,1.8 0 1,0 -3.6,0zM571.0,223.4a1.8,1.8 0 1,0 3.6,0a1.8,1.8 0 1,0 -3.6,0zM575.9,227.0a1.8,1.8 0 1,0 3.6,0a1.8,1.8 0 1,0 -3.6,0zM580.8,230.0a1.8,1.8 0 1,0 3.6,0a1.8,1.8 0 1,0 -3.6,0zM585.8,232.7a1.8,1.8 0 1,0 3.6,0a1.8,1.8 0 1,0 -3.6,0zM590.7,235.2a1.8,1.8 0 1,0 3.6,0a1.8,1.8 0 1,0 -3.6,0zM595.6,237.7a1.8,1.8 0 1,0 3.6,0a1.8,1.8 0 1,0 -3.6,0zM600.6,240.0a1.8,1.8 0 1,0 3.6,0a1.8,1.8 0 1,0 -3.6,0zM605.5,242.3a1.8,1.8 0 1,0 3.6,0a1.8,1.8 0 1,0 -3.6,0zM610.4,244.7a1.8,1.8 0 1,0 3.6,0a1.8,1.8 0 1,0 -3.6,0zM615.4,246.9a1.8,1.8 0 1,0 3.6,0a1.8,1.8 0 1,0 -3.6,0zM620.3,249.1a1.8,1.8 0 1,0 3.6,0a1.8,1.8 0 1,0 -3.6,0zM625.2,251.1a1.8,1.8 0 1,0 3.6,0a1.8,1.8 0 1,0 -3.6,0zM630.1,252.9a1.8,1.8 0 1,0 3.6,0a1.8,1.8 0 1,0 -3.6,0zM635.1,254.5a1.8,1.8 0 1,0 3.6,0a1.8,1.8 0 1,0 -3.6,0zM640.0,255.8a1.8,1.8 0 1,0 3.6,0a1.8,1.8 0 1,0 -3.6,0zM644.9,257.0a1.8,1.8 0 1,0 3.6,0a1.8,1.8 0 1,0 -3.6,0zM649.9,258.2a1.8,1.8 0 1,0 3.6,0a1.8,1.8 0 1,0 -3.6,0zM654.8,259.3a1.8,1.8 0 1,0 3.6,0a1.8,1.8 0 1,0 -3.6,0zM659.7,260.3a1.8,1.8 0 1,0 3.6,0a1.8,1.8 0 1,0 -3.6,0zM664.7,261.3a1.8,1.8 0 1,0 3.6,0a1.8,1.8 0 1,0 -3.6,0zM669.6,262.3a1.8,1.8 0 1,0 3.6,0a1.8,1.8 0 1,0 -3.6,0zM674.5,263.1a1.8,1.8 0 1,0 3.6,0a1.8,1.8 0 1,0 -3.6,0zM682.4,264.4a1.8,1.8 0 1,0 3.6,0a1.8,1.8 0 1,0 -3.6,0zM689.8,265.5a1.8,1.8 0 1,0 3.6,0a1.8,1.8 0 1,0 -3.6,0zM697.1,266.6a1.8,1.8 0 1,0 3.6,0a1.8,1.8 0 1,0 -3.6,0zM704.5,267.5a1.8,1.8 0 1,0 3.6,0a1.8,1.8 0 1,0 -3.6,0zM711.8,268.3a1.8,1.8 0 1,0 3.6,0a1.8,1.8 0 1,0 -3.6,0zM719.1,269.1a1.8,1.8 0 1,0 3.6,0a1.8,1.8 0 1,0 -3.6,0zM726.5,269.9a1.8,1.8 0 1,0 3.6,0a1.8,1.8 0 1,0 -3.6,0zM733.8,270.6a1.8,1.8 0 1,0 3.6,0a1.8,1.8 0 1,0 -3.6,0zM741.2,271.2a1.8,1.8 0 1,0 3.6,0a1.8,1.8 0 1,0 -3.6,0zM748.5,271.7a1.8,1.8 0 1,0 3.6,0a1.8,1.8 0 1,0 -3.6,0zM755.9,272.2a1.8,1.8 0 1,0 3.6,0a1.8,1.8 0 1,0 -3.6,0zM763.2,272.6a1.8,1.8 0 1,0 3.6,0a1.8,1.8 0 1,0 -3.6,0zM770.6,273.0a1.8,1.8 0 1,0 3.6,0a1.8,1.8 0 1,0 -3.6,0zM777.9,273.4a1.8,1.8 0 1,0 3.6,0a1.8,1.8 0 1,0 -3.6,0zM785.3,273.7a1.8,1.8 0 1,0 3.6,0a1.8,1.8 0 1,0 -3.6,0zM792.6,274.0a1.8,1.8 0 1,0 3.6,0a1.8,1.8 0 1,0 -3.6,0zM800.0,274.3a1.8,1.8 0 1,0 3.6,0a1.8,1.8 0 1,0 -3.6,0zM807.3,274.5a1.8,1.8 0 1,0 3.6,0a1.8,1.8 0 1,0 -3.6,0zM814.6,274.8a1.8,1.8 0 1,0 3.6,0a1.8,1.8 0 1,0 -3.6,0zM822.0,275.1a1.8,1.8 0 1,0 3.6,0a1.8,1.8 0 1,0 -3.6,0zM829.3,275.3a1.8,1.8 0 1,0 3.6,0a1.8,1.8 0 1,0 -3.6,0z" fill="#287c8e"/>
<polyline points="397.2,36.6 404.6,36.6 412.0,36.6 419.4,36.6 426.7,36.7 434.1,37.0 441.5,37.3 448.9,37.9 456.3,39.3 463.7,42.8 469.5,46.6 475.3,50.7 481.1,56.1 486.9,62.3 492.7,69.1 498.5,77.2 504.3,87.2 510.1,98.6 515.9,110.6 521.7,122.4 527.5,134.9 533.3,148.8 539.2,163.4 545.0,177.7 550.8,188.5 556.6,197.8 562.4,207.4 568.2,216.9 572.8,222.7 577.7,227.2 582.6,230.6 587.6,233.6 592.5,236.2 597.4,238.7 602.4,241.1 607.3,243.5 612.2,245.8 617.2,248.1 622.1,250.3 627.0,252.4 631.9,254.3 636.9,255.9 641.8,257.2 646.7,258.5 651.7,259.6 656.6,260.7 661.5,261.8 666.5,262.7 671.4,263.7 676.3,264.5 684.2,265.8 691.6,266.9 698.9,267.9 706.3,268.8 713.6,269.6 720.9,270.4 728.3,271.1 735.6,271.7 743.0,272.3 750.3,272.8 757.7,273.2 765.0,273.6 772.4,274.0 779.7,274.3 787.1,274.6 794.4,274.8 801.8,275.1 809.1,275.4 816.4,275.6 823.8,275.8 831.1,276.1" fill="none" stroke="#31688e" stroke-width="1.7" stroke-linejoin="round"/>
<path d="M393.4,36.6h7.6M400.8,36.6h7.6M408.2,36.6h7.6M415.6,36.6h7.6M422.9,36.7h7.6M430.3,37.0h7.6M437.7,37.3h7.6M445.1,37.9h7.6M452.5,39.3h7.6M459.9,42.8h7.6M465.7,46.6h7.6M471.5,50.7h7.6M477.3,56.1h7.6M483.1,62.3h7.6M488.9,69.1h7.6M494.7,77.2h7.6M500.5,87.2h7.6M506.3,98.6h7.6M512.1,110.6h7.6M517.9,122.4h7.6M523.7,134.9h7.6M529.5,148.8h7.6M535.4,163.4h7.6M541.2,177.7h7.6M547.0,188.5h7.6M552.8,197.8h7.6M558.6,207.4h7.6M564.4,216.9h7.6M569.0,222.7h7.6M573.9,227.2h7.6M578.8,230.6h7.6M583.8,233.6h7.6M588.7,236.2h7.6M593.6,238.7h7.6M598.6,241.1h7.6M603.5,243.5h7.6" stroke="#31688e" stroke-width="1.7" fill="none"/>
<path d="M609.6,245.8h5.2M614.6,248.1h5.2M619.5,250.3h5.2M624.4,252.4h5.2M629.3,254.3h5.2M634.3,255.9h5.2M639.2,257.2h5.2M644.1,258.5h5.2M649.1,259.6h5.2M654.0,260.7h5.2M658.9,261.8h5.2M663.9,262.7h5.2M668.8,263.7h5.2M673.7,264.5h5.2M681.6,265.8h5.2M689.0,266.9h5.2M696.3,267.9h5.2M703.7,268.8h5.2M711.0,269.6h5.2M718.3,270.4h5.2M725.7,271.1h5.2M733.0,271.7h5.2M740.4,272.3h5.2M747.7,272.8h5.2M755.1,273.2h5.2M762.4,273.6h5.2M769.8,274.0h5.2M777.1,274.3h5.2M784.5,274.6h5.2M791.8,274.8h5.2M799.2,275.1h5.2M806.5,275.4h5.2M813.8,275.6h5.2M821.2,275.8h5.2M828.5,276.1h5.2" stroke="#31688e" stroke-width="1.5" fill="none"/>
<path d="M395.4,36.6a1.8,1.8 0 1,0 3.6,0a1.8,1.8 0 1,0 -3.6,0zM402.8,36.6a1.8,1.8 0 1,0 3.6,0a1.8,1.8 0 1,0 -3.6,0zM410.2,36.6a1.8,1.8 0 1,0 3.6,0a1.8,1.8 0 1,0 -3.6,0zM417.6,36.6a1.8,1.8 0 1,0 3.6,0a1.8,1.8 0 1,0 -3.6,0zM424.9,36.7a1.8,1.8 0 1,0 3.6,0a1.8,1.8 0 1,0 -3.6,0zM432.3,37.0a1.8,1.8 0 1,0 3.6,0a1.8,1.8 0 1,0 -3.6,0zM439.7,37.3a1.8,1.8 0 1,0 3.6,0a1.8,1.8 0 1,0 -3.6,0zM447.1,37.9a1.8,1.8 0 1,0 3.6,0a1.8,1.8 0 1,0 -3.6,0zM454.5,39.3a1.8,1.8 0 1,0 3.6,0a1.8,1.8 0 1,0 -3.6,0zM461.9,42.8a1.8,1.8 0 1,0 3.6,0a1.8,1.8 0 1,0 -3.6,0zM467.7,46.6a1.8,1.8 0 1,0 3.6,0a1.8,1.8 0 1,0 -3.6,0zM473.5,50.7a1.8,1.8 0 1,0 3.6,0a1.8,1.8 0 1,0 -3.6,0zM479.3,56.1a1.8,1.8 0 1,0 3.6,0a1.8,1.8 0 1,0 -3.6,0zM485.1,62.3a1.8,1.8 0 1,0 3.6,0a1.8,1.8 0 1,0 -3.6,0zM490.9,69.1a1.8,1.8 0 1,0 3.6,0a1.8,1.8 0 1,0 -3.6,0zM496.7,77.2a1.8,1.8 0 1,0 3.6,0a1.8,1.8 0 1,0 -3.6,0zM502.5,87.2a1.8,1.8 0 1,0 3.6,0a1.8,1.8 0 1,0 -3.6,0zM508.3,98.6a1.8,1.8 0 1,0 3.6,0a1.8,1.8 0 1,0 -3.6,0zM514.1,110.6a1.8,1.8 0 1,0 3.6,0a1.8,1.8 0 1,0 -3.6,0zM519.9,122.4a1.8,1.8 0 1,0 3.6,0a1.8,1.8 0 1,0 -3.6,0zM525.7,134.9a1.8,1.8 0 1,0 3.6,0a1.8,1.8 0 1,0 -3.6,0zM531.5,148.8a1.8,1.8 0 1,0 3.6,0a1.8,1.8 0 1,0 -3.6,0zM537.4,163.4a1.8,1.8 0 1,0 3.6,0a1.8,1.8 0 1,0 -3.6,0zM543.2,177.7a1.8,1.8 0 1,0 3.6,0a1.8,1.8 0 1,0 -3.6,0zM549.0,188.5a1.8,1.8 0 1,0 3.6,0a1.8,1.8 0 1,0 -3.6,0zM554.8,197.8a1.8,1.8 0 1,0 3.6,0a1.8,1.8 0 1,0 -3.6,0zM560.6,207.4a1.8,1.8 0 1,0 3.6,0a1.8,1.8 0 1,0 -3.6,0zM566.4,216.9a1.8,1.8 0 1,0 3.6,0a1.8,1.8 0 1,0 -3.6,0zM571.0,222.7a1.8,1.8 0 1,0 3.6,0a1.8,1.8 0 1,0 -3.6,0zM575.9,227.2a1.8,1.8 0 1,0 3.6,0a1.8,1.8 0 1,0 -3.6,0zM580.8,230.6a1.8,1.8 0 1,0 3.6,0a1.8,1.8 0 1,0 -3.6,0zM585.8,233.6a1.8,1.8 0 1,0 3.6,0a1.8,1.8 0 1,0 -3.6,0zM590.7,236.2a1.8,1.8 0 1,0 3.6,0a1.8,1.8 0 1,0 -3.6,0zM595.6,238.7a1.8,1.8 0 1,0 3.6,0a1.8,1.8 0 1,0 -3.6,0zM600.6,241.1a1.8,1.8 0 1,0 3.6,0a1.8,1.8 0 1,0 -3.6,0zM605.5,243.5a1.8,1.8 0 1,0 3.6,0a1.8,1.8 0 1,0 -3.6,0zM610.4,245.8a1.8,1.8 0 1,0 3.6,0a1.8,1.8 0 1,0 -3.6,0zM615.4,248.1a1.8,1.8 0 1,0 3.6,0a1.8,1.8 0 1,0 -3.6,0zM620.3,250.3a1.8,1.8 0 1,0 3.6,0a1.8,1.8 0 1,0 -3.6,0zM625.2,252.4a1.8,1.8 0 1,0 3.6,0a1.8,1.8 0 1,0 -3.6,0zM630.1,254.3a1.8,1.8 0 1,0 3.6,0a1.8,1.8 0 1,0 -3.6,0zM635.1,255.9a1.8,1.8 0 1,0 3.6,0a1.8,1.8 0 1,0 -3.6,0zM640.0,257.2a1.8,1.8 0 1,0 3.6,0a1.8,1.8 0 1,0 -3.6,0zM644.9,258.5a1.8,1.8 0 1,0 3.6,0a1.8,1.8 0 1,0 -3.6,0zM649.9,259.6a1.8,1.8 0 1,0 3.6,0a1.8,1.8 0 1,0 -3.6,0zM654.8,260.7a1.8,1.8 0 1,0 3.6,0a1.8,1.8 0 1,0 -3.6,0zM659.7,261.8a1.8,1.8 0 1,0 3.6,0a1.8,1.8 0 1,0 -3.6,0zM664.7,262.7a1.8,1.8 0 1,0 3.6,0a1.8,1.8 0 1,0 -3.6,0zM669.6,263.7a1.8,1.8 0 1,0 3.6,0a1.8,1.8 0 1,0 -3.6,0zM674.5,264.5a1.8,1.8 0 1,0 3.6,0a1.8,1.8 0 1,0 -3.6,0zM682.4,265.8a1.8,1.8 0 1,0 3.6,0a1.8,1.8 0 1,0 -3.6,0zM689.8,266.9a1.8,1.8 0 1,0 3.6,0a1.8,1.8 0 1,0 -3.6,0zM697.1,267.9a1.8,1.8 0 1,0 3.6,0a1.8,1.8 0 1,0 -3.6,0zM704.5,268.8a1.8,1.8 0 1,0 3.6,0a1.8,1.8 0 1,0 -3.6,0zM711.8,269.6a1.8,1.8 0 1,0 3.6,0a1.8,1.8 0 1,0 -3.6,0zM719.1,270.4a1.8,1.8 0 1,0 3.6,0a1.8,1.8 0 1,0 -3.6,0zM726.5,271.1a1.8,1.8 0 1,0 3.6,0a1.8,1.8 0 1,0 -3.6,0zM733.8,271.7a1.8,1.8 0 1,0 3.6,0a1.8,1.8 0 1,0 -3.6,0zM741.2,272.3a1.8,1.8 0 1,0 3.6,0a1.8,1.8 0 1,0 -3.6,0zM748.5,272.8a1.8,1.8 0 1,0 3.6,0a1.8,1.8 0 1,0 -3.6,0zM755.9,273.2a1.8,1.8 0 1,0 3.6,0a1.8,1.8 0 1,0 -3.6,0zM763.2,273.6a1.8,1.8 0 1,0 3.6,0a1.8,1.8 0 1,0 -3.6,0zM770.6,274.0a1.8,1.8 0 1,0 3.6,0a1.8,1.8 0 1,0 -3.6,0zM777.9,274.3a1.8,1.8 0 1,0 3.6,0a1.8,1.8 0 1,0 -3.6,0zM785.3,274.6a1.8,1.8 0 1,0 3.6,0a1.8,1.8 0 1,0 -3.6,0zM792.6,274.8a1.8,1.8 0 1,0 3.6,0a1.8,1.8 0 1,0 -3.6,0zM800.0,275.1a1.8,1.8 0 1,0 3.6,0a1.8,1.8 0 1,0 -3.6,0zM807.3,275.4a1.8,1.8 0 1,0 3.6,0a1.8,1.8 0 1,0 -3.6,0zM814.6,275.6a1.8,1.8 0 1,0 3.6,0a1.8,1.8 0 1,0 -3.6,0zM822.0,275.8a1.8,1.8 0 1,0 3.6,0a1.8,1.8 0 1,0 -3.6,0zM829.3,276.1a1.8,1.8 0 1,0 3.6,0a1.8,1.8 0 1,0 -3.6,0z" fill="#31688e"/>
<polyline points="396.9,36.6 404.3,36.6 411.7,36.6 419.1,36.6 426.5,36.6 433.8,36.7 441.2,36.9 448.6,37.2 456.0,37.7 463.4,38.9 470.8,42.4 476.6,46.3 482.4,50.6 488.2,56.1 494.0,62.7 499.8,69.9 505.6,78.5 511.4,89.3 517.2,101.4 523.0,113.9 528.8,126.4 534.6,139.9 540.4,155.0 546.3,170.8 552.1,184.0 557.9,194.6 563.7,204.6 569.5,215.1 572.8,220.4 577.7,226.4 582.6,230.7 587.6,234.1 592.5,237.1 597.4,239.7 602.4,242.2 607.3,244.6 612.2,246.9 617.2,249.3 622.1,251.5 627.0,253.7 631.9,255.6 636.9,257.3 641.8,258.7 646.7,259.9 651.7,261.1 656.6,262.2 661.5,263.2 666.5,264.2 671.4,265.1 676.3,265.9 684.2,267.2 691.6,268.2 698.9,269.2 706.3,270.0 713.6,270.8 720.9,271.6 728.3,272.2 735.6,272.8 743.0,273.4 750.3,273.8 757.7,274.2 765.0,274.6 772.4,274.9 779.7,275.2 787.1,275.4 794.4,275.7 801.8,275.9 809.1,276.2 816.4,276.4 823.8,276.6 831.1,276.8" fill="none" stroke="#3b528b" stroke-width="1.7" stroke-linejoin="round"/>
<path d="M393.1,36.6h7.6M400.5,36.6h7.6M407.9,36.6h7.6M415.3,36.6h7.6M422.7,36.6h7.6M430.0,36.7h7.6M437.4,36.9h7.6M444.8,37.2h7.6M452.2,37.7h7.6M459.6,38.9h7.6M467.0,42.4h7.6M472.8,46.3h7.6M478.6,50.6h7.6M484.4,56.1h7.6M490.2,62.7h7.6M496.0,69.9h7.6M501.8,78.5h7.6M507.6,89.3h7.6M513.4,101.4h7.6M519.2,113.9h7.6M525.0,126.4h7.6M530.8,139.9h7.6M536.6,155.0h7.6M542.5,170.8h7.6M548.3,184.0h7.6M554.1,194.6h7.6M559.9,204.6h7.6M565.7,215.1h7.6M569.0,220.4h7.6M573.9,226.4h7.6M578.8,230.7h7.6M583.8,234.1h7.6M588.7,237.1h7.6M593.6,239.7h7.6M598.6,242.2h7.6M603.5,244.6h7.6" stroke="#3b528b" stroke-width="1.7" fill="none"/>
<path d="M609.6,246.9h5.2M614.6,249.3h5.2M619.5,251.5h5.2M624.4,253.7h5.2M629.3,255.6h5.2M634.3,257.3h5.2M639.2,258.7h5.2M644.1,259.9h5.2M649.1,261.1h5.2M654.0,262.2h5.2M658.9,263.2h5.2M663.9,264.2h5.2M668.8,265.1h5.2M673.7,265.9h5.2M681.6,267.2h5.2M689.0,268.2h5.2M696.3,269.2h5.2M703.7,270.0h5.2M711.0,270.8h5.2M718.3,271.6h5.2M725.7,272.2h5.2M733.0,272.8h5.2M740.4,273.4h5.2M747.7,273.8h5.2M755.1,274.2h5.2M762.4,274.6h5.2M769.8,274.9h5.2M777.1,275.2h5.2M784.5,275.4h5.2M791.8,275.7h5.2M799.2,275.9h5.2M806.5,276.2h5.2M813.8,276.4h5.2M821.2,276.6h5.2M828.5,276.8h5.2" stroke="#3b528b" stroke-width="1.5" fill="none"/>
<path d="M395.1,36.6a1.8,1.8 0 1,0 3.6,0a1.8,1.8 0 1,0 -3.6,0zM402.5,36.6a1.8,1.8 0 1,0 3.6,0a1.8,1.8 0 1,0 -3.6,0zM409.9,36.6a1.8,1.8 0 1,0 3.6,0a1.8,1.8 0 1,0 -3.6,0zM417.3,36.6a1.8,1.8 0 1,0 3.6,0a1.8,1.8 0 1,0 -3.6,0zM424.7,36.6a1.8,1.8 0 1,0 3.6,0a1.8,1.8 0 1,0 -3.6,0zM432.0,36.7a1.8,1.8 0 1,0 3.6,0a1.8,1.8 0 1,0 -3.6,0zM439.4,36.9a1.8,1.8 0 1,0 3.6,0a1.8,1.8 0 1,0 -3.6,0zM446.8,37.2a1.8,1.8 0 1,0 3.6,0a1.8,1.8 0 1,0 -3.6,0zM454.2,37.7a1.8,1.8 0 1,0 3.6,0a1.8,1.8 0 1,0 -3.6,0zM461.6,38.9a1.8,1.8 0 1,0 3.6,0a1.8,1.8 0 1,0 -3.6,0zM469.0,42.4a1.8,1.8 0 1,0 3.6,0a1.8,1.8 0 1,0 -3.6,0zM474.8,46.3a1.8,1.8 0 1,0 3.6,0a1.8,1.8 0 1,0 -3.6,0zM480.6,50.6a1.8,1.8 0 1,0 3.6,0a1.8,1.8 0 1,0 -3.6,0zM486.4,56.1a1.8,1.8 0 1,0 3.6,0a1.8,1.8 0 1,0 -3.6,0zM492.2,62.7a1.8,1.8 0 1,0 3.6,0a1.8,1.8 0 1,0 -3.6,0zM498.0,69.9a1.8,1.8 0 1,0 3.6,0a1.8,1.8 0 1,0 -3.6,0zM503.8,78.5a1.8,1.8 0 1,0 3.6,0a1.8,1.8 0 1,0 -3.6,0zM509.6,89.3a1.8,1.8 0 1,0 3.6,0a1.8,1.8 0 1,0 -3.6,0zM515.4,101.4a1.8,1.8 0 1,0 3.6,0a1.8,1.8 0 1,0 -3.6,0zM521.2,113.9a1.8,1.8 0 1,0 3.6,0a1.8,1.8 0 1,0 -3.6,0zM527.0,126.4a1.8,1.8 0 1,0 3.6,0a1.8,1.8 0 1,0 -3.6,0zM532.8,139.9a1.8,1.8 0 1,0 3.6,0a1.8,1.8 0 1,0 -3.6,0zM538.6,155.0a1.8,1.8 0 1,0 3.6,0a1.8,1.8 0 1,0 -3.6,0zM544.5,170.8a1.8,1.8 0 1,0 3.6,0a1.8,1.8 0 1,0 -3.6,0zM550.3,184.0a1.8,1.8 0 1,0 3.6,0a1.8,1.8 0 1,0 -3.6,0zM556.1,194.6a1.8,1.8 0 1,0 3.6,0a1.8,1.8 0 1,0 -3.6,0zM561.9,204.6a1.8,1.8 0 1,0 3.6,0a1.8,1.8 0 1,0 -3.6,0zM567.7,215.1a1.8,1.8 0 1,0 3.6,0a1.8,1.8 0 1,0 -3.6,0zM571.0,220.4a1.8,1.8 0 1,0 3.6,0a1.8,1.8 0 1,0 -3.6,0zM575.9,226.4a1.8,1.8 0 1,0 3.6,0a1.8,1.8 0 1,0 -3.6,0zM580.8,230.7a1.8,1.8 0 1,0 3.6,0a1.8,1.8 0 1,0 -3.6,0zM585.8,234.1a1.8,1.8 0 1,0 3.6,0a1.8,1.8 0 1,0 -3.6,0zM590.7,237.1a1.8,1.8 0 1,0 3.6,0a1.8,1.8 0 1,0 -3.6,0zM595.6,239.7a1.8,1.8 0 1,0 3.6,0a1.8,1.8 0 1,0 -3.6,0zM600.6,242.2a1.8,1.8 0 1,0 3.6,0a1.8,1.8 0 1,0 -3.6,0zM605.5,244.6a1.8,1.8 0 1,0 3.6,0a1.8,1.8 0 1,0 -3.6,0zM610.4,246.9a1.8,1.8 0 1,0 3.6,0a1.8,1.8 0 1,0 -3.6,0zM615.4,249.3a1.8,1.8 0 1,0 3.6,0a1.8,1.8 0 1,0 -3.6,0zM620.3,251.5a1.8,1.8 0 1,0 3.6,0a1.8,1.8 0 1,0 -3.6,0zM625.2,253.7a1.8,1.8 0 1,0 3.6,0a1.8,1.8 0 1,0 -3.6,0zM630.1,255.6a1.8,1.8 0 1,0 3.6,0a1.8,1.8 0 1,0 -3.6,0zM635.1,257.3a1.8,1.8 0 1,0 3.6,0a1.8,1.8 0 1,0 -3.6,0zM640.0,258.7a1.8,1.8 0 1,0 3.6,0a1.8,1.8 0 1,0 -3.6,0zM644.9,259.9a1.8,1.8 0 1,0 3.6,0a1.8,1.8 0 1,0 -3.6,0zM649.9,261.1a1.8,1.8 0 1,0 3.6,0a1.8,1.8 0 1,0 -3.6,0zM654.8,262.2a1.8,1.8 0 1,0 3.6,0a1.8,1.8 0 1,0 -3.6,0zM659.7,263.2a1.8,1.8 0 1,0 3.6,0a1.8,1.8 0 1,0 -3.6,0zM664.7,264.2a1.8,1.8 0 1,0 3.6,0a1.8,1.8 0 1,0 -3.6,0zM669.6,265.1a1.8,1.8 0 1,0 3.6,0a1.8,1.8 0 1,0 -3.6,0zM674.5,265.9a1.8,1.8 0 1,0 3.6,0a1.8,1.8 0 1,0 -3.6,0zM682.4,267.2a1.8,1.8 0 1,0 3.6,0a1.8,1.8 0 1,0 -3.6,0zM689.8,268.2a1.8,1.8 0 1,0 3.6,0a1.8,1.8 0 1,0 -3.6,0zM697.1,269.2a1.8,1.8 0 1,0 3.6,0a1.8,1.8 0 1,0 -3.6,0zM704.5,270.0a1.8,1.8 0 1,0 3.6,0a1.8,1.8 0 1,0 -3.6,0zM711.8,270.8a1.8,1.8 0 1,0 3.6,0a1.8,1.8 0 1,0 -3.6,0zM719.1,271.6a1.8,1.8 0 1,0 3.6,0a1.8,1.8 0 1,0 -3.6,0zM726.5,272.2a1.8,1.8 0 1,0 3.6,0a1.8,1.8 0 1,0 -3.6,0zM733.8,272.8a1.8,1.8 0 1,0 3.6,0a1.8,1.8 0 1,0 -3.6,0zM741.2,273.4a1.8,1.8 0 1,0 3.6,0a1.8,1.8 0 1,0 -3.6,0zM748.5,273.8a1.8,1.8 0 1,0 3.6,0a1.8,1.8 0 1,0 -3.6,0zM755.9,274.2a1.8,1.8 0 1,0 3.6,0a1.8,1.8 0 1,0 -3.6,0zM763.2,274.6a1.8,1.8 0 1,0 3.6,0a1.8,1.8 0 1,0 -3.6,0zM770.6,274.9a1.8,1.8 0 1,0 3.6,0a1.8,1.8 0 1,0 -3.6,0zM777.9,275.2a1.8,1.8 0 1,0 3.6,0a1.8,1.8 0 1,0 -3.6,0zM785.3,275.4a1.8,1.8 0 1,0 3.6,0a1.8,1.8 0 1,0 -3.6,0zM792.6,275.7a1.8,1.8 0 1,0 3.6,0a1.8,1.8 0 1,0 -3.6,0zM800.0,275.9a1.8,1.8 0 1,0 3.6,0a1.8,1.8 0 1,0 -3.6,0zM807.3,276.2a1.8,1.8 0 1,0 3.6,0a1.8,1.8 0 1,0 -3.6,0zM814.6,276.4a1.8,1.8 0 1,0 3.6,0a1.8,1.8 0 1,0 -3.6,0zM822.0,276.6a1.8,1.8 0 1,0 3.6,0a1.8,1.8 0 1,0 -3.6,0zM829.3,276.8a1.8,1.8 0 1,0 3.6,0a1.8,1.8 0 1,0 -3.6,0z" fill="#3b528b"/>
<polyline points="396.3,36.6 403.7,36.6 411.1,36.6 418.4,36.6 425.8,36.6 433.2,36.6 440.6,36.6 448.0,36.8 455.4,37.1 462.8,37.6 470.2,38.6 477.6,42.0 483.4,46.0 489.2,50.4 495.0,56.2 500.8,63.1 506.6,70.7 512.4,80.0 518.2,91.5 524.0,104.4 529.8,117.5 535.6,130.8 541.4,145.7 547.2,161.7 553.0,178.0 558.8,190.2 564.6,200.9 570.4,212.0 572.8,216.4 577.7,224.5 582.6,230.1 587.6,234.2 592.5,237.5 597.4,240.4 602.4,243.1 607.3,245.6 612.2,248.0 617.2,250.4 622.1,252.8 627.0,255.0 631.9,257.0 636.9,258.7 641.8,260.1 646.7,261.3 651.7,262.5 656.6,263.6 661.5,264.6 666.5,265.6 671.4,266.5 676.3,267.3 684.2,268.5 691.6,269.6 698.9,270.5 706.3,271.3 713.6,272.1 720.9,272.8 728.3,273.4 735.6,274.0 743.0,274.4 750.3,274.8 757.7,275.2 765.0,275.5 772.4,275.8 779.7,276.0 787.1,276.3 794.4,276.5 801.8,276.7 809.1,277.0 816.4,277.2 823.8,277.4 831.1,277.6" fill="none" stroke="#443983" stroke-width="1.7" stroke-linejoin="round"/>
<path d="M392.5,36.6h7.6M399.9,36.6h7.6M407.3,36.6h7.6M414.6,36.6h7.6M422.0,36.6h7.6M429.4,36.6h7.6M436.8,36.6h7.6M444.2,36.8h7.6M451.6,37.1h7.6M459.0,37.6h7.6M466.4,38.6h7.6M473.8,42.0h7.6M479.6,46.0h7.6M485.4,50.4h7.6M491.2,56.2h7.6M497.0,63.1h7.6M502.8,70.7h7.6M508.6,80.0h7.6M514.4,91.5h7.6M520.2,104.4h7.6M526.0,117.5h7.6M531.8,130.8h7.6M537.6,145.7h7.6M543.4,161.7h7.6M549.2,178.0h7.6M555.0,190.2h7.6M560.8,200.9h7.6M566.6,212.0h7.6M569.0,216.4h7.6M573.9,224.5h7.6M578.8,230.1h7.6M583.8,234.2h7.6M588.7,237.5h7.6M593.6,240.4h7.6M598.6,243.1h7.6M603.5,245.6h7.6" stroke="#443983" stroke-width="1.7" fill="none"/>
<path d="M609.6,248.0h5.2M614.6,250.4h5.2M619.5,252.8h5.2M624.4,255.0h5.2M629.3,257.0h5.2M634.3,258.7h5.2M639.2,260.1h5.2M644.1,261.3h5.2M649.1,262.5h5.2M654.0,263.6h5.2M658.9,264.6h5.2M663.9,265.6h5.2M668.8,266.5h5.2M673.7,267.3h5.2M681.6,268.5h5.2M689.0,269.6h5.2M696.3,270.5h5.2M703.7,271.3h5.2M711.0,272.1h5.2M718.3,272.8h5.2M725.7,273.4h5.2M733.0,274.0h5.2M740.4,274.4h5.2M747.7,274.8h5.2M755.1,275.2h5.2M762.4,275.5h5.2M769.8,275.8h5.2M777.1,276.0h5.2M784.5,276.3h5.2M791.8,276.5h5.2M799.2,276.7h5.2M806.5,277.0h5.2M813.8,277.2h5.2M821.2,277.4h5.2M828.5,277.6h5.2" stroke="#443983" stroke-width="1.5" fill="none"/>
<path d="M394.5,36.6a1.8,1.8 0 1,0 3.6,0a1.8,1.8 0 1,0 -3.6,0zM401.9,36.6a1.8,1.8 0 1,0 3.6,0a1.8,1.8 0 1,0 -3.6,0zM409.3,36.6a1.8,1.8 0 1,0 3.6,0a1.8,1.8 0 1,0 -3.6,0zM416.6,36.6a1.8,1.8 0 1,0 3.6,0a1.8,1.8 0 1,0 -3.6,0zM424.0,36.6a1.8,1.8 0 1,0 3.6,0a1.8,1.8 0 1,0 -3.6,0zM431.4,36.6a1.8,1.8 0 1,0 3.6,0a1.8,1.8 0 1,0 -3.6,0zM438.8,36.6a1.8,1.8 0 1,0 3.6,0a1.8,1.8 0 1,0 -3.6,0zM446.2,36.8a1.8,1.8 0 1,0 3.6,0a1.8,1.8 0 1,0 -3.6,0zM453.6,37.1a1.8,1.8 0 1,0 3.6,0a1.8,1.8 0 1,0 -3.6,0zM461.0,37.6a1.8,1.8 0 1,0 3.6,0a1.8,1.8 0 1,0 -3.6,0zM468.4,38.6a1.8,1.8 0 1,0 3.6,0a1.8,1.8 0 1,0 -3.6,0zM475.8,42.0a1.8,1.8 0 1,0 3.6,0a1.8,1.8 0 1,0 -3.6,0zM481.6,46.0a1.8,1.8 0 1,0 3.6,0a1.8,1.8 0 1,0 -3.6,0zM487.4,50.4a1.8,1.8 0 1,0 3.6,0a1.8,1.8 0 1,0 -3.6,0zM493.2,56.2a1.8,1.8 0 1,0 3.6,0a1.8,1.8 0 1,0 -3.6,0zM499.0,63.1a1.8,1.8 0 1,0 3.6,0a1.8,1.8 0 1,0 -3.6,0zM504.8,70.7a1.8,1.8 0 1,0 3.6,0a1.8,1.8 0 1,0 -3.6,0zM510.6,80.0a1.8,1.8 0 1,0 3.6,0a1.8,1.8 0 1,0 -3.6,0zM516.4,91.5a1.8,1.8 0 1,0 3.6,0a1.8,1.8 0 1,0 -3.6,0zM522.2,104.4a1.8,1.8 0 1,0 3.6,0a1.8,1.8 0 1,0 -3.6,0zM528.0,117.5a1.8,1.8 0 1,0 3.6,0a1.8,1.8 0 1,0 -3.6,0zM533.8,130.8a1.8,1.8 0 1,0 3.6,0a1.8,1.8 0 1,0 -3.6,0zM539.6,145.7a1.8,1.8 0 1,0 3.6,0a1.8,1.8 0 1,0 -3.6,0zM545.4,161.7a1.8,1.8 0 1,0 3.6,0a1.8,1.8 0 1,0 -3.6,0zM551.2,178.0a1.8,1.8 0 1,0 3.6,0a1.8,1.8 0 1,0 -3.6,0zM557.0,190.2a1.8,1.8 0 1,0 3.6,0a1.8,1.8 0 1,0 -3.6,0zM562.8,200.9a1.8,1.8 0 1,0 3.6,0a1.8,1.8 0 1,0 -3.6,0zM568.6,212.0a1.8,1.8 0 1,0 3.6,0a1.8,1.8 0 1,0 -3.6,0zM571.0,216.4a1.8,1.8 0 1,0 3.6,0a1.8,1.8 0 1,0 -3.6,0zM575.9,224.5a1.8,1.8 0 1,0 3.6,0a1.8,1.8 0 1,0 -3.6,0zM580.8,230.1a1.8,1.8 0 1,0 3.6,0a1.8,1.8 0 1,0 -3.6,0zM585.8,234.2a1.8,1.8 0 1,0 3.6,0a1.8,1.8 0 1,0 -3.6,0zM590.7,237.5a1.8,1.8 0 1,0 3.6,0a1.8,1.8 0 1,0 -3.6,0zM595.6,240.4a1.8,1.8 0 1,0 3.6,0a1.8,1.8 0 1,0 -3.6,0zM600.6,243.1a1.8,1.8 0 1,0 3.6,0a1.8,1.8 0 1,0 -3.6,0zM605.5,245.6a1.8,1.8 0 1,0 3.6,0a1.8,1.8 0 1,0 -3.6,0zM610.4,248.0a1.8,1.8 0 1,0 3.6,0a1.8,1.8 0 1,0 -3.6,0zM615.4,250.4a1.8,1.8 0 1,0 3.6,0a1.8,1.8 0 1,0 -3.6,0zM620.3,252.8a1.8,1.8 0 1,0 3.6,0a1.8,1.8 0 1,0 -3.6,0zM625.2,255.0a1.8,1.8 0 1,0 3.6,0a1.8,1.8 0 1,0 -3.6,0zM630.1,257.0a1.8,1.8 0 1,0 3.6,0a1.8,1.8 0 1,0 -3.6,0zM635.1,258.7a1.8,1.8 0 1,0 3.6,0a1.8,1.8 0 1,0 -3.6,0zM640.0,260.1a1.8,1.8 0 1,0 3.6,0a1.8,1.8 0 1,0 -3.6,0zM644.9,261.3a1.8,1.8 0 1,0 3.6,0a1.8,1.8 0 1,0 -3.6,0zM649.9,262.5a1.8,1.8 0 1,0 3.6,0a1.8,1.8 0 1,0 -3.6,0zM654.8,263.6a1.8,1.8 0 1,0 3.6,0a1.8,1.8 0 1,0 -3.6,0zM659.7,264.6a1.8,1.8 0 1,0 3.6,0a1.8,1.8 0 1,0 -3.6,0zM664.7,265.6a1.8,1.8 0 1,0 3.6,0a1.8,1.8 0 1,0 -3.6,0zM669.6,266.5a1.8,1.8 0 1,0 3.6,0a1.8,1.8 0 1,0 -3.6,0zM674.5,267.3a1.8,1.8 0 1,0 3.6,0a1.8,1.8 0 1,0 -3.6,0zM682.4,268.5a1.8,1.8 0 1,0 3.6,0a1.8,1.8 0 1,0 -3.6,0zM689.8,269.6a1.8,1.8 0 1,0 3.6,0a1.8,1.8 0 1,0 -3.6,0zM697.1,270.5a1.8,1.8 0 1,0 3.6,0a1.8,1.8 0 1,0 -3.6,0zM704.5,271.3a1.8,1.8 0 1,0 3.6,0a1.8,1.8 0 1,0 -3.6,0zM711.8,272.1a1.8,1.8 0 1,0 3.6,0a1.8,1.8 0 1,0 -3.6,0zM719.1,272.8a1.8,1.8 0 1,0 3.6,0a1.8,1.8 0 1,0 -3.6,0zM726.5,273.4a1.8,1.8 0 1,0 3.6,0a1.8,1.8 0 1,0 -3.6,0zM733.8,274.0a1.8,1.8 0 1,0 3.6,0a1.8,1.8 0 1,0 -3.6,0zM741.2,274.4a1.8,1.8 0 1,0 3.6,0a1.8,1.8 0 1,0 -3.6,0zM748.5,274.8a1.8,1.8 0 1,0 3.6,0a1.8,1.8 0 1,0 -3.6,0zM755.9,275.2a1.8,1.8 0 1,0 3.6,0a1.8,1.8 0 1,0 -3.6,0zM763.2,275.5a1.8,1.8 0 1,0 3.6,0a1.8,1.8 0 1,0 -3.6,0zM770.6,275.8a1.8,1.8 0 1,0 3.6,0a1.8,1.8 0 1,0 -3.6,0zM777.9,276.0a1.8,1.8 0 1,0 3.6,0a1.8,1.8 0 1,0 -3.6,0zM785.3,276.3a1.8,1.8 0 1,0 3.6,0a1.8,1.8 0 1,0 -3.6,0zM792.6,276.5a1.8,1.8 0 1,0 3.6,0a1.8,1.8 0 1,0 -3.6,0zM800.0,276.7a1.8,1.8 0 1,0 3.6,0a1.8,1.8 0 1,0 -3.6,0zM807.3,277.0a1.8,1.8 0 1,0 3.6,0a1.8,1.8 0 1,0 -3.6,0zM814.6,277.2a1.8,1.8 0 1,0 3.6,0a1.8,1.8 0 1,0 -3.6,0zM822.0,277.4a1.8,1.8 0 1,0 3.6,0a1.8,1.8 0 1,0 -3.6,0zM829.3,277.6a1.8,1.8 0 1,0 3.6,0a1.8,1.8 0 1,0 -3.6,0z" fill="#443983"/>
<polyline points="395.3,36.6 402.7,36.6 410.1,36.6 417.5,36.6 424.9,36.6 432.3,36.6 439.7,36.6 447.1,36.6 454.5,36.7 461.9,37.0 469.3,37.5 476.7,38.4 484.0,41.5 489.8,45.6 495.6,50.2 501.5,56.3 507.3,63.5 513.1,71.6 518.9,81.7 524.7,94.0 530.5,107.7 536.3,121.4 542.1,135.8 547.9,152.1 553.7,169.4 559.5,184.5 565.3,196.4 571.1,207.9 572.8,211.4 577.7,221.1 582.6,228.5 587.6,233.5 592.5,237.5 597.4,240.8 602.4,243.7 607.3,246.4 612.2,249.0 617.2,251.5 622.1,253.9 627.0,256.2 631.9,258.3 636.9,260.1 641.8,261.5 646.7,262.8 651.7,263.9 656.6,265.0 661.5,266.0 666.5,267.0 671.4,267.9 676.3,268.7 684.2,269.9 691.6,270.9 698.9,271.8 706.3,272.6 713.6,273.3 720.9,274.0 728.3,274.6 735.6,275.1 743.0,275.5 750.3,275.8 757.7,276.1 765.0,276.4 772.4,276.6 779.7,276.9 787.1,277.1 794.4,277.3 801.8,277.5 809.1,277.7 816.4,277.9 823.8,278.1 831.1,278.3" fill="none" stroke="#481f70" stroke-width="1.7" stroke-linejoin="round"/>
<path d="M391.5,36.6h7.6M398.9,36.6h7.6M406.3,36.6h7.6M413.7,36.6h7.6M421.1,36.6h7.6M428.5,36.6h7.6M435.9,36.6h7.6M443.3,36.6h7.6M450.7,36.7h7.6M458.1,37.0h7.6M465.5,37.5h7.6M472.9,38.4h7.6M480.2,41.5h7.6M486.0,45.6h7.6M491.8,50.2h7.6M497.7,56.3h7.6M503.5,63.5h7.6M509.3,71.6h7.6M515.1,81.7h7.6M520.9,94.0h7.6M526.7,107.7h7.6M532.5,121.4h7.6M538.3,135.8h7.6M544.1,152.1h7.6M549.9,169.4h7.6M555.7,184.5h7.6M561.5,196.4h7.6M567.3,207.9h7.6M569.0,211.4h7.6M573.9,221.1h7.6M578.8,228.5h7.6M583.8,233.5h7.6M588.7,237.5h7.6M593.6,240.8h7.6M598.6,243.7h7.6M603.5,246.4h7.6" stroke="#481f70" stroke-width="1.7" fill="none"/>
<path d="M609.6,249.0h5.2M614.6,251.5h5.2M619.5,253.9h5.2M624.4,256.2h5.2M629.3,258.3h5.2M634.3,260.1h5.2M639.2,261.5h5.2M644.1,262.8h5.2M649.1,263.9h5.2M654.0,265.0h5.2M658.9,266.0h5.2M663.9,267.0h5.2M668.8,267.9h5.2M673.7,268.7h5.2M681.6,269.9h5.2M689.0,270.9h5.2M696.3,271.8h5.2M703.7,272.6h5.2M711.0,273.3h5.2M718.3,274.0h5.2M725.7,274.6h5.2M733.0,275.1h5.2M740.4,275.5h5.2M747.7,275.8h5.2M755.1,276.1h5.2M762.4,276.4h5.2M769.8,276.6h5.2M777.1,276.9h5.2M784.5,277.1h5.2M791.8,277.3h5.2M799.2,277.5h5.2M806.5,277.7h5.2M813.8,277.9h5.2M821.2,278.1h5.2M828.5,278.3h5.2" stroke="#481f70" stroke-width="1.5" fill="none"/>
<path d="M393.5,36.6a1.8,1.8 0 1,0 3.6,0a1.8,1.8 0 1,0 -3.6,0zM400.9,36.6a1.8,1.8 0 1,0 3.6,0a1.8,1.8 0 1,0 -3.6,0zM408.3,36.6a1.8,1.8 0 1,0 3.6,0a1.8,1.8 0 1,0 -3.6,0zM415.7,36.6a1.8,1.8 0 1,0 3.6,0a1.8,1.8 0 1,0 -3.6,0zM423.1,36.6a1.8,1.8 0 1,0 3.6,0a1.8,1.8 0 1,0 -3.6,0zM430.5,36.6a1.8,1.8 0 1,0 3.6,0a1.8,1.8 0 1,0 -3.6,0zM437.9,36.6a1.8,1.8 0 1,0 3.6,0a1.8,1.8 0 1,0 -3.6,0zM445.3,36.6a1.8,1.8 0 1,0 3.6,0a1.8,1.8 0 1,0 -3.6,0zM452.7,36.7a1.8,1.8 0 1,0 3.6,0a1.8,1.8 0 1,0 -3.6,0zM460.1,37.0a1.8,1.8 0 1,0 3.6,0a1.8,1.8 0 1,0 -3.6,0zM467.5,37.5a1.8,1.8 0 1,0 3.6,0a1.8,1.8 0 1,0 -3.6,0zM474.9,38.4a1.8,1.8 0 1,0 3.6,0a1.8,1.8 0 1,0 -3.6,0zM482.2,41.5a1.8,1.8 0 1,0 3.6,0a1.8,1.8 0 1,0 -3.6,0zM488.0,45.6a1.8,1.8 0 1,0 3.6,0a1.8,1.8 0 1,0 -3.6,0zM493.8,50.2a1.8,1.8 0 1,0 3.6,0a1.8,1.8 0 1,0 -3.6,0zM499.7,56.3a1.8,1.8 0 1,0 3.6,0a1.8,1.8 0 1,0 -3.6,0zM505.5,63.5a1.8,1.8 0 1,0 3.6,0a1.8,1.8 0 1,0 -3.6,0zM511.3,71.6a1.8,1.8 0 1,0 3.6,0a1.8,1.8 0 1,0 -3.6,0zM517.1,81.7a1.8,1.8 0 1,0 3.6,0a1.8,1.8 0 1,0 -3.6,0zM522.9,94.0a1.8,1.8 0 1,0 3.6,0a1.8,1.8 0 1,0 -3.6,0zM528.7,107.7a1.8,1.8 0 1,0 3.6,0a1.8,1.8 0 1,0 -3.6,0zM534.5,121.4a1.8,1.8 0 1,0 3.6,0a1.8,1.8 0 1,0 -3.6,0zM540.3,135.8a1.8,1.8 0 1,0 3.6,0a1.8,1.8 0 1,0 -3.6,0zM546.1,152.1a1.8,1.8 0 1,0 3.6,0a1.8,1.8 0 1,0 -3.6,0zM551.9,169.4a1.8,1.8 0 1,0 3.6,0a1.8,1.8 0 1,0 -3.6,0zM557.7,184.5a1.8,1.8 0 1,0 3.6,0a1.8,1.8 0 1,0 -3.6,0zM563.5,196.4a1.8,1.8 0 1,0 3.6,0a1.8,1.8 0 1,0 -3.6,0zM569.3,207.9a1.8,1.8 0 1,0 3.6,0a1.8,1.8 0 1,0 -3.6,0zM571.0,211.4a1.8,1.8 0 1,0 3.6,0a1.8,1.8 0 1,0 -3.6,0zM575.9,221.1a1.8,1.8 0 1,0 3.6,0a1.8,1.8 0 1,0 -3.6,0zM580.8,228.5a1.8,1.8 0 1,0 3.6,0a1.8,1.8 0 1,0 -3.6,0zM585.8,233.5a1.8,1.8 0 1,0 3.6,0a1.8,1.8 0 1,0 -3.6,0zM590.7,237.5a1.8,1.8 0 1,0 3.6,0a1.8,1.8 0 1,0 -3.6,0zM595.6,240.8a1.8,1.8 0 1,0 3.6,0a1.8,1.8 0 1,0 -3.6,0zM600.6,243.7a1.8,1.8 0 1,0 3.6,0a1.8,1.8 0 1,0 -3.6,0zM605.5,246.4a1.8,1.8 0 1,0 3.6,0a1.8,1.8 0 1,0 -3.6,0zM610.4,249.0a1.8,1.8 0 1,0 3.6,0a1.8,1.8 0 1,0 -3.6,0zM615.4,251.5a1.8,1.8 0 1,0 3.6,0a1.8,1.8 0 1,0 -3.6,0zM620.3,253.9a1.8,1.8 0 1,0 3.6,0a1.8,1.8 0 1,0 -3.6,0zM625.2,256.2a1.8,1.8 0 1,0 3.6,0a1.8,1.8 0 1,0 -3.6,0zM630.1,258.3a1.8,1.8 0 1,0 3.6,0a1.8,1.8 0 1,0 -3.6,0zM635.1,260.1a1.8,1.8 0 1,0 3.6,0a1.8,1.8 0 1,0 -3.6,0zM640.0,261.5a1.8,1.8 0 1,0 3.6,0a1.8,1.8 0 1,0 -3.6,0zM644.9,262.8a1.8,1.8 0 1,0 3.6,0a1.8,1.8 0 1,0 -3.6,0zM649.9,263.9a1.8,1.8 0 1,0 3.6,0a1.8,1.8 0 1,0 -3.6,0zM654.8,265.0a1.8,1.8 0 1,0 3.6,0a1.8,1.8 0 1,0 -3.6,0zM659.7,266.0a1.8,1.8 0 1,0 3.6,0a1.8,1.8 0 1,0 -3.6,0zM664.7,267.0a1.8,1.8 0 1,0 3.6,0a1.8,1.8 0 1,0 -3.6,0zM669.6,267.9a1.8,1.8 0 1,0 3.6,0a1.8,1.8 0 1,0 -3.6,0zM674.5,268.7a1.8,1.8 0 1,0 3.6,0a1.8,1.8 0 1,0 -3.6,0zM682.4,269.9a1.8,1.8 0 1,0 3.6,0a1.8,1.8 0 1,0 -3.6,0zM689.8,270.9a1.8,1.8 0 1,0 3.6,0a1.8,1.8 0 1,0 -3.6,0zM697.1,271.8a1.8,1.8 0 1,0 3.6,0a1.8,1.8 0 1,0 -3.6,0zM704.5,272.6a1.8,1.8 0 1,0 3.6,0a1.8,1.8 0 1,0 -3.6,0zM711.8,273.3a1.8,1.8 0 1,0 3.6,0a1.8,1.8 0 1,0 -3.6,0zM719.1,274.0a1.8,1.8 0 1,0 3.6,0a1.8,1.8 0 1,0 -3.6,0zM726.5,274.6a1.8,1.8 0 1,0 3.6,0a1.8,1.8 0 1,0 -3.6,0zM733.8,275.1a1.8,1.8 0 1,0 3.6,0a1.8,1.8 0 1,0 -3.6,0zM741.2,275.5a1.8,1.8 0 1,0 3.6,0a1.8,1.8 0 1,0 -3.6,0zM748.5,275.8a1.8,1.8 0 1,0 3.6,0a1.8,1.8 0 1,0 -3.6,0zM755.9,276.1a1.8,1.8 0 1,0 3.6,0a1.8,1.8 0 1,0 -3.6,0zM763.2,276.4a1.8,1.8 0 1,0 3.6,0a1.8,1.8 0 1,0 -3.6,0zM770.6,276.6a1.8,1.8 0 1,0 3.6,0a1.8,1.8 0 1,0 -3.6,0zM777.9,276.9a1.8,1.8 0 1,0 3.6,0a1.8,1.8 0 1,0 -3.6,0zM785.3,277.1a1.8,1.8 0 1,0 3.6,0a1.8,1.8 0 1,0 -3.6,0zM792.6,277.3a1.8,1.8 0 1,0 3.6,0a1.8,1.8 0 1,0 -3.6,0zM800.0,277.5a1.8,1.8 0 1,0 3.6,0a1.8,1.8 0 1,0 -3.6,0zM807.3,277.7a1.8,1.8 0 1,0 3.6,0a1.8,1.8 0 1,0 -3.6,0zM814.6,277.9a1.8,1.8 0 1,0 3.6,0a1.8,1.8 0 1,0 -3.6,0zM822.0,278.1a1.8,1.8 0 1,0 3.6,0a1.8,1.8 0 1,0 -3.6,0zM829.3,278.3a1.8,1.8 0 1,0 3.6,0a1.8,1.8 0 1,0 -3.6,0z" fill="#481f70"/>
<polyline points="395.3,36.6 424.9,36.6 454.5,36.6 484.1,38.4 490.2,41.0 496.0,45.2 501.8,50.0 507.6,56.3 513.4,63.9 519.2,72.6 525.0,83.5 530.8,96.9 536.6,111.3 542.4,125.7 548.2,141.5 554.0,159.1 559.8,177.2 565.6,191.0 572.8,205.8 577.7,216.5 582.6,225.9 587.6,232.1 592.5,236.8 597.4,240.5 602.4,243.8 607.3,246.8 612.2,249.5 617.2,252.2 622.1,254.8 627.0,257.3 631.9,259.4 636.9,261.2 641.8,262.7 646.7,264.0 651.7,265.1 656.6,266.3 661.5,267.3 666.5,268.2 671.4,269.1 676.3,269.9 684.2,271.1 691.6,272.1 698.9,272.9 706.3,273.7 713.6,274.4 720.9,275.0 728.3,275.5 735.6,276.0 743.0,276.3 750.3,276.6 757.7,276.9 765.0,277.2 772.4,277.4 779.7,277.6 787.1,277.8 794.4,278.0 801.8,278.2 809.1,278.4 816.4,278.6 823.8,278.7 831.1,278.9" fill="none" stroke="#440154" stroke-width="1.7" stroke-linejoin="round"/>
<path d="M391.5,36.6h7.6M421.1,36.6h7.6M450.7,36.6h7.6M480.3,38.4h7.6M486.4,41.0h7.6M492.2,45.2h7.6M498.0,50.0h7.6M503.8,56.3h7.6M509.6,63.9h7.6M515.4,72.6h7.6M521.2,83.5h7.6M527.0,96.9h7.6M532.8,111.3h7.6M538.6,125.7h7.6M544.4,141.5h7.6M550.2,159.1h7.6M556.0,177.2h7.6M561.8,191.0h7.6M569.0,205.8h7.6M573.9,216.5h7.6M578.8,225.9h7.6M583.8,232.1h7.6M588.7,236.8h7.6M593.6,240.5h7.6M598.6,243.8h7.6M603.5,246.8h7.6" stroke="#440154" stroke-width="1.7" fill="none"/>
<path d="M609.6,249.5h5.2M614.6,252.2h5.2M619.5,254.8h5.2M624.4,257.3h5.2M629.3,259.4h5.2M634.3,261.2h5.2M639.2,262.7h5.2M644.1,264.0h5.2M649.1,265.1h5.2M654.0,266.3h5.2M658.9,267.3h5.2M663.9,268.2h5.2M668.8,269.1h5.2M673.7,269.9h5.2M681.6,271.1h5.2M689.0,272.1h5.2M696.3,272.9h5.2M703.7,273.7h5.2M711.0,274.4h5.2M718.3,275.0h5.2M725.7,275.5h5.2M733.0,276.0h5.2M740.4,276.3h5.2M747.7,276.6h5.2M755.1,276.9h5.2M762.4,277.2h5.2M769.8,277.4h5.2M777.1,277.6h5.2M784.5,277.8h5.2M791.8,278.0h5.2M799.2,278.2h5.2M806.5,278.4h5.2M813.8,278.6h5.2M821.2,278.7h5.2M828.5,278.9h5.2" stroke="#440154" stroke-width="1.5" fill="none"/>
<path d="M393.5,36.6a1.8,1.8 0 1,0 3.6,0a1.8,1.8 0 1,0 -3.6,0zM423.1,36.6a1.8,1.8 0 1,0 3.6,0a1.8,1.8 0 1,0 -3.6,0zM452.7,36.6a1.8,1.8 0 1,0 3.6,0a1.8,1.8 0 1,0 -3.6,0zM482.3,38.4a1.8,1.8 0 1,0 3.6,0a1.8,1.8 0 1,0 -3.6,0zM488.4,41.0a1.8,1.8 0 1,0 3.6,0a1.8,1.8 0 1,0 -3.6,0zM494.2,45.2a1.8,1.8 0 1,0 3.6,0a1.8,1.8 0 1,0 -3.6,0zM500.0,50.0a1.8,1.8 0 1,0 3.6,0a1.8,1.8 0 1,0 -3.6,0zM505.8,56.3a1.8,1.8 0 1,0 3.6,0a1.8,1.8 0 1,0 -3.6,0zM511.6,63.9a1.8,1.8 0 1,0 3.6,0a1.8,1.8 0 1,0 -3.6,0zM517.4,72.6a1.8,1.8 0 1,0 3.6,0a1.8,1.8 0 1,0 -3.6,0zM523.2,83.5a1.8,1.8 0 1,0 3.6,0a1.8,1.8 0 1,0 -3.6,0zM529.0,96.9a1.8,1.8 0 1,0 3.6,0a1.8,1.8 0 1,0 -3.6,0zM534.8,111.3a1.8,1.8 0 1,0 3.6,0a1.8,1.8 0 1,0 -3.6,0zM540.6,125.7a1.8,1.8 0 1,0 3.6,0a1.8,1.8 0 1,0 -3.6,0zM546.4,141.5a1.8,1.8 0 1,0 3.6,0a1.8,1.8 0 1,0 -3.6,0zM552.2,159.1a1.8,1.8 0 1,0 3.6,0a1.8,1.8 0 1,0 -3.6,0zM558.0,177.2a1.8,1.8 0 1,0 3.6,0a1.8,1.8 0 1,0 -3.6,0zM563.8,191.0a1.8,1.8 0 1,0 3.6,0a1.8,1.8 0 1,0 -3.6,0zM571.0,205.8a1.8,1.8 0 1,0 3.6,0a1.8,1.8 0 1,0 -3.6,0zM575.9,216.5a1.8,1.8 0 1,0 3.6,0a1.8,1.8 0 1,0 -3.6,0zM580.8,225.9a1.8,1.8 0 1,0 3.6,0a1.8,1.8 0 1,0 -3.6,0zM585.8,232.1a1.8,1.8 0 1,0 3.6,0a1.8,1.8 0 1,0 -3.6,0zM590.7,236.8a1.8,1.8 0 1,0 3.6,0a1.8,1.8 0 1,0 -3.6,0zM595.6,240.5a1.8,1.8 0 1,0 3.6,0a1.8,1.8 0 1,0 -3.6,0zM600.6,243.8a1.8,1.8 0 1,0 3.6,0a1.8,1.8 0 1,0 -3.6,0zM605.5,246.8a1.8,1.8 0 1,0 3.6,0a1.8,1.8 0 1,0 -3.6,0zM610.4,249.5a1.8,1.8 0 1,0 3.6,0a1.8,1.8 0 1,0 -3.6,0zM615.4,252.2a1.8,1.8 0 1,0 3.6,0a1.8,1.8 0 1,0 -3.6,0zM620.3,254.8a1.8,1.8 0 1,0 3.6,0a1.8,1.8 0 1,0 -3.6,0zM625.2,257.3a1.8,1.8 0 1,0 3.6,0a1.8,1.8 0 1,0 -3.6,0zM630.1,259.4a1.8,1.8 0 1,0 3.6,0a1.8,1.8 0 1,0 -3.6,0zM635.1,261.2a1.8,1.8 0 1,0 3.6,0a1.8,1.8 0 1,0 -3.6,0zM640.0,262.7a1.8,1.8 0 1,0 3.6,0a1.8,1.8 0 1,0 -3.6,0zM644.9,264.0a1.8,1.8 0 1,0 3.6,0a1.8,1.8 0 1,0 -3.6,0zM649.9,265.1a1.8,1.8 0 1,0 3.6,0a1.8,1.8 0 1,0 -3.6,0zM654.8,266.3a1.8,1.8 0 1,0 3.6,0a1.8,1.8 0 1,0 -3.6,0zM659.7,267.3a1.8,1.8 0 1,0 3.6,0a1.8,1.8 0 1,0 -3.6,0zM664.7,268.2a1.8,1.8 0 1,0 3.6,0a1.8,1.8 0 1,0 -3.6,0zM669.6,269.1a1.8,1.8 0 1,0 3.6,0a1.8,1.8 0 1,0 -3.6,0zM674.5,269.9a1.8,1.8 0 1,0 3.6,0a1.8,1.8 0 1,0 -3.6,0zM682.4,271.1a1.8,1.8 0 1,0 3.6,0a1.8,1.8 0 1,0 -3.6,0zM689.8,272.1a1.8,1.8 0 1,0 3.6,0a1.8,1.8 0 1,0 -3.6,0zM697.1,272.9a1.8,1.8 0 1,0 3.6,0a1.8,1.8 0 1,0 -3.6,0zM704.5,273.7a1.8,1.8 0 1,0 3.6,0a1.8,1.8 0 1,0 -3.6,0zM711.8,274.4a1.8,1.8 0 1,0 3.6,0a1.8,1.8 0 1,0 -3.6,0zM719.1,275.0a1.8,1.8 0 1,0 3.6,0a1.8,1.8 0 1,0 -3.6,0zM726.5,275.5a1.8,1.8 0 1,0 3.6,0a1.8,1.8 0 1,0 -3.6,0zM733.8,276.0a1.8,1.8 0 1,0 3.6,0a1.8,1.8 0 1,0 -3.6,0zM741.2,276.3a1.8,1.8 0 1,0 3.6,0a1.8,1.8 0 1,0 -3.6,0zM748.5,276.6a1.8,1.8 0 1,0 3.6,0a1.8,1.8 0 1,0 -3.6,0zM755.9,276.9a1.8,1.8 0 1,0 3.6,0a1.8,1.8 0 1,0 -3.6,0zM763.2,277.2a1.8,1.8 0 1,0 3.6,0a1.8,1.8 0 1,0 -3.6,0zM770.6,277.4a1.8,1.8 0 1,0 3.6,0a1.8,1.8 0 1,0 -3.6,0zM777.9,277.6a1.8,1.8 0 1,0 3.6,0a1.8,1.8 0 1,0 -3.6,0zM785.3,277.8a1.8,1.8 0 1,0 3.6,0a1.8,1.8 0 1,0 -3.6,0zM792.6,278.0a1.8,1.8 0 1,0 3.6,0a1.8,1.8 0 1,0 -3.6,0zM800.0,278.2a1.8,1.8 0 1,0 3.6,0a1.8,1.8 0 1,0 -3.6,0zM807.3,278.4a1.8,1.8 0 1,0 3.6,0a1.8,1.8 0 1,0 -3.6,0zM814.6,278.6a1.8,1.8 0 1,0 3.6,0a1.8,1.8 0 1,0 -3.6,0zM822.0,278.7a1.8,1.8 0 1,0 3.6,0a1.8,1.8 0 1,0 -3.6,0zM829.3,278.9a1.8,1.8 0 1,0 3.6,0a1.8,1.8 0 1,0 -3.6,0z" fill="#440154"/>
<polyline points="440.1,36.6 469.6,36.8 499.2,41.3 513.7,52.0 528.4,72.1 536.0,87.5 539.8,98.1 543.9,107.3 550.8,131.6 557.8,148.0 572.9,193.4 587.0,225.2 602.6,244.0 617.0,254.4 632.1,261.4 646.9,265.3 661.1,268.9 676.4,271.2 705.9,274.7 735.7,277.0" fill="none" stroke="#ff0000" stroke-width="1.8" stroke-linejoin="round"/>
<path d="M440.1,35.4V37.8M469.6,35.6V38.0M499.2,40.1V42.5M513.7,50.8V53.2M528.4,70.9V73.3M536.0,86.3V88.7M539.8,96.9V99.3M543.9,106.1V108.5M550.8,130.4V132.8M557.8,146.8V149.2M572.9,192.2V194.6M587.0,224.0V226.4M602.6,242.8V245.2M617.0,253.2V255.6M632.1,260.2V262.6M646.9,264.1V266.5M661.1,267.7V270.1M676.4,270.0V272.4M705.9,273.5V275.9M735.7,275.8V278.2" stroke="#ff0000" stroke-width="1.8" fill="none"/>
<path d="M436.3,35.4h7.6M436.3,37.8h7.6M465.8,35.6h7.6M465.8,38.0h7.6M495.4,40.1h7.6M495.4,42.5h7.6M509.9,50.8h7.6M509.9,53.2h7.6M524.6,70.9h7.6M524.6,73.3h7.6M532.2,86.3h7.6M532.2,88.7h7.6M536.0,96.9h7.6M536.0,99.3h7.6M540.1,106.1h7.6M540.1,108.5h7.6M547.0,130.4h7.6M547.0,132.8h7.6M554.0,146.8h7.6M554.0,149.2h7.6M569.1,192.2h7.6M569.1,194.6h7.6M583.2,224.0h7.6M583.2,226.4h7.6M598.8,242.8h7.6M598.8,245.2h7.6M613.2,253.2h7.6M613.2,255.6h7.6M628.3,260.2h7.6M628.3,262.6h7.6M643.1,264.1h7.6M643.1,266.5h7.6M657.3,267.7h7.6M657.3,270.1h7.6M672.6,270.0h7.6M672.6,272.4h7.6M702.1,273.5h7.6M702.1,275.9h7.6M731.9,275.8h7.6M731.9,278.2h7.6" stroke="#ff0000" stroke-width="1.7" fill="none"/>
<path d="M438.2,36.6a1.9,1.9 0 1,0 3.8,0a1.9,1.9 0 1,0 -3.8,0zM467.7,36.8a1.9,1.9 0 1,0 3.8,0a1.9,1.9 0 1,0 -3.8,0zM497.3,41.3a1.9,1.9 0 1,0 3.8,0a1.9,1.9 0 1,0 -3.8,0zM511.8,52.0a1.9,1.9 0 1,0 3.8,0a1.9,1.9 0 1,0 -3.8,0zM526.5,72.1a1.9,1.9 0 1,0 3.8,0a1.9,1.9 0 1,0 -3.8,0zM534.1,87.5a1.9,1.9 0 1,0 3.8,0a1.9,1.9 0 1,0 -3.8,0zM537.9,98.1a1.9,1.9 0 1,0 3.8,0a1.9,1.9 0 1,0 -3.8,0zM542.0,107.3a1.9,1.9 0 1,0 3.8,0a1.9,1.9 0 1,0 -3.8,0zM548.9,131.6a1.9,1.9 0 1,0 3.8,0a1.9,1.9 0 1,0 -3.8,0zM555.9,148.0a1.9,1.9 0 1,0 3.8,0a1.9,1.9 0 1,0 -3.8,0zM571.0,193.4a1.9,1.9 0 1,0 3.8,0a1.9,1.9 0 1,0 -3.8,0zM585.1,225.2a1.9,1.9 0 1,0 3.8,0a1.9,1.9 0 1,0 -3.8,0zM600.7,244.0a1.9,1.9 0 1,0 3.8,0a1.9,1.9 0 1,0 -3.8,0zM615.1,254.4a1.9,1.9 0 1,0 3.8,0a1.9,1.9 0 1,0 -3.8,0zM630.2,261.4a1.9,1.9 0 1,0 3.8,0a1.9,1.9 0 1,0 -3.8,0zM645.0,265.3a1.9,1.9 0 1,0 3.8,0a1.9,1.9 0 1,0 -3.8,0zM659.2,268.9a1.9,1.9 0 1,0 3.8,0a1.9,1.9 0 1,0 -3.8,0zM674.5,271.2a1.9,1.9 0 1,0 3.8,0a1.9,1.9 0 1,0 -3.8,0zM704.0,274.7a1.9,1.9 0 1,0 3.8,0a1.9,1.9 0 1,0 -3.8,0zM733.8,277.0a1.9,1.9 0 1,0 3.8,0a1.9,1.9 0 1,0 -3.8,0z" fill="#ff0000"/>
</g>
<path d="M45.4,292.4v-4M94.5,292.4v-4M143.5,292.4v-4M192.5,292.4v-4M241.6,292.4v-4M290.6,292.4v-4M339.7,292.4v-4M30.7,285.9h4M30.7,236.9h4M30.7,188.0h4M30.7,139.0h4M30.7,90.1h4M30.7,41.1h4M406.9,292.4v-4M464.9,292.4v-4M523.0,292.4v-4M581.0,292.4v-4M639.0,292.4v-4M697.1,292.4v-4M755.1,292.4v-4M389.5,284.7h4M389.5,235.1h4M389.5,185.5h4M389.5,135.8h4M389.5,86.2h4M389.5,36.6h4" stroke="#000" stroke-width="1" fill="none"/>
<rect x="30.7" y="0.9" width="328.6" height="291.5" fill="none" stroke="#000" stroke-width="1.1"/>
<rect x="389.5" y="0.9" width="388.8" height="291.5" fill="none" stroke="#000" stroke-width="1.1"/>
<text x="45.4" y="304.4" font-size="13.0" text-anchor="middle" textLength="15.6" lengthAdjust="spacingAndGlyphs" >1.5</text>
<text x="406.9" y="304.4" font-size="13.0" text-anchor="middle" textLength="15.6" lengthAdjust="spacingAndGlyphs" >1.5</text>
<text x="94.5" y="304.4" font-size="13.0" text-anchor="middle" textLength="15.6" lengthAdjust="spacingAndGlyphs" >2.0</text>
<text x="464.9" y="304.4" font-size="13.0" text-anchor="middle" textLength="15.6" lengthAdjust="spacingAndGlyphs" >2.0</text>
<text x="143.5" y="304.4" font-size="13.0" text-anchor="middle" textLength="15.6" lengthAdjust="spacingAndGlyphs" >2.5</text>
<text x="523.0" y="304.4" font-size="13.0" text-anchor="middle" textLength="15.6" lengthAdjust="spacingAndGlyphs" >2.5</text>
<text x="192.5" y="304.4" font-size="13.0" text-anchor="middle" textLength="15.6" lengthAdjust="spacingAndGlyphs" >3.0</text>
<text x="581.0" y="304.4" font-size="13.0" text-anchor="middle" textLength="15.6" lengthAdjust="spacingAndGlyphs" >3.0</text>
<text x="241.6" y="304.4" font-size="13.0" text-anchor="middle" textLength="15.6" lengthAdjust="spacingAndGlyphs" >3.5</text>
<text x="639.0" y="304.4" font-size="13.0" text-anchor="middle" textLength="15.6" lengthAdjust="spacingAndGlyphs" >3.5</text>
<text x="290.6" y="304.4" font-size="13.0" text-anchor="middle" textLength="15.6" lengthAdjust="spacingAndGlyphs" >4.0</text>
<text x="697.1" y="304.4" font-size="13.0" text-anchor="middle" textLength="15.6" lengthAdjust="spacingAndGlyphs" >4.0</text>
<text x="339.7" y="304.4" font-size="13.0" text-anchor="middle" textLength="15.6" lengthAdjust="spacingAndGlyphs" >4.5</text>
<text x="755.1" y="304.4" font-size="13.0" text-anchor="middle" textLength="15.6" lengthAdjust="spacingAndGlyphs" >4.5</text>
<text x="27.9" y="290.7" font-size="13.0" text-anchor="end" textLength="23.8" lengthAdjust="spacingAndGlyphs" >0.38</text>
<text x="27.9" y="241.7" font-size="13.0" text-anchor="end" textLength="23.8" lengthAdjust="spacingAndGlyphs" >0.41</text>
<text x="27.9" y="192.8" font-size="13.0" text-anchor="end" textLength="23.8" lengthAdjust="spacingAndGlyphs" >0.44</text>
<text x="27.9" y="143.8" font-size="13.0" text-anchor="end" textLength="23.8" lengthAdjust="spacingAndGlyphs" >0.47</text>
<text x="27.9" y="94.9" font-size="13.0" text-anchor="end" textLength="23.8" lengthAdjust="spacingAndGlyphs" >0.50</text>
<text x="27.9" y="45.9" font-size="13.0" text-anchor="end" textLength="23.8" lengthAdjust="spacingAndGlyphs" >0.53</text>
<text x="386.6" y="289.1" font-size="13.0" text-anchor="end" textLength="15.6" lengthAdjust="spacingAndGlyphs" >0.0</text>
<text x="386.6" y="239.5" font-size="13.0" text-anchor="end" textLength="15.6" lengthAdjust="spacingAndGlyphs" >0.2</text>
<text x="386.6" y="189.9" font-size="13.0" text-anchor="end" textLength="15.6" lengthAdjust="spacingAndGlyphs" >0.4</text>
<text x="386.6" y="140.2" font-size="13.0" text-anchor="end" textLength="15.6" lengthAdjust="spacingAndGlyphs" >0.6</text>
<text x="386.6" y="90.6" font-size="13.0" text-anchor="end" textLength="15.6" lengthAdjust="spacingAndGlyphs" >0.8</text>
<text x="386.6" y="41.0" font-size="13.0" text-anchor="end" textLength="15.6" lengthAdjust="spacingAndGlyphs" >1.0</text>
<text x="195.8" y="322.0" font-size="17.5" text-anchor="middle" textLength="15.4" lengthAdjust="spacingAndGlyphs" font-style="italic">W</text>
<text x="584.5" y="322.0" font-size="17.5" text-anchor="middle" textLength="15.4" lengthAdjust="spacingAndGlyphs" font-style="italic">W</text>
<text x="21.8" y="19.8" font-size="22" text-anchor="middle" font-style="italic">r</text>
<path d="M16.8,6.9h10.2" stroke="#000" stroke-width="1"/>
<text x="380.0" y="19.3" font-size="22" text-anchor="middle" font-style="italic">s</text>
<path d="M375.4,5.9h8.8" stroke="#000" stroke-width="1"/>
<text x="41.7" y="19.9" font-size="16.8" text-anchor="start" textLength="21.4" lengthAdjust="spacingAndGlyphs" font-weight="bold">(a)</text>
<text x="397.5" y="21.6" font-size="18.2" text-anchor="start" textLength="22.8" lengthAdjust="spacingAndGlyphs" font-weight="bold">(b)</text>
<path d="M223.1,18.4h16.8M231.5,11.2v14.4" stroke="#fde725" stroke-width="1.25" fill="none"/>
<path d="M227.5,11.2h8M227.5,25.6h8" stroke="#fde725" stroke-width="1.5" fill="none"/>
<circle cx="231.5" cy="18.4" r="1.8" fill="#fde725"/>
<text x="244.2" y="22.6" font-size="12.4" text-anchor="start" textLength="25.3" lengthAdjust="spacingAndGlyphs" >L=6</text>
<path d="M223.1,33.6h16.8M231.5,26.4v14.4" stroke="#c8e020" stroke-width="1.25" fill="none"/>
<path d="M227.5,26.4h8M227.5,40.8h8" stroke="#c8e020" stroke-width="1.5" fill="none"/>
<circle cx="231.5" cy="33.6" r="1.8" fill="#c8e020"/>
<text x="244.2" y="37.8" font-size="12.4" text-anchor="start" textLength="25.3" lengthAdjust="spacingAndGlyphs" >L=7</text>
<path d="M223.1,48.8h16.8M231.5,41.6v14.4" stroke="#90d743" stroke-width="1.25" fill="none"/>
<path d="M227.5,41.6h8M227.5,56.0h8" stroke="#90d743" stroke-width="1.5" fill="none"/>
<circle cx="231.5" cy="48.8" r="1.8" fill="#90d743"/>
<text x="244.2" y="53.0" font-size="12.4" text-anchor="start" textLength="25.3" lengthAdjust="spacingAndGlyphs" >L=8</text>
<path d="M223.1,64.0h16.8M231.5,56.8v14.4" stroke="#5ec962" stroke-width="1.25" fill="none"/>
<path d="M227.5,56.8h8M227.5,71.2h8" stroke="#5ec962" stroke-width="1.5" fill="none"/>
<circle cx="231.5" cy="64.0" r="1.8" fill="#5ec962"/>
<text x="244.2" y="68.2" font-size="12.4" text-anchor="start" textLength="25.3" lengthAdjust="spacingAndGlyphs" >L=9</text>
<path d="M223.1,79.2h16.8M231.5,72.0v14.4" stroke="#35b779" stroke-width="1.25" fill="none"/>
<path d="M227.5,72.0h8M227.5,86.4h8" stroke="#35b779" stroke-width="1.5" fill="none"/>
<circle cx="231.5" cy="79.2" r="1.8" fill="#35b779"/>
<text x="244.2" y="83.4" font-size="12.4" text-anchor="start" textLength="31.6" lengthAdjust="spacingAndGlyphs" >L=10</text>
<path d="M223.1,94.4h16.8M231.5,87.2v14.4" stroke="#20a486" stroke-width="1.25" fill="none"/>
<path d="M227.5,87.2h8M227.5,101.6h8" stroke="#20a486" stroke-width="1.5" fill="none"/>
<circle cx="231.5" cy="94.4" r="1.8" fill="#20a486"/>
<text x="244.2" y="98.6" font-size="12.4" text-anchor="start" textLength="31.6" lengthAdjust="spacingAndGlyphs" >L=11</text>
<path d="M223.1,109.6h16.8M231.5,102.4v14.4" stroke="#21918c" stroke-width="1.25" fill="none"/>
<path d="M227.5,102.4h8M227.5,116.8h8" stroke="#21918c" stroke-width="1.5" fill="none"/>
<circle cx="231.5" cy="109.6" r="1.8" fill="#21918c"/>
<text x="244.2" y="113.8" font-size="12.4" text-anchor="start" textLength="31.6" lengthAdjust="spacingAndGlyphs" >L=12</text>
<path d="M293.3,18.4h16.8M301.7,11.2v14.4" stroke="#287c8e" stroke-width="1.25" fill="none"/>
<path d="M297.7,11.2h8M297.7,25.6h8" stroke="#287c8e" stroke-width="1.5" fill="none"/>
<circle cx="301.7" cy="18.4" r="1.8" fill="#287c8e"/>
<text x="314.6" y="22.6" font-size="12.4" text-anchor="start" textLength="31.6" lengthAdjust="spacingAndGlyphs" >L=13</text>
<path d="M293.3,33.6h16.8M301.7,26.4v14.4" stroke="#31688e" stroke-width="1.25" fill="none"/>
<path d="M297.7,26.4h8M297.7,40.8h8" stroke="#31688e" stroke-width="1.5" fill="none"/>
<circle cx="301.7" cy="33.6" r="1.8" fill="#31688e"/>
<text x="314.6" y="37.8" font-size="12.4" text-anchor="start" textLength="31.6" lengthAdjust="spacingAndGlyphs" >L=14</text>
<path d="M293.3,48.8h16.8M301.7,41.6v14.4" stroke="#3b528b" stroke-width="1.25" fill="none"/>
<path d="M297.7,41.6h8M297.7,56.0h8" stroke="#3b528b" stroke-width="1.5" fill="none"/>
<circle cx="301.7" cy="48.8" r="1.8" fill="#3b528b"/>
<text x="314.6" y="53.0" font-size="12.4" text-anchor="start" textLength="31.6" lengthAdjust="spacingAndGlyphs" >L=15</text>
<path d="M293.3,64.0h16.8M301.7,56.8v14.4" stroke="#443983" stroke-width="1.25" fill="none"/>
<path d="M297.7,56.8h8M297.7,71.2h8" stroke="#443983" stroke-width="1.5" fill="none"/>
<circle cx="301.7" cy="64.0" r="1.8" fill="#443983"/>
<text x="314.6" y="68.2" font-size="12.4" text-anchor="start" textLength="31.6" lengthAdjust="spacingAndGlyphs" >L=16</text>
<path d="M293.3,79.2h16.8M301.7,72.0v14.4" stroke="#481f70" stroke-width="1.25" fill="none"/>
<path d="M297.7,72.0h8M297.7,86.4h8" stroke="#481f70" stroke-width="1.5" fill="none"/>
<circle cx="301.7" cy="79.2" r="1.8" fill="#481f70"/>
<text x="314.6" y="83.4" font-size="12.4" text-anchor="start" textLength="31.6" lengthAdjust="spacingAndGlyphs" >L=17</text>
<path d="M293.3,94.4h16.8M301.7,87.2v14.4" stroke="#440154" stroke-width="1.25" fill="none"/>
<path d="M297.7,87.2h8M297.7,101.6h8" stroke="#440154" stroke-width="1.5" fill="none"/>
<circle cx="301.7" cy="94.4" r="1.8" fill="#440154"/>
<text x="314.6" y="98.6" font-size="12.4" text-anchor="start" textLength="31.6" lengthAdjust="spacingAndGlyphs" >L=18</text>
<path d="M293.3,109.6h16.8M301.7,102.4v14.4" stroke="#ff0000" stroke-width="1.25" fill="none"/>
<path d="M297.7,102.4h8M297.7,116.8h8" stroke="#ff0000" stroke-width="1.5" fill="none"/>
<circle cx="301.7" cy="109.6" r="1.8" fill="#ff0000"/>
<text x="314.6" y="113.8" font-size="12.4" text-anchor="start" textLength="31.6" lengthAdjust="spacingAndGlyphs" >L=20</text>
<path d="M397.6,187.5h18.4M406.8,180.3v14.4" stroke="#fde725" stroke-width="1.6" fill="none"/>
<path d="M402.8,180.3h8M402.8,194.7h8" stroke="#fde725" stroke-width="1.5" fill="none"/>
<circle cx="406.8" cy="187.5" r="1.8" fill="#fde725"/>
<text x="418.7" y="191.7" font-size="12.4" text-anchor="start" textLength="25.3" lengthAdjust="spacingAndGlyphs" >L=6</text>
<path d="M397.6,203.0h18.4M406.8,195.8v14.4" stroke="#c8e020" stroke-width="1.6" fill="none"/>
<path d="M402.8,195.8h8M402.8,210.2h8" stroke="#c8e020" stroke-width="1.5" fill="none"/>
<circle cx="406.8" cy="203.0" r="1.8" fill="#c8e020"/>
<text x="418.7" y="207.2" font-size="12.4" text-anchor="start" textLength="25.3" lengthAdjust="spacingAndGlyphs" >L=7</text>
<path d="M397.6,218.5h18.4M406.8,211.3v14.4" stroke="#90d743" stroke-width="1.6" fill="none"/>
<path d="M402.8,211.3h8M402.8,225.7h8" stroke="#90d743" stroke-width="1.5" fill="none"/>
<circle cx="406.8" cy="218.5" r="1.8" fill="#90d743"/>
<text x="418.7" y="222.7" font-size="12.4" text-anchor="start" textLength="25.3" lengthAdjust="spacingAndGlyphs" >L=8</text>
<path d="M397.6,234.0h18.4M406.8,226.8v14.4" stroke="#5ec962" stroke-width="1.6" fill="none"/>
<path d="M402.8,226.8h8M402.8,241.2h8" stroke="#5ec962" stroke-width="1.5" fill="none"/>
<circle cx="406.8" cy="234.0" r="1.8" fill="#5ec962"/>
<text x="418.7" y="238.2" font-size="12.4" text-anchor="start" textLength="25.3" lengthAdjust="spacingAndGlyphs" >L=9</text>
<path d="M397.6,249.5h18.4M406.8,242.3v14.4" stroke="#35b779" stroke-width="1.6" fill="none"/>
<path d="M402.8,242.3h8M402.8,256.7h8" stroke="#35b779" stroke-width="1.5" fill="none"/>
<circle cx="406.8" cy="249.5" r="1.8" fill="#35b779"/>
<text x="418.7" y="253.7" font-size="12.4" text-anchor="start" textLength="31.6" lengthAdjust="spacingAndGlyphs" >L=10</text>
<path d="M397.6,265.0h18.4M406.8,257.8v14.4" stroke="#20a486" stroke-width="1.6" fill="none"/>
<path d="M402.8,257.8h8M402.8,272.2h8" stroke="#20a486" stroke-width="1.5" fill="none"/>
<circle cx="406.8" cy="265.0" r="1.8" fill="#20a486"/>
<text x="418.7" y="269.2" font-size="12.4" text-anchor="start" textLength="31.6" lengthAdjust="spacingAndGlyphs" >L=11</text>
<path d="M397.6,280.5h18.4M406.8,273.3v14.4" stroke="#21918c" stroke-width="1.6" fill="none"/>
<path d="M402.8,273.3h8M402.8,287.7h8" stroke="#21918c" stroke-width="1.5" fill="none"/>
<circle cx="406.8" cy="280.5" r="1.8" fill="#21918c"/>
<text x="418.7" y="284.7" font-size="12.4" text-anchor="start" textLength="31.6" lengthAdjust="spacingAndGlyphs" >L=12</text>
<path d="M466.6,187.5h18.4M475.8,180.3v14.4" stroke="#287c8e" stroke-width="1.6" fill="none"/>
<path d="M471.8,180.3h8M471.8,194.7h8" stroke="#287c8e" stroke-width="1.5" fill="none"/>
<circle cx="475.8" cy="187.5" r="1.8" fill="#287c8e"/>
<text x="487.6" y="191.7" font-size="12.4" text-anchor="start" textLength="31.6" lengthAdjust="spacingAndGlyphs" >L=13</text>
<path d="M466.6,203.0h18.4M475.8,195.8v14.4" stroke="#31688e" stroke-width="1.6" fill="none"/>
<path d="M471.8,195.8h8M471.8,210.2h8" stroke="#31688e" stroke-width="1.5" fill="none"/>
<circle cx="475.8" cy="203.0" r="1.8" fill="#31688e"/>
<text x="487.6" y="207.2" font-size="12.4" text-anchor="start" textLength="31.6" lengthAdjust="spacingAndGlyphs" >L=14</text>
<path d="M466.6,218.5h18.4M475.8,211.3v14.4" stroke="#3b528b" stroke-width="1.6" fill="none"/>
<path d="M471.8,211.3h8M471.8,225.7h8" stroke="#3b528b" stroke-width="1.5" fill="none"/>
<circle cx="475.8" cy="218.5" r="1.8" fill="#3b528b"/>
<text x="487.6" y="222.7" font-size="12.4" text-anchor="start" textLength="31.6" lengthAdjust="spacingAndGlyphs" >L=15</text>
<path d="M466.6,234.0h18.4M475.8,226.8v14.4" stroke="#443983" stroke-width="1.6" fill="none"/>
<path d="M471.8,226.8h8M471.8,241.2h8" stroke="#443983" stroke-width="1.5" fill="none"/>
<circle cx="475.8" cy="234.0" r="1.8" fill="#443983"/>
<text x="487.6" y="238.2" font-size="12.4" text-anchor="start" textLength="31.6" lengthAdjust="spacingAndGlyphs" >L=16</text>
<path d="M466.6,249.5h18.4M475.8,242.3v14.4" stroke="#481f70" stroke-width="1.6" fill="none"/>
<path d="M471.8,242.3h8M471.8,256.7h8" stroke="#481f70" stroke-width="1.5" fill="none"/>
<circle cx="475.8" cy="249.5" r="1.8" fill="#481f70"/>
<text x="487.6" y="253.7" font-size="12.4" text-anchor="start" textLength="31.6" lengthAdjust="spacingAndGlyphs" >L=17</text>
<path d="M466.6,265.0h18.4M475.8,257.8v14.4" stroke="#440154" stroke-width="1.6" fill="none"/>
<path d="M471.8,257.8h8M471.8,272.2h8" stroke="#440154" stroke-width="1.5" fill="none"/>
<circle cx="475.8" cy="265.0" r="1.8" fill="#440154"/>
<text x="487.6" y="269.2" font-size="12.4" text-anchor="start" textLength="31.6" lengthAdjust="spacingAndGlyphs" >L=18</text>
<path d="M466.6,280.5h18.4M475.8,273.3v14.4" stroke="#ff0000" stroke-width="1.6" fill="none"/>
<path d="M471.8,273.3h8M471.8,287.7h8" stroke="#ff0000" stroke-width="1.5" fill="none"/>
<circle cx="475.8" cy="280.5" r="1.8" fill="#ff0000"/>
<text x="487.6" y="284.7" font-size="12.4" text-anchor="start" textLength="31.6" lengthAdjust="spacingAndGlyphs" >L=20</text>
<rect x="615.5" y="8.6" width="157.9" height="152.6" fill="#fff"/>
<polyline points="625.1,147.2 644.8,129.4 664.6,111.6 684.3,93.8 704.0,76.0 723.7,58.2 743.5,40.4 763.2,22.6" fill="none" stroke="#1f77b4" stroke-width="1.4"/>
<rect x="622.4" y="144.5" width="5.4" height="5.4" fill="#1f77b4"/>
<rect x="642.1" y="126.7" width="5.4" height="5.4" fill="#1f77b4"/>
<rect x="661.9" y="108.9" width="5.4" height="5.4" fill="#1f77b4"/>
<rect x="681.6" y="91.1" width="5.4" height="5.4" fill="#1f77b4"/>
<rect x="701.3" y="73.3" width="5.4" height="5.4" fill="#1f77b4"/>
<rect x="721.0" y="55.5" width="5.4" height="5.4" fill="#1f77b4"/>
<rect x="740.8" y="37.7" width="5.4" height="5.4" fill="#1f77b4"/>
<rect x="760.5" y="19.9" width="5.4" height="5.4" fill="#1f77b4"/>
<polyline points="635.0,140.3 654.7,122.5 674.4,104.7 694.1,86.9 713.9,69.1 733.6,51.3 753.3,33.5" fill="none" stroke="#ff7f0e" stroke-width="1.4"/>
<path d="M635.0,136.4l3.2,3.9l-3.2,3.9l-3.2,-3.9z" fill="#ff7f0e"/>
<path d="M654.7,118.6l3.2,3.9l-3.2,3.9l-3.2,-3.9z" fill="#ff7f0e"/>
<path d="M674.4,100.8l3.2,3.9l-3.2,3.9l-3.2,-3.9z" fill="#ff7f0e"/>
<path d="M694.1,83.0l3.2,3.9l-3.2,3.9l-3.2,-3.9z" fill="#ff7f0e"/>
<path d="M713.9,65.2l3.2,3.9l-3.2,3.9l-3.2,-3.9z" fill="#ff7f0e"/>
<path d="M733.6,47.4l3.2,3.9l-3.2,3.9l-3.2,-3.9z" fill="#ff7f0e"/>
<path d="M753.3,29.6l3.2,3.9l-3.2,3.9l-3.2,-3.9z" fill="#ff7f0e"/>
<path d="M625.1,161.2v-3.5M644.8,161.2v-3.5M664.6,161.2v-3.5M684.3,161.2v-3.5M704.0,161.2v-3.5M723.7,161.2v-3.5M743.5,161.2v-3.5M763.2,161.2v-3.5M615.5,161.2h3.5M615.5,135.8h3.5M615.5,110.3h3.5M615.5,84.9h3.5M615.5,59.5h3.5M615.5,34.0h3.5M615.5,8.6h3.5" stroke="#000" stroke-width="1" fill="none"/>
<rect x="615.5" y="8.6" width="157.9" height="152.6" fill="none" stroke="#000" stroke-width="1.1"/>
<text x="625.1" y="175.0" font-size="12.6" text-anchor="middle" textLength="6.2" lengthAdjust="spacingAndGlyphs" >6</text>
<text x="644.8" y="175.0" font-size="12.6" text-anchor="middle" textLength="6.2" lengthAdjust="spacingAndGlyphs" >8</text>
<text x="664.6" y="175.0" font-size="12.6" text-anchor="middle" textLength="12.6" lengthAdjust="spacingAndGlyphs" >10</text>
<text x="684.3" y="175.0" font-size="12.6" text-anchor="middle" textLength="12.6" lengthAdjust="spacingAndGlyphs" >12</text>
<text x="704.0" y="175.0" font-size="12.6" text-anchor="middle" textLength="12.6" lengthAdjust="spacingAndGlyphs" >14</text>
<text x="723.7" y="175.0" font-size="12.6" text-anchor="middle" textLength="12.6" lengthAdjust="spacingAndGlyphs" >16</text>
<text x="743.5" y="175.0" font-size="12.6" text-anchor="middle" textLength="12.6" lengthAdjust="spacingAndGlyphs" >18</text>
<text x="763.2" y="175.0" font-size="12.6" text-anchor="middle" textLength="12.6" lengthAdjust="spacingAndGlyphs" >20</text>
<text x="612.8" y="165.5" font-size="12.6" text-anchor="end" textLength="6.2" lengthAdjust="spacingAndGlyphs" >1</text>
<text x="612.8" y="140.1" font-size="12.6" text-anchor="end" textLength="6.2" lengthAdjust="spacingAndGlyphs" >2</text>
<text x="612.8" y="114.6" font-size="12.6" text-anchor="end" textLength="6.2" lengthAdjust="spacingAndGlyphs" >3</text>
<text x="612.8" y="89.2" font-size="12.6" text-anchor="end" textLength="6.2" lengthAdjust="spacingAndGlyphs" >4</text>
<text x="612.8" y="63.8" font-size="12.6" text-anchor="end" textLength="6.2" lengthAdjust="spacingAndGlyphs" >5</text>
<text x="612.8" y="38.3" font-size="12.6" text-anchor="end" textLength="6.2" lengthAdjust="spacingAndGlyphs" >6</text>
<text x="612.8" y="12.9" font-size="12.6" text-anchor="end" textLength="6.2" lengthAdjust="spacingAndGlyphs" >7</text>
<text x="694.5" y="189.3" font-size="19.5" text-anchor="middle" font-style="italic">L</text>
<g transform="translate(601.6,100.5) rotate(-90)"><text x="0" y="0" font-size="19.5" font-style="italic" textLength="12" lengthAdjust="spacingAndGlyphs">S</text><text x="12.5" y="4.2" font-size="13" font-style="italic" textLength="37" lengthAdjust="spacingAndGlyphs">COE</text></g>
</svg>
</body></html>
